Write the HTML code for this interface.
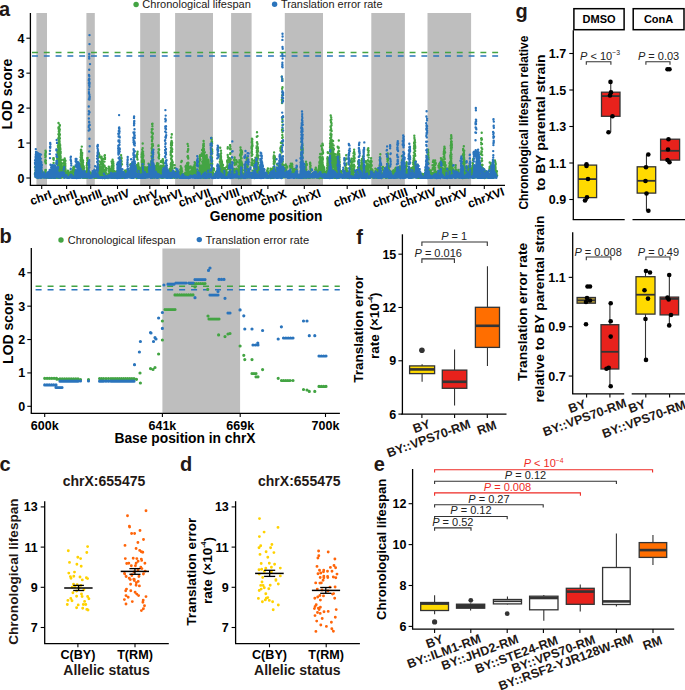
<!DOCTYPE html>
<html><head><meta charset="utf-8"><style>
html,body{margin:0;padding:0;background:#fff;}
svg{display:block;font-family:"Liberation Sans", sans-serif;}
</style></head><body>
<svg width="685" height="690" viewBox="0 0 685 690">
<rect width="685" height="690" fill="#fff"/>
<text x="4.5" y="16" font-size="20" font-weight="bold" text-anchor="middle" fill="#231815">a</text>
<rect x="36.4" y="13" width="10.600000000000001" height="172.2" fill="#bebebe" stroke="none" stroke-width="0"/>
<rect x="86.4" y="13" width="8.399999999999991" height="172.2" fill="#bebebe" stroke="none" stroke-width="0"/>
<rect x="140.2" y="13" width="19.700000000000017" height="172.2" fill="#bebebe" stroke="none" stroke-width="0"/>
<rect x="175.1" y="13" width="37.900000000000006" height="172.2" fill="#bebebe" stroke="none" stroke-width="0"/>
<rect x="231.1" y="13" width="20.5" height="172.2" fill="#bebebe" stroke="none" stroke-width="0"/>
<rect x="284.8" y="13" width="38.19999999999999" height="172.2" fill="#bebebe" stroke="none" stroke-width="0"/>
<rect x="371.3" y="13" width="33.599999999999966" height="172.2" fill="#bebebe" stroke="none" stroke-width="0"/>
<rect x="427.5" y="13" width="43.60000000000002" height="172.2" fill="#bebebe" stroke="none" stroke-width="0"/>
<path d="M34.9 173.9h0m.1-6.6h0m.2 5.6h0m.3-2.5h0m.2 2.4h0m0 4.1h0m.2-6.7h0m0 4.3h0m.1-7.2h0m0 .2h0m.1 .7h0m.2 6.9h0m.3 .4h0m.1-6.1h0m.1-.7h0m0 4.1h0m.1-5.3h0m.1-.8h0m.2 9.1h0m.1-1.8h0m0-5.4h0m0 5h0m.1 2.1h0m.1-5h0m.1 5.2h0m0-4.1h0m.3 2.7h0m0-5.9h0m0 9.4h0m0-8h0m.1 3.1h0m.1-2.8h0m.1-1.3h0m.2 1.5h0m0-1.9h0m0-.3h0m.4 4.4h0m.1-3.7h0m.1 1.3h0m.1 3.7h0m.1 .8h0m.2-7h0m0 4.5h0m.2-.3h0m.1 3.1h0m.1 1.4h0m.2-.1h0m.1 0h0m.1 .4h0m.1 .1h0m.1-.3h0m.1 .8h0m.1 .2h0m.2-1.2h0m0 .6h0m.2-1h0m.1 1.1h0m.1-4.3h0m0 3.4h0m.1 1.2h0m0-6.1h0m0 1.9h0m.2-2.7h0m0 2.2h0m.2 1.2h0m0-.8h0m.1 3.9h0m.2-5.7h0m0 3.7h0m.1 2h0m0-1.6h0m.1-1h0m0 0h0m.1 .2h0m.1-1.6h0m.1 .5h0m0 .1h0m.5 0h0m.1 4h0m0-2.9h0m.2 2.3h0m0-2.3h0m.2 2.1h0m.1-2.5h0m.1 .8h0m.1 .3h0m.1-1.1h0m.2 .8h0m0-.8h0m.1 2.2h0m.1-1h0m0-.8h0m.2 .7h0m.2 1.5h0m.3-3.4h0m0 .2h0m.1 1.6h0m0-2.7h0m.1-17.5h0m0 6.1h0m.1 15.4h0m0-19.3h0m0 14.5h0m0-1.7h0m0 6.7h0m0-5h0m.1 4.1h0m0-14.3h0m0-1.3h0m0 2.2h0m0-8.8h0m0-.2h0m.1-.2h0m0 3.4h0m0-5.9h0m.1 25.2h0m0-4.1h0m0-18.1h0m0 21.2h0m.1-19.1h0m.1 18.3h0m0-4.3h0m.1-6.6h0m0-2.7h0m0-8.6h0m.1 23.8h0m0-1.8h0m.3 3.3h0m0-2.3h0m.1 1.5h0m0 .6h0m.2 .6h0m.1-.2h0m0-.8h0m.1 .8h0m.1-.4h0m.1-.1h0m.3-.4h0m0 .3h0m.3-.2h0m.1 .1h0m.2-.6h0m0 .3h0m.1-.3h0m.2 .4h0m.1-.4h0m.2-.1h0m0 .5h0m0 1.1h0m.3-1.6h0m.1 .1h0m0 .1h0m.2-.8h0m0 1.6h0m.2 .5h0m.1-3.6h0m.3 2.2h0m0-1.6h0m.1 2h0m.1 .3h0m0-1.2h0m.1-.2h0m.2-1.2h0m.1 .1h0m.1 3.2h0m.1-2h0m.1 .7h0m.1 0h0m0 1h0m.1-1.5h0m.1-.6h0m.1-2.4h0m.1 4.3h0m0 .6h0m.1-.6h0m0-7.2h0m0 6.2h0m.1 1.8h0m0-.8h0m.2-.4h0m.2-.2h0m.1 .8h0m.2-.1h0m0 .3h0m.1-.5h0m0-.1h0m.4-1.5h0m0 1.9h0m.1 0h0m0-2.5h0m.2 .4h0m.1-1h0m.2 1h0m0-.2h0m0 .6h0m.1 2.2h0m.1-18.7h0m0-.8h0m.2 16.6h0m.1-12h0m.1 10h0m0 2.2h0m0-15.4h0m0 14.8h0m0-16.2h0m0 .1h0m.1 10.1h0m0 6.1h0m.1-.3h0m.2 3h0m.1-1.4h0m0 .9h0m.1-.1h0m.1 .5h0m.4 .1h0m0-.2h0m0 .3h0m.1 .3h0m.1-.7h0m.1 .1h0m0-.3h0m.3 .9h0m0-.1h0m0-.5h0m.1-1.4h0m.1-3.3h0m0 5.2h0m0-6.9h0m.1-.2h0m.1 0h0m0 4.6h0m0-7h0m0 2.1h0m0 2.2h0m.1 2h0m0-6.6h0m.1 8.7h0m0 1.3h0m.1-.4h0m0-7.4h0m0 6.4h0m0-.2h0m.1 1.5h0m.1-.3h0m0-2.1h0m0 .1h0m.1-.2h0m0 2h0m.1-8.7h0m0 5.6h0m.1 1.5h0m0 .9h0m.1-.1h0m0 .2h0m.1 .9h0m.1-.9h0m.2-.5h0m0-18.9h0m0 19.8h0m0-16.8h0m0-2.2h0m.1 19.4h0m0-15.4h0m.1 12.6h0m0-19h0m.1-3.7h0m0 20.7h0m.1-9h0m0-3h0m0 10.4h0m0-.8h0m0-6.1h0m0-1.3h0m.1 9.4h0m0-4h0m0 6.4h0m0 .5h0m0-11.2h0m0 9.4h0m.1-.5h0m0 1.2h0m.1 2.3h0m0-5.2h0m0 4.2h0m0-4.4h0m.1-16.4h0m0 .7h0m0-9.5h0m0 18.3h0m0-6.1h0m0 16h0m0 3.5h0m0-4h0m.1-1.6h0m0-20.8h0m0 15.6h0m0-14.2h0m0 3.6h0m0 20.4h0m0-13.9h0m0 11.8h0m0-6.4h0m0 2.6h0m.1-27.1h0m0 19.6h0m0-16.2h0m0 .7h0m0 15.8h0m0 1h0m0-1h0m0 2.1h0m0-2.9h0m0-7.2h0m0 19.7h0m.1-11.3h0m0 14.2h0m0-13.8h0m0 10.3h0m0-9h0m0 5.7h0m0-18h0m0 8.2h0m0-.8h0m0 10.6h0m0 3h0m0-24.6h0m0 10.4h0m.1-21.7h0m0 33.9h0m0 1.9h0m0-5h0m0-10.4h0m0 15.5h0m0-22.8h0m0 2.7h0m0 4.8h0m0-4h0m0 4.1h0m0 6.1h0m0 3h0m0 1.4h0m0-31.2h0m.1 11.5h0m0 5.8h0m0 19.4h0m0-2.5h0m0-9.7h0m0 10.6h0m0-4.8h0m0-34.3h0m0 24.9h0m0 13.7h0m0-.8h0m0-10.3h0m0 11h0m0-6.7h0m.1-3.2h0m0 1.1h0m0-1.2h0m0 4.7h0m0-10h0m0 18h0m0-23.8h0m0-24.1h0m0 28.3h0m0-27.8h0m0-5h0m.1 25.6h0m0 10.7h0m0 10h0m0-5.4h0m0 1.6h0m0 1.8h0m0 4.5h0m0-4.4h0m0-20.5h0m0 7.8h0m0 6.6h0m0-1.6h0m0-21h0m0 32.1h0m0 5.5h0m0-21.5h0m0 16.2h0m0-4.8h0m0-7.9h0m0-29.6h0m0 29.9h0m0 1.7h0m.1 3.5h0m0 4.8h0m0 .6h0m0-18.2h0m0 10.3h0m0-14.8h0m0 19.8h0m0 6.2h0m0-1.1h0m0-29.9h0m0 26h0m0-17.2h0m0 18.4h0m0-8.1h0m0-2h0m0-5.2h0m0-14.9h0m.1 29.1h0m0-5h0m0 9.2h0m0-40.2h0m0 18.7h0m0 12h0m0 8.2h0m0 4.3h0m0-18.3h0m0-14.9h0m0 34.1h0m0 2.1h0m0-8.6h0m0-24.8h0m0 33.1h0m0-29.8h0m0 4.4h0m0 12.6h0m0 9.7h0m0-18h0m0 2.4h0m.1 16.3h0m0-30.5h0m0 32.1h0m0-13.6h0m0-16.9h0m0 13.9h0m.1-23.7h0m0 30.3h0m0-35h0m0-1.8h0m0 22.9h0m0 21.6h0m0-2.3h0m0-2.7h0m0-14.7h0m0 18.5h0m0-1.2h0m.1-12.8h0m0 15.8h0m0-3.8h0m0-.2h0m0 2.9h0m0-43.5h0m0 24.2h0m0-14.9h0m0 37.7h0m0-9.9h0m0-.1h0m0-1.2h0m0-6.1h0m0-4.3h0m0 7.7h0m0-31.3h0m0 31.5h0m.1 7.9h0m0-17.1h0m0 3.2h0m0-26.6h0m0 37.2h0m0-5h0m0-17.4h0m0-18.9h0m0 39.2h0m0 9.7h0m0-24.2h0m0 13.6h0m.1 2.4h0m0-15.4h0m0-3.5h0m0-5.7h0m0 29.4h0m0-18.2h0m0-11.6h0m0 13.5h0m0-12.5h0m0 14.2h0m0-6.9h0m0 1.3h0m0 23h0m0-23h0m0 21.8h0m0-33h0m0 33.8h0m.1-28.7h0m0-15.2h0m0 3.5h0m0 4h0m0 22h0m0 7.1h0m0 5.1h0m0 2.1h0m0-1.9h0m0-32.1h0m0 23.5h0m0 2.3h0m0 8.3h0m0-43.5h0m0 3h0m.1 36h0m0-34.6h0m0 28.5h0m0 9.1h0m0-2.4h0m0-35.4h0m0 25.2h0m0-19.7h0m0 7h0m0-19.2h0m0 13.7h0m0 32.8h0m0-39.6h0m0 16.8h0m0-7.1h0m0 2.3h0m.1-2.6h0m0 9.1h0m0-13h0m0 17.2h0m0 14.4h0m0-15h0m0 .2h0m0 1.9h0m0 3h0m0 12.2h0m0-7h0m.1-13.6h0m0-2.5h0m0 13.5h0m0 1.9h0m0-18.5h0m0 8.9h0m0-32.9h0m0 31.8h0m0 13.3h0m0-32.2h0m0 5.8h0m0 33.5h0m0-42.1h0m0 20.6h0m0 5.1h0m0-2.7h0m0 18.9h0m0 .8h0m0-3h0m.1 1.5h0m0-46.5h0m0 20.5h0m0-1.7h0m0 10.8h0m0 3.4h0m0 13.3h0m0-17.3h0m0 2.6h0m0 11h0m0-33.6h0m0 15.7h0m.1 .4h0m0 10.4h0m0-12.3h0m0 15.9h0m0-43.4h0m0 37.2h0m0 8h0m0-32.1h0m0-4.3h0m0 14.1h0m0 10.5h0m0-12.4h0m0 21.9h0m.1-.9h0m0 9.3h0m0-13.8h0m0-15h0m0 12.6h0m0-2.6h0m.1-11.1h0m0 25.9h0m0-3.9h0m0 7.4h0m0-22.6h0m.1 12.3h0m0 9.3h0m0-3.1h0m0-7.4h0m0-19.7h0m0 29.5h0m0-8.4h0m0-5.7h0m0-11.1h0m.1 18.2h0m0 5h0m0-11.4h0m0 14.1h0m0 .4h0m0-27.3h0m0 11h0m0-.6h0m0-7.9h0m.1 24.1h0m0-13.4h0m0-12.4h0m.1 26.1h0m0-19.3h0m0 9.1h0m0 11.3h0m.1-1.2h0m0-.3h0m0-21.4h0m.1 22.9h0m0-24.5h0m0 21.5h0m0-13.7h0m0-2.6h0m0 17.7h0m.1 1.9h0m0-9.4h0m0 2.3h0m0 .4h0m.1 6.3h0m.1-5.9h0m0 1.9h0m0 2.2h0m0 3.2h0m0-4.4h0m0 4.1h0m.1-14.9h0m0 12.7h0m0 2.4h0m0-2.9h0m0-2.2h0m.1 1.7h0m0-3.8h0m.1 3.6h0m.1-5.5h0m0 5.7h0m.1-5.7h0m.1 7.9h0m0-13.5h0m0 6.7h0m0-4.7h0m0 7.6h0m0 2.3h0m0-5.6h0m.1 .3h0m0-5.2h0m0 1.2h0m0 10.2h0m0 1.8h0m.1-17.8h0m0 16.4h0m.2-8.4h0m0 4.9h0m0-1.6h0m.2 .2h0m0 2.7h0m0-6.6h0m0 7.2h0m.1-1.6h0m0-1.3h0m0 .2h0m0-2.1h0m.2 2.1h0m0 1.6h0m0 1.4h0m.2-3.3h0m0 2.4h0m.4-2.2h0m.3 4.6h0m0-.2h0m0-5.8h0m0 7.1h0m.1-5.8h0m.2-5.1h0m.1 4h0m0-3.9h0m0 8.9h0m0-12.1h0m.1-2.9h0m0 16.1h0m.1-3.5h0m0-5h0m0-5.1h0m0 14.1h0m0-.9h0m.1-5.9h0m0-10.5h0m0 13.2h0m0-12.4h0m0 9.3h0m.1-4.7h0m0 11.5h0m0-5.9h0m.1-4.7h0m0-3h0m0 12h0m0-1.5h0m0-11.4h0m.1 14.1h0m0-1.5h0m0-2.9h0m0 5.1h0m.1-1.5h0m0-5.5h0m0 2.7h0m0-7.6h0m.1 7h0m0 3.2h0m.1-9.3h0m0 6.2h0m0-13.7h0m.1 4.6h0m0-.4h0m0 6.3h0m0-4.5h0m0 10.9h0m0-7.6h0m0-3.9h0m0 13.2h0m.1-11.9h0m.1 10.9h0m0 .9h0m0-16.8h0m0 15.5h0m0-1.4h0m0-3h0m0 1.9h0m.1 2h0m0-10.8h0m0 11h0m0-.3h0m.1-8.4h0m0 9h0m0-7.1h0m.1-.3h0m0-2.5h0m0 9.4h0m0-11.2h0m0-.3h0m0 2.2h0m0 10.3h0m0-12.8h0m.1 13h0m0-5.4h0m0 3.4h0m0 1.9h0m0-5h0m0 0h0m.1-10.5h0m0 8.6h0m0 1.3h0m0 3.7h0m.1 2.1h0m0 .6h0m0 .3h0m.2-2.2h0m0 2.2h0m0-.5h0m.1-1.3h0m.1 1.1h0m0-2.4h0m0-1.2h0m0 3.5h0m.1 .2h0m0-4.5h0m0 2.9h0m0 2h0m0 0h0m.1-1.2h0m.1-3.9h0m0 5h0m0-4.2h0m.1-.7h0m0 4.5h0m.1-3.4h0m.1 4.2h0m.1-1.8h0m0 .3h0m.3-1.1h0m0-2.5h0m0 .1h0m.1 .3h0m.1 1.8h0m0-1.7h0m.2 3.7h0m.2-3.3h0m0 1.5h0m.2-2h0m.1-2h0m.1 3.4h0m.2 3.2h0m.2-6.3h0m.1 1.8h0m.2 1.5h0m.1-.9h0m.2 2.4h0m.2-2.2h0m0 1.1h0m.1-.4h0m0 2.4h0m0-3.9h0m.1 .2h0m.1 2.1h0m.2 2.3h0m.1-2.8h0m.1 2.4h0m.2-3.2h0m.1 .7h0m.1 .7h0m.3-2.1h0m.1 2h0m.1-3.5h0m0 1.7h0m.2 1.6h0m0 2h0m.4-5.5h0m.2 3.1h0m.1 .1h0m0 2.3h0m.1-2.1h0m0 1.2h0m0-1.3h0m.1-2.4h0m0 1.7h0m.1 .3h0m.1 .4h0m0 2h0m.1 .3h0m0-4.3h0m0 .6h0m.1 3.3h0m.3-2.2h0m.1 .4h0m.1-.6h0m0 .1h0m0-1.1h0m.1 4.1h0m0-7.4h0m.2 1.3h0m.1-3.3h0m.3 2.6h0m0-3.5h0m.1 3.1h0m.4-3.4h0m.2 .3h0m0 4.4h0m.1-1h0m.1 5.2h0m.1-3.5h0m0-.8h0m.1-2h0m.2 5.2h0m.3 1.1h0m0-1.4h0m0 1.3h0m.4 0h0m0 .9h0m.1-.6h0m.1-.5h0m.1 1.4h0m.4-.4h0m0-.6h0m0-.8h0m.1-.9h0m.1 1.5h0m.1-4.6h0m.1 5h0m.1-3h0m.1 3.8h0m.2-3.8h0m0-1.5h0m.2 3.1h0m0-2.1h0m.2-1.9h0m.1 3.2h0m0-2.9h0m.5 6.3h0m0-5.3h0m0-.3h0m.3 5.8h0m0-1.4h0m.1-.6h0m.1-.7h0m.2 .9h0m0 .1h0m.1-.8h0m.1 1.3h0m.1 .2h0m0-.9h0m.2-11.3h0m.2 2.3h0m0 7.9h0m.1-.5h0m0-5.9h0m.1 6.1h0m0 2.5h0m0-5.7h0m0-.8h0m0-1.5h0m.1 8.1h0m.1-9.4h0m0 7.8h0m0-1.7h0m0 .8h0m0 1.6h0m0-3.4h0m0 1.5h0m.1-2.2h0m0 3.5h0m0-9.2h0m0 8.1h0m.1-3.7h0m.1 3.8h0m0 2.5h0m0-1h0m.1-9.9h0m0 4h0m0-1.7h0m0 6.8h0m.1-5.9h0m0-2.2h0m0 .4h0m0 8.6h0m.1 1.9h0m0-7.2h0m.1 3.1h0m0 2.2h0m0-5h0m0 6h0m0-16.7h0m0 5.1h0m.1-8h0m0 11h0m0 7.6h0m0-14.6h0m0 13.5h0m.1-.9h0m0-5.9h0m0 2h0m0-9.4h0m0 6.8h0m.1 6.6h0m0-6.5h0m0 8.7h0m0-1.9h0m0-12.6h0m.1 9.3h0m0-15.8h0m0 16.5h0m0-3.2h0m0-15.2h0m0-3.2h0m.1 26.3h0m0-.1h0m0-25.8h0m0 13.9h0m.1 6.3h0m0-18.1h0m0 6h0m0 9.6h0m0 5.3h0m0-22.1h0m0 8.1h0m0-9.6h0m.1 22.9h0m0-22.8h0m.1 25.9h0m0-14h0m0-10.6h0m0 24.4h0m0-2.4h0m0-2.8h0m0 5.9h0m.1-2.1h0m0-5.1h0m0-13.9h0m0 16.9h0m0 3.9h0m0-13.1h0m0 3.1h0m0-.1h0m0-.2h0m0-6h0m.1 13.1h0m0 1.5h0m0-2.7h0m0 2.2h0m0-5h0m0 6.2h0m0-3.4h0m.1-8.7h0m0 1h0m0 3.7h0m0 8h0m0-16.6h0m0 7.5h0m0-8.3h0m.1 2.9h0m0 9.5h0m0-11.3h0m0 11.6h0m0-2.1h0m0-2h0m0 2.2h0m0-6.5h0m0 8.9h0m0-15.1h0m.1 9.9h0m0-19.6h0m0 7.3h0m0 22.8h0m0-4.1h0m0-7.1h0m0-1.5h0m.1-.9h0m0 11.2h0m0 0h0m.1-2.5h0m0-6.8h0m0 4h0m0 3.3h0m0-10.3h0m0-4.9h0m0 11.2h0m0 5.4h0m0-15.3h0m0 16.3h0m0-9h0m.1-1.6h0m0-9.2h0m0 7.2h0m0-7.3h0m0 17h0m0-.3h0m0-6.6h0m0 4.2h0m.1 3.2h0m0-11.9h0m0 14.8h0m0-22.2h0m0 19.4h0m0-1.6h0m0 5.9h0m0-6.9h0m0 4.2h0m.1 1h0m0-14h0m.1 12.2h0m0 3.2h0m0-4.8h0m0-1.2h0m0 4.9h0m0-7.6h0m0 6.5h0m.1-.3h0m0-8h0m0 2.7h0m0 2.7h0m0-4.1h0m0 .2h0m0 9.6h0m0-7h0m0 2.8h0m.1-6.5h0m0 7.5h0m0-8.4h0m0-4.9h0m0 9h0m0 5.3h0m0-9h0m0 7.7h0m0-6.1h0m0 5.9h0m0-11.9h0m0 13h0m.1-1.1h0m0 1.8h0m0-10.2h0m0 9.1h0m0 .1h0m0-2.4h0m0 5.7h0m0-7.4h0m.1-4.9h0m0 3.4h0m0 7.2h0m0-10.6h0m0 12.7h0m.1-2.5h0m0 1.8h0m0-13.2h0m.1 13.6h0m0-6.1h0m0 4.6h0m0 1.4h0m0-.4h0m.1-5.9h0m0-10.7h0m0 2.2h0m0 7.2h0m0 7.2h0m0-1.1h0m.1-8.8h0m0 9.4h0m.1 .7h0m0-8.3h0m0 6.6h0m0-5.2h0m0-.8h0m.1 .7h0m0 6.6h0m.1 0h0m0-.6h0m0-6.9h0m0 3h0m0-6.1h0m0 5.4h0m.1 4.9h0m0-4.8h0m0 .3h0m0-3.9h0m0 4.1h0m0 .9h0m0-5.2h0m0-1.8h0m0 5.8h0m.1 .2h0m0 1.4h0m0-3.5h0m0 1.9h0m0 .1h0m0 3.7h0m0-1.3h0m.1-.3h0m0 0h0m0-1.9h0m.1 5h0m0-3.4h0m0-5.4h0m0-1.3h0m0 6.4h0m.1 3.9h0m0-1.9h0m.1 .5h0m.1 0h0m0-1.8h0m.2 2.3h0m0-3.6h0m.1 4.9h0m0-.4h0m.1-.6h0m.1-.4h0m.2-3.5h0m0-.9h0m.3 4.6h0m.1 .5h0m.1 .3h0m.1-.9h0m.1 .3h0m0 1h0m.1-1.3h0m.2-.3h0m.1-.2h0m.3-1.1h0m0 2.7h0m.1-3.4h0m.1 1h0m.1 0h0m.1 .6h0m0-8.1h0m0 2.6h0m.1 3.8h0m0-8.6h0m.1 9.6h0m0-.2h0m.1-2.1h0m0-1.2h0m.1 5.6h0m0-6.3h0m0-6.4h0m0-1.3h0m0-.6h0m.1-4.5h0m0 19.8h0m.1-3.6h0m0-.7h0m0 3.1h0m.1-2.4h0m0-5.4h0m0-9h0m.1 3.8h0m0 9.1h0m0 2.7h0m.1-2.7h0m.1 2.8h0m0-1h0m0-10.1h0m0-6.6h0m0 12.9h0m.1-7.1h0m0 11.5h0m.2-1.8h0m0 3.3h0m0 .7h0m.1-6.2h0m.1 3.5h0m.1-1.4h0m0-4.7h0m0-7.3h0m.1 11.5h0m.1-2.2h0m.1 5.8h0m.1-4.9h0m.2-.1h0m.2 3.5h0m0-1.2h0m.1 .3h0m.1-.1h0m.1-.2h0m0 .4h0m.3 .1h0m.1 3h0m.2-2.3h0m.2-.2h0m.1-1h0m.1 0h0m0 .6h0m0-1.8h0m.3 2.1h0m0 1.2h0m.2-2.1h0m.1 3.1h0m.1-.4h0m.1-2h0m.2 2.3h0m.1-2h0m.2 .5h0m.2-.5h0m0 2.6h0m.1-2.9h0m.1 0h0m.2 1h0m0 1.1h0m.4-1.8h0m0-1h0m.2 .5h0m.1-.4h0m0-1.2h0m.1 .8h0m.2 .7h0m.1-1.3h0m0 1.7h0m.1 .3h0m0-1.1h0m.1 3h0m.3 .1h0m.1-2.5h0m.3 1.4h0m0 1.9h0m.1-1.6h0m0 1.9h0m.2-1.9h0m0 0h0m0-4.6h0m.3 6h0m0-1.4h0m0 .4h0m.1-5.2h0m0 5.2h0m0-.2h0m0 .8h0m.5-.2h0m.1-.7h0m.1 0h0m0 .5h0m0 .2h0m.2 .1h0m.2 .9h0m.1-.2h0m0 0h0m.4-.9h0m0-.5h0m.1-.2h0m.1 .6h0m.3-.6h0m0 1.8h0m.1-2.4h0m.1 .9h0m.1-.3h0m0-7.8h0m.1 4.8h0m0-1.2h0m.1-1.2h0m.1 6.3h0m.1-1.4h0m.1-.4h0m0 2.7h0m0-1.3h0m0 0h0m0-6.8h0m.1 2.7h0m.1 1.1h0m0-1.6h0m.1-7.9h0m.1 11.1h0m0 0h0m.1-5.5h0m.1 5.6h0m.1 .5h0m.1 .2h0m0-7.2h0m0 6.3h0m0-3.9h0m.1 4.8h0m.1-22.6h0m0 16.1h0m.1-12.2h0m.1 12.3h0m.1 1.8h0m0 6.6h0m0-10.5h0m0 6.1h0m0-2.9h0m.1 .2h0m0-9.3h0m0 11.4h0m.1 .2h0m0 1.8h0m0-19.9h0m0 19.3h0m.1-17.8h0m0 .4h0m0 8.4h0m.1 1.2h0m.1 2.9h0m.2-.3h0m0 2.2h0m.1 1.6h0m.1 .3h0m.2 0h0m0 2.6h0m0-.9h0m.1 2h0m0-4.6h0m.1 3.9h0m.1-.3h0m.2-6.4h0m0 8.3h0m0-14.8h0m0 13.7h0m0-12.2h0m0 3.3h0m0-5.1h0m.1 9.2h0m0 .4h0m0-.8h0m0-1.5h0m0 6.6h0m0 .9h0m.1-.3h0m0-3.5h0m.1 2.7h0m0 1.2h0m.1-10.4h0m0 9.6h0m.1-18.3h0m0 14.6h0m0 2.9h0m.1 .5h0m0-1.4h0m.1-18.4h0m0 13.9h0m.1 6h0m0-15.3h0m0-4.3h0m0 19.2h0m.1-2.1h0m0 3.5h0m.1-9.7h0m0-3.9h0m.1 12.9h0m.1-16.9h0m0 2.4h0m.1-3.8h0m0 11.2h0m.1 6.4h0m0-2h0m0 .6h0m.1-2.2h0m0 4.9h0m0-15.3h0m0-3.2h0m.1 8.4h0m0 3.7h0m0-3.7h0m0 9.9h0m0 .3h0m.1-4.9h0m0-6.1h0m0 7.5h0m0-7.2h0m0 3.6h0m0-10h0m.1 13.3h0m0 4.2h0m0-13.6h0m0 5.2h0m0-3.9h0m0 5.7h0m.1-11.8h0m0 16.7h0m0 .2h0m.1 .6h0m0-1.5h0m.1 2.2h0m0-14.2h0m0 8.1h0m0 4.7h0m0-2.1h0m0-3.4h0m.1-3.2h0m0-5.9h0m0 15.8h0m0-.4h0m.1-.3h0m0-11.3h0m0 6.5h0m.1-5.9h0m0 .4h0m0 9.8h0m0-9.1h0m0 6.6h0m0-9.8h0m0 8.1h0m0 1.4h0m.1 2.8h0m0-9.3h0m0 10.5h0m0-2.9h0m0 1.9h0m.1-10.5h0m0 11.3h0m0-8.7h0m.1 3.4h0m.1 2.2h0m0-3h0m0-.2h0m0 1.6h0m0 5.1h0m0-6.9h0m0 5.5h0m0-6.1h0m0-.4h0m.1 2.9h0m0 2.1h0m0 0h0m0 1.3h0m0 .4h0m.1-.6h0m.1 1.9h0m0-1.4h0m0-1.8h0m.1 2.4h0m0-.6h0m.1-.6h0m0-5h0m0 6h0m0-.1h0m.1-1.9h0m.1-3h0m.1 1.5h0m0-14.9h0m0 18.7h0m.1-11.6h0m0-4h0m0-5.8h0m0 14.4h0m0 6.9h0m0-5.3h0m0 5h0m.1-4.7h0m0 1.9h0m0-3.9h0m.1 1.5h0m0-5.1h0m.1 9.9h0m0-.9h0m0 .9h0m0 1.2h0m.1-.5h0m0 .3h0m0-6.9h0m0-15.3h0m.1 22.4h0m0 .4h0m0-1.2h0m0-19.1h0m0 1.2h0m.1 17.7h0m0-3.6h0m0 4.6h0m.1-3.5h0m0 3.1h0m.1-4.9h0m0 4.8h0m0 .5h0m.1-.5h0m.1-5.6h0m0-.7h0m0 6.2h0m.1-.1h0m0-5.4h0m.1 5.6h0m0 .6h0m.3-.2h0m0-.3h0m0 .7h0m0-1.4h0m0-8.3h0m0 9.2h0m.2-.3h0m0-7.9h0m.1-1h0m0 5.1h0m.1-3.3h0m.1 6.4h0m.1 1.4h0m.1-1.2h0m0 .6h0m.1-.9h0m.1 1.4h0m.1 0h0m0-1.2h0m0-.9h0m.3 .5h0m0 .3h0m.1-.2h0m0-.1h0m.1-.2h0m.4 .7h0m.1 1.4h0m.1-1.7h0m.1-1.7h0m.1 1.4h0m.1 1.8h0m.1-1.2h0m.1-2.7h0m0-5.3h0m0 7.9h0m.1-5h0m0 2.6h0m.1 1.5h0m0-9h0m.1 4.3h0m.1 3.3h0m.1-4.6h0m0 4.4h0m.1 2.4h0m0-8.7h0m.1 7.3h0m0-1.2h0m.3 3.5h0m0-1.8h0m0-1.3h0m.1-4h0m0 5.7h0m.2-1.9h0m.1-4.7h0m.1 2.5h0m.2 .6h0m0 2.6h0m.1 2.3h0m.1-5.2h0m0 5.2h0m0-.5h0m0-6.9h0m.1 4.3h0m0-1.7h0m.2-3.5h0m.1 6.3h0m0-3.8h0m0 2.6h0m.2 1.5h0m.1-5.9h0m.3 2.9h0m0 3h0m0-4.3h0m.1-4.9h0m0 6.6h0m0 4.2h0m0-15.7h0m.1 8.3h0m.1 8.1h0m0-6h0m0 4.5h0m0-2.8h0m.1 2.3h0m0-13.3h0m.1 .6h0m0 2.6h0m0 2.7h0m.1-5.5h0m0 6h0m0-2.7h0m0 8.8h0m.1-6.4h0m0 7.4h0m0-13.4h0m.1 10.3h0m0-8.8h0m0-2.6h0m0 14h0m0-13.9h0m.1 6.6h0m0-2.1h0m0 10.5h0m0-4.3h0m.1 .2h0m0-11.4h0m0 2.6h0m0 13.9h0m0-1h0m.1-10.4h0m0 9.7h0m0-16.3h0m0 7.6h0m0 9.7h0m.1-13.3h0m0 13.8h0m0-11.9h0m0 8.9h0m0 1.3h0m0-.6h0m.1-9.2h0m0-4.5h0m0 12.6h0m0-.1h0m.1-9.6h0m0 10.8h0m.1 2.3h0m0-15.1h0m0 9.9h0m.1 4h0m0-9h0m0 10.3h0m.1-14.6h0m0 9h0m0-2.2h0m0 7.6h0m0-2h0m0 .9h0m0-14.6h0m.1 11.1h0m0 1.8h0m0 1.9h0m0-11.8h0m0 10.2h0m.1-6.9h0m0 6.9h0m0-8.5h0m0-2.8h0m0 5.2h0m0 7.3h0m.1-10.3h0m.1 9.9h0m0 .5h0m0-1.6h0m.1 .2h0m0 .3h0m.2 .8h0m0 .6h0m.2 .4h0m0-2.1h0m.1-1.2h0m0-.4h0m.1 4.7h0m.1-2.6h0m0-3.5h0m.1 4.6h0m.1-5.2h0m0 2.5h0m.1 3.5h0m.1 .6h0m0-2.1h0m.1-3.8h0m0 4.2h0m0-2.6h0m.1 .1h0m.1 1.8h0m0 .5h0m0 .1h0m0-2.8h0m.1 1h0m0 1.1h0m0 .3h0m.1 .2h0m0-4h0m.1 4.1h0m.3 .7h0m0-1h0m.2 1.3h0m0-1.6h0m0 2.1h0m.1-1.8h0m.3-.3h0m.1 .7h0m0 1.5h0m.1-2.1h0m.2 .4h0m.3 .5h0m0-.4h0m0-.7h0m.1 1.5h0m.2-4.5h0m0 3.1h0m.1 .3h0m0-4.8h0m0 2.1h0m.1 3.1h0m0-4.5h0m0 4.3h0m.2 .6h0m.4-3.8h0m0 4.1h0m.1-1.3h0m.1-.8h0m.1-.2h0m.2-3h0m.1-.7h0m.2 4.2h0m.1-2h0m0-1h0m.1 6h0m.1-4.8h0m.1 1.6h0m0 .8h0m.2-1.6h0m0-1.6h0m.1 .2h0m0 0h0m0-2h0m.1 6h0m0-3.4h0m0-1.1h0m.1 2.1h0m.1-.3h0m0 1h0m.2-.6h0m.1-7.7h0m0 10.5h0m0-6.5h0m0 0h0m.1 3.1h0m0-1.5h0m0 .8h0m.1-13.9h0m.1 13.6h0m0-9.7h0m0 5.7h0m0 1.9h0m0 4.5h0m.1-.9h0m.2-11.9h0m0 13.5h0m0-13h0m.1 10.7h0m0-11.8h0m0 15.7h0m0-3.8h0m0 .3h0m0-13.4h0m.1 14.1h0m0-11.5h0m0 12.4h0m0-15.1h0m.1-2.1h0m0 7.3h0m0-5.4h0m0-5h0m0 16h0m.1 4.5h0m0-3h0m0 2.6h0m.1 .3h0m.1-18.1h0m0 .8h0m.1 18.1h0m0-2.4h0m.1-12.7h0m0 .2h0m0 16.3h0m0-19.4h0m0 6.3h0m.1 9.4h0m0-2.3h0m0 4.9h0m.1-.5h0m0-3.5h0m.1 .9h0m0 2.8h0m0-.2h0m.1-11.9h0m.3 11.7h0m.1 .1h0m.1-.2h0m.1 .4h0m.1 .8h0m.2-.4h0m0 .5h0m.1-.4h0m.1 1h0m.3-.7h0m.1 .4h0m.1-.2h0m0-.2h0m.1-.4h0m.2 .2h0m.1 0h0m.2-1.7h0m.1 2.3h0m.2-1.7h0m.1-1.5h0m.1-3.5h0m0 2.6h0m.2-1.4h0m0 1.9h0m0-1h0m.4-2.4h0m.1 .7h0m.1-.3h0m0 3.4h0m.4-1.4h0m0-1.4h0m0 .7h0m.1 3.6h0m.2-3.5h0m0 .9h0m.2 .1h0m.1 1.7h0m0 1.4h0m.3-4h0m.1-.3h0m0 1.7h0m0 3.2h0m.5-1.4h0m.2-1.2h0m.1-2.8h0m0-1.8h0m.1 1h0m0 .1h0m.1-.8h0m0 .9h0m.4-1.8h0m.1 3.2h0m0-3.2h0m.1 3.6h0m.1-3h0m.2 4.6h0m.1-3.7h0m.1 4.5h0m.1-1h0m.1 2h0m.1-1.3h0m.1 .9h0m.1 .7h0m.4 .4h0m.2-1h0m0-5.1h0m.1 5.7h0m0-.6h0m0-2.4h0m0 4h0m.1-12.7h0m0 11.4h0m0-.8h0m.1-1.9h0m.2 2.2h0m0 .8h0m.1 .8h0m0-12.9h0m.1 10.1h0m.1-6.7h0m0-2.8h0m.2 9.9h0m0-1.6h0m.1 1.8h0m.1 0h0m.3 .1h0m0-1.1h0m.1 .9h0m0-1.7h0m.2 1.7h0m.1 1.7h0m.3-6.3h0m0 5.6h0m0-.7h0m.2-1.3h0m.3-.1h0m.1-3.6h0m.1 6.1h0m.1-2h0m0-4.3h0m.1-2.2h0m.2 4h0m.2-2.6h0m.1 1h0m0-.2h0m.2 5h0m.2 1.3h0m.1-.4h0m.1-1.3h0m.1 .5h0m.1-1.5h0m0-.6h0m0 2h0m.2 1.6h0m0-2.9h0m0-2.1h0m.1 .8h0m.1 3.6h0m0-2.4h0m.3-.8h0m.1 .6h0m0 3.9h0m0-.6h0m.1-1.8h0m.1-5h0m0 7.4h0m.1-6.2h0m0 3.8h0m.1 .3h0m0-1.1h0m.2 2.8h0m0-5.6h0m.1-2.9h0m.1 1.6h0m.1-2.1h0m.1 6.5h0m0-8.5h0m0 6.4h0m.1 1.4h0m.1-5h0m0-11.7h0m.1 18.6h0m0 1.8h0m0-2.7h0m0-6.8h0m.1 8.2h0m0-.5h0m0 1.1h0m.1 1.3h0m0-7.2h0m0-3.3h0m0 5h0m0-16.6h0m0 20.9h0m0-6.1h0m.1-1.1h0m0-14.7h0m0 20.8h0m0 .6h0m0-11.4h0m0-9h0m.1 13h0m.1 1.1h0m0 5.4h0m0-4.4h0m0-.2h0m0-4.2h0m0 8h0m0-6.5h0m0-10.9h0m.1-3.3h0m0 22.8h0m0-7.1h0m.1-2.3h0m0 5.4h0m.1 4h0m0-5.2h0m0 3.3h0m0 .9h0m0-16.4h0m0 7.6h0m0 3.3h0m0-4.4h0m0 11.7h0m.1-23.3h0m0 13.5h0m0-8.2h0m0 13.4h0m0 4.5h0m0-3.3h0m0-2.7h0m0-19.4h0m.1 24.4h0m0-4h0m0-20.7h0m0 26h0m0-6.7h0m0 5.3h0m0-11.6h0m0 6.5h0m.1-4.8h0m0-1.1h0m0 5.3h0m0-4.7h0m0 9.7h0m.1 1.4h0m0-1.6h0m.1 2.1h0m0-3.7h0m.2 2.8h0m0-.4h0m.1 .1h0m0 .3h0m.1 .6h0m0-5.7h0m0-8.3h0m0 9.8h0m0 2.6h0m.1-11.2h0m0 11.4h0m.1-.7h0m0 1.2h0m0-9.4h0m0-1.3h0m.1 5.6h0m.1-3.9h0m0 3.4h0m.1 6.3h0m0-7h0m.2 4.8h0m.1-6.2h0m0 7.9h0m.1-7.3h0m0 4.5h0m.1 4.1h0m0-4.2h0m.1 1.1h0m.1-5.5h0m.2-1.4h0m.1 2.1h0m0 3.8h0m.1 2.7h0m0-1.7h0m.1-2.1h0m0-1.5h0m.1 0h0m0-1.5h0m.1 4.4h0m0 1.8h0m0-4.2h0m.1-1.2h0m0 5.6h0m.1 1h0m.1-.6h0m0 1.5h0m0-4.6h0m.2 .9h0m.2-.4h0m.1 2.7h0m0 .2h0m0 1.2h0m0-6h0m.2 5.5h0m.1 .4h0m0-9.6h0m0 8.4h0m0-.2h0m.2-6.4h0m0 6.1h0m.1-6.4h0m0 5.9h0m0-6.3h0m0-12.4h0m0 19.3h0m.1-21.4h0m0 19.9h0m.1 2h0m0-19.9h0m0 20h0m0-2.5h0m0-3.9h0m.1-9.5h0m0 11.4h0m0-19.2h0m0 8.8h0m0 15.7h0m.1-20.6h0m0 14.9h0m0 4.4h0m0 1.1h0m0-11.2h0m0-3.5h0m0 11.9h0m.1 2h0m0-.1h0m0-11.9h0m0 12.2h0m0-19.4h0m0 11.8h0m.1-.7h0m0-8.9h0m0 2.1h0m0-12.1h0m0 26.5h0m0 .5h0m0 .5h0m0 .6h0m0-13.4h0m0 3.4h0m0-1.5h0m.1-5.6h0m0 5.8h0m0 8.1h0m0 .4h0m0-16.1h0m0-5h0m0 21.2h0m0 2.2h0m.1-21.3h0m0 19.2h0m0-23.4h0m0 17.6h0m0-2.6h0m0-1.6h0m0 9.2h0m0 0h0m.1-6.7h0m0-8h0m0 4.3h0m0-8.6h0m0 18h0m0-5.3h0m0-14.5h0m0 16.4h0m0 4.8h0m0-8.7h0m0 2.4h0m0-5.6h0m.1 4.6h0m0-.6h0m0-14h0m0 19.7h0m0-9.5h0m0-10.2h0m0 6.2h0m0 16.7h0m0-4.4h0m0-2.3h0m0 1.8h0m.1 6h0m0-11.3h0m0-22h0m0 18.3h0m0 8.8h0m0-9.7h0m0-12.8h0m0 27.8h0m0 1.6h0m0-16.7h0m0 8.9h0m.1-4.3h0m0 12h0m0-9.5h0m0-8.3h0m0 14.7h0m0-4.6h0m0-15.9h0m0 2.4h0m0 14.2h0m0-15.2h0m0-3.4h0m0 11.1h0m0-1.9h0m0 5.1h0m0 6.7h0m0 3.9h0m0-14.3h0m.1-5.5h0m0 20.2h0m0-17.8h0m0 4.4h0m0-4.1h0m0 6.3h0m.1 .7h0m0-9.4h0m0 17.5h0m0 .6h0m0 2.2h0m0-16.9h0m0 16.7h0m0-4.6h0m0 4.3h0m.1-11.7h0m0 .3h0m0-11.7h0m0-2.2h0m0 19.4h0m.1-3.6h0m0 9.9h0m0-10.3h0m0 10.4h0m.1-.1h0m0-2.1h0m0 .2h0m.1 1.4h0m0-4.8h0m0 2.8h0m0-5.5h0m0-13.7h0m0 9.7h0m.1 8.1h0m0-3.1h0m.1-6.2h0m0 13.1h0m0-15h0m.1-2h0m0 4h0m0 11.6h0m0-7.9h0m.1-.4h0m0-.3h0m0 7.7h0m0-12.2h0m0 7.6h0m0-3.6h0m0 10.2h0m0-1.2h0m0-2.8h0m0 3.8h0m.1-8.4h0m0-7.2h0m.1 15.8h0m0-7.2h0m0-1.9h0m0 9.6h0m0-1.3h0m0-4h0m.1 0h0m0 2.4h0m0 3.1h0m0-7.9h0m.1 1.5h0m0-1.1h0m0 .8h0m0 5.7h0m0-1.2h0m.1-5h0m0 1.5h0m0 3.3h0m0-4.8h0m.1 1.6h0m0 .7h0m0 3.7h0m0-5.8h0m0-2.3h0m0 8.3h0m.1-7.5h0m0 5.8h0m0 .7h0m0-8.2h0m.1 8.4h0m0-8.6h0m.1 10.4h0m0-5.4h0m.1 5.2h0m.1-1.8h0m0-3.8h0m0 5.8h0m0-.3h0m.1-2.7h0m0 2.9h0m0-8.6h0m0 3.8h0m0 1h0m.1 2.8h0m0-2.6h0m0-2.1h0m0 2.7h0m0-7h0m.1 6.5h0m0 .8h0m0-2.7h0m0-.5h0m0-2.8h0m0 4.8h0m.1-3.2h0m0 .7h0m.1 4.9h0m0-2.3h0m.1-5.5h0m.1 6.1h0m0 1.8h0m0-3.4h0m0 1h0m0 1h0m0-1.3h0m0-.5h0m.1-2.9h0m.1 6.9h0m0-.8h0m.1-3.9h0m0 1.3h0m0 .3h0m.1-6.5h0m0 1.8h0m0 1.9h0m.2 3.4h0m0-2.2h0m.1-1.4h0m0 .8h0m.1 1.5h0m0-3.8h0m.1-.3h0m0 1.9h0m0 .3h0m.1 5.3h0m0-1.6h0m0-6.7h0m.1 4.4h0m0 .3h0m0-2.2h0m.3 5.6h0m0-4.3h0m.1 2.8h0m0-.3h0m.3-1.9h0m0-2.3h0m0 6.2h0m.1-9.2h0m0 9.4h0m0 .4h0m.1-2.8h0m0 1.7h0m0-3.9h0m0 3.9h0m0 .2h0m.1 .3h0m0-3.5h0m.1 1.5h0m0 .3h0m.1 .1h0m0-4.6h0m.2 2.6h0m0-1.1h0m0 4.3h0m.1-2.2h0m0-3.5h0m.1 2.8h0m.2-9.6h0m0 5h0m.1 2.2h0m0 4.1h0m.1-4.9h0m0-3.5h0m0 1.2h0m.1 5.1h0m0-.7h0m.1-4.2h0m.1 8.3h0m0 .5h0m.1-10.6h0m.1 3.4h0m.1-.5h0m.1-2.5h0m0 8.1h0m.2-3.4h0m.2-2.2h0m.1 .8h0m.1 5.6h0m0-4.9h0m.1-.6h0m0 1.1h0m0 .6h0m.1-.5h0m.1 2.3h0m0 1.7h0m0 1.9h0m0-4h0m0-4.3h0m.2 3.3h0m0-6.1h0m0 1.8h0m.2 9.1h0m0-3.3h0m0-3.6h0m0 4.4h0m0 2.5h0m.2-6.2h0m0-1h0m0 2.1h0m0 .1h0m.1-.5h0m0 4.2h0m0-.7h0m.1 1.8h0m0-1.5h0m0-10.5h0m0 6.5h0m0-6.3h0m.1 11h0m0-4h0m0-2.5h0m0 4.8h0m0-6.6h0m0-.2h0m0 4h0m0-4.4h0m0-.5h0m0 5.4h0m.1-8.9h0m0 8.8h0m0-2h0m0 .3h0m0-1.8h0m0 5.5h0m0-9.9h0m0-2.7h0m0 11.4h0m0-6.4h0m0 10.2h0m.1-3.3h0m0 4.6h0m0-3.6h0m0-4.1h0m.1-7.8h0m0 8.8h0m0-2.2h0m0-3.7h0m0 8h0m0 .6h0m0 .4h0m0-3.8h0m.1 1.1h0m0 3.3h0m0 .9h0m0-43.4h0m0 38.7h0m0 .4h0m0-15.5h0m0 10.6h0m0-1.5h0m.1 1.6h0m0-29.5h0m0 11.2h0m0 4.7h0m0 23.5h0m0-11.9h0m0 6.1h0m.1-3h0m0 4.6h0m0-6.9h0m0 7.9h0m0-.7h0m0-43.4h0m0 43.7h0m0-20.2h0m0 14.7h0m0-14.4h0m.1 18.2h0m0-.3h0m0-41.1h0m0 36.1h0m0-21.6h0m0-14.4h0m0 28.7h0m.1-7.3h0m0-9.9h0m0-1h0m0 23.2h0m0-13.9h0m0 27.1h0m.1-52.8h0m0 26.5h0m0 27.2h0m0-6.3h0m0-38.6h0m0 36.6h0m0 4.4h0m.1-27.1h0m0 27.6h0m0-1.5h0m0-36.5h0m.1-2.8h0m0 37.2h0m0-37.9h0m0 36.6h0m0 5.7h0m0-29.1h0m.1-8.8h0m0 22.6h0m0-33.4h0m0 11.5h0m0 32.6h0m0 4h0m0-7.4h0m0-.4h0m0-33.5h0m.1-.2h0m0 44.9h0m0-39.1h0m0 28.7h0m0-5.3h0m0-38.4h0m0 47.1h0m0-.9h0m0-9.1h0m0-2h0m0 17.5h0m.1-8.4h0m0-.4h0m0-5.8h0m0 11.9h0m0-6.7h0m0-4.1h0m0-33.7h0m0 36.1h0m.1-21.2h0m0 19.5h0m0 .4h0m0 6.3h0m0-16.2h0m0 22.2h0m.1-4.4h0m0 4.9h0m0-6.8h0m0-11.4h0m0 8.3h0m0 9h0m0-26.2h0m0 5h0m0 20.4h0m0-23.4h0m.1-6.2h0m0 26.4h0m0-5.7h0m0 10.6h0m0-42.9h0m.1 38.2h0m0-22h0m0-4.2h0m0 11.2h0m0 16.5h0m.1-2.1h0m0-1.2h0m.3 7.3h0m0-5.5h0m0 1.2h0m.1 3.7h0m0-5h0m.2 5.2h0m.1-6.6h0m0 7h0m.2-3.7h0m0 2.3h0m0-1.4h0m.1-.8h0m0 1.6h0m.4-.3h0m0-2h0m0 4.4h0m.1-5.9h0m0 2.8h0m0 2.8h0m0 .2h0m.1-5.1h0m0 3.3h0m0-.9h0m0-1.8h0m.1-6.3h0m.1 8.9h0m0 .8h0m0-5.2h0m.1-.8h0m0 .5h0m0-2.8h0m.1 3.2h0m0-2h0m.1 5.3h0m0-.9h0m.1-4.6h0m0 1.6h0m0 6.4h0m.3-4.1h0m.1 4.2h0m0-4.5h0m.1 3.9h0m0 .3h0m0-10.9h0m.1 6.1h0m.2-4.4h0m0 2.7h0m0 3h0m.1-3.2h0m.1 7.2h0m.2-7.6h0m.3 2.8h0m0-7.4h0m.1 6.9h0m0-.1h0m.1 5.6h0m0-7.1h0m0-6.1h0m0 9.2h0m0 .3h0m0-7.4h0m.1-3.2h0m0 5.7h0m.1 3.6h0m0 1.2h0m.1 3.7h0m.1-3.5h0m0 1.5h0m0-2.8h0m0 .1h0m0-.8h0m.1 .1h0m.1 3.7h0m0-3.4h0m0 1.3h0m.2 1.9h0m0-4.1h0m0 1.8h0m0 2.9h0m0 0h0m.1-2.5h0m0-8.6h0m.3 11.9h0m0-5.9h0m0 2.1h0m0 2.3h0m0-3.3h0m.2-5.1h0m0-14.9h0m0 20.3h0m0 4.4h0m0-13.1h0m0-17.9h0m0 31.2h0m.1-24.2h0m0-7.5h0m0 23.6h0m.1 6.3h0m0-25.9h0m0 26.1h0m0-9.2h0m0-8.9h0m0 20.1h0m0-5.2h0m.1 1.4h0m0-1h0m.1 4h0m0-27.5h0m.1 27.1h0m0-7.7h0m0 4.1h0m.1-16.6h0m0 2.3h0m.1-8.6h0m0 4.6h0m0 19.2h0m0 2.5h0m.1 .4h0m0-6.4h0m0 5.3h0m0 .2h0m.2 1h0m.1-4.5h0m.4 0h0m0-1.1h0m.1-2.7h0m0-1h0m.1-.9h0m.1 7.1h0m0-6.3h0m.1-.5h0m0 3.9h0m.1 6.3h0m.1 .7h0m0-9.5h0m.2 8.2h0m0-8.9h0m0 8.4h0m.1-10.1h0m.1-3.6h0m0 10.2h0m0-2.8h0m.1 4.1h0m0-7.5h0m.1 10.4h0m0-1.6h0m0-5.9h0m0-3.3h0m.1-4.7h0m.2 10.8h0m.2 2.5h0m0 1.2h0m.1 1.5h0m0-1.2h0m.1 1.9h0m0-1.9h0m.1-.1h0m.2-1.6h0m.1 1.1h0m0-2.3h0m0-3h0m0 .9h0m0 5.9h0m.2 .5h0m0-3.5h0m0 2.5h0m0 .9h0m.1-7.9h0m0 8.2h0m0-3.2h0m0 3h0m0-1.6h0m0-.7h0m.1-4.4h0m0 5h0m.1-13h0m0-2.7h0m0 7.1h0m0 6.1h0m0-.4h0m.1 5.3h0m0-16.6h0m0 12.8h0m0 2.3h0m.1 .2h0m0-4.2h0m0-13.3h0m.1 6.3h0m.1 11.7h0m0-16.2h0m.1 16.7h0m.1-.8h0m0-9.8h0m.1 9h0m0-4.6h0m0-2.2h0m.1 8.1h0m0-1.8h0m0-12.5h0m0 8.9h0m0 3.8h0m0-2.9h0m0 3.2h0m.1 1h0m0-11.7h0m0 1.7h0m0 3.1h0m.1 6.1h0m0 .2h0m.1-5.2h0m.1 4.8h0m0-6.8h0m.1 2.5h0m0 4.6h0m0-.2h0m0-3.7h0m.2-1.8h0m0 2.9h0m.1 3.7h0m.1-.6h0m0 .4h0m.1-10.6h0m0 10.7h0m.1-2.9h0m.1 2.2h0m0-5.3h0m0 5.4h0m.2-7.6h0m.1 7.7h0m.1 .1h0m.1-.3h0m0 .7h0m0-.4h0m.1 .3h0m.3 .3h0m0-.7h0m.2-.3h0m.1 .1h0m.2-1.9h0m.1 2.7h0m0-1.4h0m0-.9h0m.3 1.1h0m.1-2.2h0m0 .6h0m.1 .8h0m.4-.1h0m0 1.5h0m0-2.7h0m.2 .8h0m.2 1.2h0m0 .2h0m.1 .8h0m.2-.2h0m.1-.1h0m.2-.3h0m.2 .9h0m.1-.8h0m0 1.1h0m.1-1h0m.3 .3h0m0-1.6h0m.1 2h0m0-.5h0m.1-.3h0m.1 .9h0m0-6.1h0m0 2.9h0m0 3.2h0m.1-1.4h0m.2-4h0m.1-2.8h0m.1 4.1h0m.1-1.9h0m.2 2.3h0m0-3h0m.1 4h0m0-5.9h0m.1 6.3h0m.1 .5h0m0-4.3h0m.1 .1h0m0 6.3h0m.3-2.3h0m0-6.6h0m0 4h0m0-2.4h0m.1-3.3h0m0 1.3h0m0-4.1h0m0 11.6h0m0-23.9h0m0 2.4h0m.1 19.4h0m0-2.5h0m0-1.5h0m0 5.7h0m0-20.2h0m.1-7.4h0m0 27.6h0m0 0h0m.1 1h0m0-31.5h0m0 25.9h0m0-23.2h0m0 29.2h0m0-18h0m0 6.4h0m.1 5.7h0m0-1.6h0m0-16.7h0m0-9.5h0m0 .1h0m0 1h0m0 6.3h0m0 .6h0m.1 16.9h0m0-20.4h0m0 19.3h0m0-19h0m0 25.2h0m0-10.3h0m0 10.4h0m0-22.6h0m0 4.8h0m.1-17.9h0m0 4.8h0m0 26.9h0m0-13.8h0m.1 11.6h0m0 7.4h0m0 .5h0m0-2h0m0-3.9h0m0 1h0m0 5.1h0m0-9h0m0 3h0m0-21h0m0 21.9h0m.1-6.2h0m0-14.3h0m0 16.5h0m0 5.8h0m0-12.1h0m0-2.3h0m0 10h0m.1-4.5h0m0-15h0m0 18.7h0m0 7.6h0m0 3.4h0m0-5.2h0m0 .9h0m0-32.4h0m0 33.6h0m0-8.1h0m.1 5.9h0m0-3.9h0m0 3.6h0m0-1.9h0m0 1.3h0m0 4h0m0-9.7h0m0 .4h0m0 9.7h0m0-26h0m.1 26.2h0m0-41.9h0m0 7.6h0m0 2.7h0m0 28.7h0m0-38.6h0m0 32.5h0m.1-16.6h0m0 10.5h0m0 4.5h0m0 5.8h0m0-5.4h0m0-13.9h0m0 23.9h0m.1-10h0m0 3.1h0m0-3.1h0m0-22.2h0m0 16.7h0m0-15.1h0m0 29.9h0m.1-32.5h0m0 9.1h0m0 22.4h0m0-17.8h0m0 4.8h0m0 10.2h0m0-3.7h0m.1 8.7h0m0-5.9h0m0 4h0m0-25.1h0m0 28h0m.1-5.7h0m0 3.6h0m0 1.4h0m.1 .2h0m0-3.4h0m0-4.7h0m0 4.2h0m.1 3.9h0m0-1.6h0m0-8.7h0m0 9.3h0m0 .5h0m0-10.9h0m.1 7.6h0m0 .6h0m0-9.2h0m.1-1.9h0m0-.2h0m0 9.6h0m0 5.4h0m0-1.5h0m0 1.9h0m.1-.8h0m0-1.5h0m.1-3.4h0m0 4.5h0m.2 1h0m.1-1.6h0m.2 1.2h0m.1-.3h0m0 .4h0m.3 .3h0m.1-1.3h0m.1 .6h0m.1-4.1h0m0 4h0m.1-.2h0m0 0h0m0-.6h0m0-2h0m0 2.6h0m0 .5h0m.1 .4h0m.2-1.5h0m0-.2h0m0 1.1h0m0-1.5h0m.1-1.8h0m0 4.2h0m0-3.9h0m.1-8.7h0m0 11.2h0m0 .4h0m.1-.4h0m0 0h0m0-4.4h0m0-3.9h0m.1 6.7h0m0 1.8h0m.1-8.4h0m.1 6.5h0m0 2.1h0m.1-5h0m0 2.9h0m.1 .9h0m0-1.3h0m.2 2.3h0m.1 .5h0m0-.6h0m.3-1.6h0m0-.4h0m.1-.8h0m0 1.9h0m.2 .5h0m.2-1.9h0m.1 0h0m.1 0h0m.2 .6h0m0 1.2h0m.1-2.1h0m0-2.2h0m0 4.6h0m.2 .3h0m0-5.6h0m.2 3.7h0m0-2.9h0m.1-.5h0m0 5.3h0m.2-.3h0m.1-4.8h0m0-.1h0m0 6.5h0m.2-.9h0m0 .7h0m0-1.4h0m.1 .5h0m0-.5h0m0 .4h0m.3-.3h0m0 0h0m.4 .6h0m0-.4h0m.1-2.6h0m.1 .5h0m.1-.7h0m.1-.5h0m0-.6h0m.3 2.7h0m0-1.3h0m.4 2h0m.1-3.6h0m0 3h0m0-2.9h0m.2 2.4h0m0 1.8h0m.2-4.8h0m0-2.4h0m.1 2.2h0m0 6.1h0m.2-4.5h0m.1-7.1h0m0 4.2h0m.1 .1h0m0 .1h0m0 1.3h0m.1-1.4h0m.1-1.1h0m.1-1.4h0m0 3.7h0m0 1.4h0m0-4.7h0m0 1.3h0m.1-.6h0m.1-7h0m.1 5.5h0m.1 5h0m0-2.6h0m0 1.4h0m.1 .3h0m.1-2.7h0m0-8h0m0 10.9h0m.1-10.8h0m0 15.1h0m.1-4.9h0m0 5.3h0m.2-5.3h0m0 2.5h0m.1 2h0m.3-.6h0m.1 1.8h0m0 0h0m.1-.3h0m.2 .2h0m0-1h0m.1-.6h0m.1 1.9h0m.1 .3h0m.3-.5h0m.3-1.9h0m0-1.1h0m0 2.7h0m.2-2.7h0m.1 .5h0m.2-.3h0m0 1h0m0-1.5h0m.2 1.2h0m.2-.5h0m0 0h0m.1 1h0m.2-1.2h0m.1-.1h0m.3 .2h0m.1-7.6h0m.1 5.9h0m0-.1h0m.1-5.9h0m.1 3.2h0m.1-4h0m.1 10.5h0m0-8.3h0m.3-1.8h0m.1 2h0m.1 5.4h0m.2 3.8h0m0-7.5h0m.1 2.9h0m.1-3.4h0m0 3.5h0m0 3.7h0m.1-9.3h0m.1 7h0m0-10.8h0m.1 12.2h0m0-5.5h0m0-1.4h0m0 2.9h0m.1-6.7h0m0 3.2h0m0-2.8h0m0 11.8h0m.1-12.2h0m0 10.6h0m0 1.1h0m.1-13.6h0m0-.2h0m0-6.2h0m0 20.8h0m.1-4.5h0m0-21.3h0m0-7.8h0m.1 31.5h0m0-6.1h0m0-.9h0m.1 3.7h0m0-.4h0m0-3.9h0m.1-11.9h0m0 18h0m0 1.6h0m0-1.9h0m.1 .5h0m0-.2h0m0-23.3h0m0 24.3h0m0-11.6h0m.1-13.4h0m0 24.9h0m0-4.3h0m0-24.4h0m0 30.5h0m0-14h0m0 9.3h0m.1-13.3h0m0 13.2h0m0-22.9h0m0 8.8h0m0 7.6h0m.2 11h0m0-13.4h0m0 14.2h0m0-3.9h0m0 1.8h0m0-7.4h0m.1 7.3h0m0-8.2h0m0 4.3h0m0 3.9h0m.2 2.2h0m.1-8.4h0m0 7.7h0m0-.1h0m.2-.1h0m0-.3h0m.2 .7h0m.1-1.9h0m.1 2.1h0m0-.2h0m.4-4.3h0m.1 3.2h0m.1-7.9h0m0 7.2h0m.2-1.4h0m0 3.6h0m.1-9.4h0m.4 3.9h0m0-5h0m0 7.8h0m.1-.2h0m.1-1.1h0m.2-1.7h0m.3-2.8h0m0 2.6h0m.1 2.2h0m0-1.3h0m.2-2.1h0m.1-2.4h0m.1 6.3h0m.1 2.8h0m0-6.5h0m.4-.2h0m.2 6.5h0m.1-3.8h0m.2-4.7h0m0 .8h0m.1 6.8h0m.1-5.7h0m.2-1.8h0m.1 3.6h0m0 5.1h0m.1-9.8h0m0 6.3h0m.2-6.7h0m0 1.2h0m.2 .6h0m.2 1.8h0m0 3.6h0m0-.1h0m.1 1h0m0-5h0m0-1.3h0m.1-2.1h0m0 3h0m.1 6h0m0-2.1h0m0-1h0m0-4.2h0m.1 1.6h0m.1-1.2h0m0 2.8h0m0-6.5h0m0 5.6h0m0-2h0m.1 6.5h0m0-2.6h0m0-9.8h0m.1 8.5h0m0 6.1h0m0-9.4h0m.1 4.5h0m0 4.6h0m0-11.4h0m0 4.8h0m0-1.8h0m.1-5.3h0m0 7.4h0m0 6h0m0-2.7h0m.1-2.7h0m0 1.6h0m0-2.2h0m.1 .9h0m0 .3h0m.1 .3h0m.1-6.5h0m0 3.1h0m0 2.8h0m0-.7h0m.2 6.8h0m.4-7h0m0 .8h0m0 1.8h0m.1-.9h0m.3 4.2h0m.2-.4h0m.1-1.4h0m0 .2h0m0-.4h0m.2 .6h0m0 1.6h0m.1-1.9h0m.1 1.7h0m.2-.4h0m.1 1.9h0m.1-1.8h0m.1-.9h0m.2 1.8h0m.2-2.1h0m.1-.9h0m.1 3.5h0m.1-2.3h0m.1-2.7h0m.1 2.4h0m.1-4.1h0m.3 5.7h0m.1-4.4h0m0-1.3h0m.2 3.9h0m0-7.8h0m0 10.8h0m.1-1.9h0m0-5.2h0m0 5.4h0m0-14h0m.1-.1h0m0 2h0m.1 1.4h0m.1 10.7h0m0 .2h0m0-19.3h0m.1 9.5h0m0 1.8h0m.1 8.5h0m0-18.1h0m.1 19.3h0m0-12h0m0 9.4h0m.1-18.7h0m0 3.8h0m0 11.2h0m0-4.8h0m0 1.4h0m0 1.9h0m0-.6h0m.1-3.5h0m0 2.1h0m0 2.9h0m0-11.2h0m0-4.4h0m.1 17h0m0-6.8h0m.1 4.9h0m.1-2.2h0m.1 3.5h0m0-12.1h0m0 18.4h0m.1-.9h0m.1-4.3h0m0 .8h0m0 1.6h0m0-3.3h0m.1-.3h0m0 2h0m.1-.4h0m.3-3.9h0m.1 7h0m0-4.6h0m.1 1.8h0m0 3.8h0m.1-5.9h0m0-.3h0m.1-3.6h0m0 10h0m0-6.6h0m0 3.6h0m0-.5h0m.1 3h0m0-2.8h0m0 2.6h0m0-2.6h0m.1-.1h0m0-20.6h0m0 23.2h0m0 .6h0m0-4.6h0m0 3.4h0m.1-9h0m0 6.5h0m0-3.4h0m0 5.1h0m.1-8.9h0m0-1.1h0m0-9.4h0m.1-.8h0m0 19.2h0m0-2.9h0m0-21.3h0m.1 11.7h0m0 6.8h0m0 2.8h0m0 .9h0m0 2.9h0m.1-5.9h0m0-14.3h0m0 17.6h0m.1 1.7h0m0-2.9h0m0 2.1h0m0 3.2h0m0-5.8h0m.1 3.7h0m0-4.3h0m0-4.6h0m.1 3.6h0m0-1.2h0m0 7.4h0m0-5.5h0m0-6.8h0m0 7.3h0m0 4.5h0m0-9.3h0m0 5h0m0 6.6h0m0-2.4h0m.1-8.4h0m0 8.8h0m0 1.2h0m.1 .9h0m0-4.2h0m0 3h0m.1-5.5h0m0-9.2h0m0 13.1h0m0-1.7h0m.1 1.7h0m0-23.3h0m0 26.1h0m0-29h0m0 29.5h0m0-2.1h0m.1-20.8h0m0 17.5h0m.1-14.3h0m0-.7h0m0-7h0m0 25.8h0m0-30.6h0m0 27.8h0m.1-13.2h0m0 14.4h0m0-15.9h0m0-14.6h0m.1 30h0m0-.5h0m0-1.4h0m0-6.7h0m0-18.9h0m0 14.9h0m0-17.1h0m0 23.1h0m0 3.5h0m0-22.2h0m0 8.9h0m0 4h0m0 11.8h0m0 2.4h0m.1-6.5h0m0 6.9h0m0-13.4h0m0 13h0m0-22.4h0m0 3.5h0m0 15.9h0m0-11.9h0m.1-20.1h0m0 14.7h0m0-1.9h0m0 18.8h0m0 2.5h0m0-10.8h0m0-17.6h0m0 14.3h0m0 13.5h0m.1-3.3h0m0-20.8h0m0 7.9h0m0 18.5h0m0-13.4h0m0 10.4h0m0-15.6h0m0-13.7h0m0 28.4h0m0-10.6h0m0 15.6h0m0-18.4h0m.1 .8h0m0-1.2h0m0 4.7h0m0-7.2h0m0 18.8h0m0-4.2h0m0-16.1h0m0-2.4h0m0-9.1h0m0 30.6h0m0-25.3h0m0 10.9h0m.1 .5h0m0 5.9h0m0-.7h0m0 2.2h0m0 9.5h0m0-31h0m0 13.5h0m0-2.6h0m0 14.9h0m0-16.9h0m.1 8.2h0m0 13.5h0m0-15.4h0m0 11h0m0-2.4h0m0 7.9h0m0-9.8h0m0-5.1h0m0 15h0m0-27.9h0m0 25.9h0m0-15.8h0m0-.7h0m0 8.9h0m0 3.9h0m0 5.3h0m0-7.2h0m0 2.4h0m.1-19.5h0m0 2.1h0m0 .2h0m0-3.3h0m0 24.4h0m.1-7.9h0m0-8h0m0-3.5h0m0 6h0m0 8.2h0m0 4.3h0m0-4.9h0m.1-2.7h0m0 3.5h0m0-16h0m0 18.7h0m0 1.4h0m0 1.9h0m0-8.4h0m0 6.9h0m0-3.3h0m.1-9.5h0m0 1h0m0 8.5h0m0-6.3h0m0 9.6h0m0-13.9h0m0 15.7h0m0-8.4h0m.1-5.4h0m0 13.7h0m0-12.1h0m0-6.2h0m0 11.7h0m0-7.5h0m0-.1h0m0 8.2h0m0 1.3h0m0 2.4h0m.1-6.4h0m0-13.2h0m0 20.6h0m0-7.7h0m0-5h0m0-3.9h0m.1-4.3h0m0 6.6h0m0 13.8h0m0-.5h0m0-15.2h0m0 16.7h0m0-18.2h0m0 15.1h0m0-14.8h0m0-2.2h0m0 13.8h0m0 .8h0m.1 5.5h0m0 .6h0m0-16.7h0m0 14.6h0m0-15.5h0m0 6.4h0m0-10.4h0m0-3.7h0m0 15.4h0m.1 7.1h0m0-13.7h0m0 13.9h0m0-17.1h0m0 6h0m0 1.5h0m.1-2.2h0m0 1.1h0m0 11.4h0m0-19h0m0 5.1h0m0-1.5h0m.1 7.2h0m0-4.1h0m0-2.3h0m0 7.1h0m0-6.2h0m0 10.3h0m0 3h0m.1 2.4h0m0-4.2h0m0-9.4h0m0 11h0m0-8.2h0m0 9.9h0m0-.7h0m.1-14.4h0m0 4.8h0m0 8.1h0m0-4.1h0m0-3.1h0m0 7.2h0m.1 1.2h0m0-.4h0m0-14.5h0m0 15.2h0m0-1.1h0m0-12.8h0m0 12.5h0m0-14.8h0m.1 6.7h0m0 10.1h0m0-16h0m0 14.7h0m0-14.9h0m.1 9.8h0m0-8.5h0m0 1.5h0m0 14.5h0m.1-11h0m0 8.4h0m0-.3h0m0-16.7h0m.1 16.4h0m0-16.2h0m0 4.9h0m0-4.9h0m0 19.2h0m.1 .2h0m0-11.7h0m0-5.4h0m0 14.4h0m0-18.7h0m0 21.2h0m.1-17.4h0m0 5h0m0 10.5h0m.1-10.4h0m0 11.5h0m0-5.2h0m0-3.7h0m0 1.5h0m0-11.7h0m0 5.5h0m.1 .3h0m0-7.8h0m0-.2h0m0 10.7h0m0-1.5h0m.1 5h0m0 3.7h0m0-7.4h0m.1 9.8h0m.1-1.1h0m0-2.8h0m.1 3.5h0m0-12.5h0m0-4.9h0m0 10.8h0m0 7.7h0m0-18h0m.1 12.7h0m0-16.1h0m0 21.6h0m0-20.1h0m0 18h0m0-5.2h0m.1-11.9h0m0 16h0m0-1.5h0m.1-10.7h0m0 13.5h0m0-11.9h0m0 11.7h0m0-11.1h0m0 3.9h0m.1 4.2h0m0 3.1h0m0-.8h0m.1 1.8h0m0-5.3h0m0 5.1h0m0 .1h0m0-1.4h0m.1 2.3h0m0-2.3h0m0-12.5h0m0 11.9h0m0-4.5h0m.1-2.2h0m0-1.5h0m0 7.2h0m.1-6h0m0 5.5h0m0-4.9h0m.1 4.3h0m0 1.7h0m0 1.3h0m0 3.1h0m.1-8h0m0 6h0m.1-9.1h0m.1 5.6h0m0 5.3h0m0-6.6h0m.1 5.8h0m0-.1h0m0-5.7h0m0 4.6h0m0-3.2h0m0-2.9h0m.1-1.5h0m0 4.7h0m0 4.1h0m.1-.4h0m0-2.1h0m0-3.4h0m0-10.6h0m0 6.6h0m.1 6.3h0m0-2.9h0m0-1.4h0m0-6.9h0m.1-2h0m0 12.9h0m0 .7h0m.1 2.5h0m0-.6h0m0-13h0m.1 12.6h0m0 0h0m0 .7h0m0-14.7h0m0 12.1h0m0-8.6h0m.1 4.7h0m0 5.4h0m0-6.2h0m.1-6.4h0m0 10.3h0m0-1.2h0m0 1.1h0m0 3.9h0m0-4.1h0m0-1.8h0m.1-2h0m0 4.2h0m0 4.4h0m.1-11h0m0 12h0m0-13.5h0m0 2.4h0m.1 10.7h0m0-8.1h0m0 8.7h0m0-1.8h0m0-5.1h0m0-3.8h0m0 10.5h0m.1-6h0m0-2.3h0m0 7h0m.2 .7h0m0-5.3h0m.1-2.3h0m0 4.7h0m.1 1.5h0m0-7.5h0m0 5.4h0m.1-.5h0m.1 1.1h0m.2-.7h0m.1-1.2h0m0 .9h0m0-1.5h0m.1 3.4h0m.1 1.1h0m.1-3.7h0m.1 .1h0m.2 3.8h0m.1-.8h0m0-1.7h0m.1 1.5h0m0-.6h0m.1-21.8h0m0 20.7h0m0 .4h0m0-21.3h0m0 19h0m0-11.8h0m.1 5.3h0m0-5.4h0m0 3.5h0m.1 12.3h0m0-19.5h0m0-4.9h0m0 25h0m.1 .3h0m0-31.7h0m0 31.1h0m0-2.3h0m0-15.6h0m.1 17.3h0m0-17.3h0m0 12.5h0m0-20.2h0m0 3.3h0m.1-3.1h0m.1-12.7h0m0 33.2h0m0 5.2h0m0-37.1h0m0 35.8h0m.1-.5h0m0 1h0m0-6h0m0-27.6h0m.1 30.8h0m0-11.2h0m0-21.9h0m0 19.3h0m0-13.1h0m0 3.3h0m0 24h0m0 1.2h0m.1 2.3h0m0-18.1h0m0 13.9h0m0-10.8h0m0 2.4h0m.1 10.8h0m0-10h0m0 8.2h0m0-10.5h0m.1-5h0m0 17.1h0m0-33h0m.1 11.9h0m0-4h0m0 19.2h0m0-7.7h0m0 8.6h0m0-26.4h0m0 28.5h0m0-3.1h0m.1-17.4h0m0 9.7h0m0 3h0m0 9.2h0m0-19.8h0m.2 19.7h0m0-.3h0m0-.2h0m.2 0h0m.1 2.2h0m.3-6.4h0m0 2.4h0m.1 3.7h0m.1-1.5h0m.1-4.4h0m0 7h0m.4-7.1h0m.1 2.2h0m0-1.8h0m.1 6.1h0m0 .8h0m.1-6.8h0m.1 7.5h0m.1 .4h0m.2-.1h0m.1-.2h0m.1 1.1h0m.2-.5h0m.2 0h0m.1-1h0m.1 .6h0m.2-2.5h0m0 1.3h0m.1 .9h0m.1-2h0m.2 1.1h0m.3-2.7h0m.1-.5h0m0 1.5h0m0-2.1h0m.4 3.2h0m.1-2.3h0m0-.9h0m.1 .3h0m.1 1.2h0m0 3.1h0m.3-.7h0m.1 1.2h0m.1 .2h0m0-2.2h0m.2 2.8h0m.2-2.5h0m.1-.2h0m.2 .1h0m.1 .4h0m0 .2h0m.1 0h0m.1 .3h0m.1 1.3h0m.1-1.4h0m.1-1.7h0m.2 .3h0m.1-.1h0m.1-.9h0m.1 1.8h0m.1-2h0m.2 .1h0m.2 3.6h0m.1-15.2h0m0 12h0m0 3.4h0m0-3.6h0m0-7h0m.1 8.6h0m.1-2h0m.1 1.9h0m0-12.4h0m0 13.3h0m0-14.3h0m0 8.1h0m.1-13.5h0m0 13.9h0m0-22.3h0m0 11.3h0m0 13.2h0m0-1.1h0m0 3.3h0m.1-18.7h0m0 13.6h0m0-6.2h0m0 2.5h0m0 5.9h0m0-4.5h0m0-7.3h0m.1 7.4h0m0 .9h0m0 5.5h0m0-8.8h0m0 5.6h0m0-16.4h0m0 11h0m.1 .9h0m0 2.9h0m.1 1.8h0m0 5.1h0m0-10.9h0m0-3.6h0m0 8.1h0m0-12.9h0m0 15.8h0m0-6.9h0m0 1.7h0m0 2.6h0m.1-14.9h0m0 1.7h0m0 1.6h0m0 2.2h0m0 10.1h0m0 4.8h0m0-5.2h0m0 1h0m.1-1.7h0m.1-.1h0m0 .2h0m0-8.1h0m0-1.2h0m0 16.5h0m.1-3h0m0-1.8h0m0-15.4h0m0-5.5h0m0 8.1h0m0 12.8h0m0-1.4h0m0-13.1h0m0 6.8h0m0 5.2h0m.1-.4h0m0 5.5h0m0-3.6h0m0 .2h0m0-17.6h0m0 21.3h0m0-8.5h0m0-5.3h0m0 5.8h0m0-3.6h0m0 9.4h0m.1-5.1h0m0-2.3h0m0 7.3h0m0 4.2h0m0-7.3h0m0-2.1h0m0 7.1h0m0 2.5h0m0-3h0m.1-4.3h0m0-4.3h0m0 6.2h0m0 .1h0m0-6.9h0m.1 5h0m0-.1h0m0 2.4h0m0-3.2h0m0 8.2h0m0-.7h0m0-2.3h0m0-1.8h0m0 3.8h0m.1 2h0m0-13.8h0m0 6.1h0m0-5.1h0m0 10.5h0m0-5.6h0m.1-.2h0m0-9.3h0m0 9.7h0m0-7.8h0m0 5.2h0m0 4.3h0m0-2.1h0m.1 1.1h0m0-1.6h0m0-1.5h0m0 6.2h0m0-8.5h0m.1 7.5h0m0 .6h0m0-4.7h0m0 0h0m0 5.8h0m.1-.4h0m0-1.7h0m0-6.4h0m0 .5h0m0 0h0m0 1.8h0m.1-6.5h0m0 9.3h0m0 0h0m0-2.1h0m0 7.4h0m0-13.3h0m.1 4.2h0m0 2.9h0m0 .7h0m0 6.1h0m0-7.3h0m0-1h0m0 8.7h0m0-3.4h0m0-1.2h0m.1 .6h0m0-.5h0m0 .4h0m0-2.7h0m0 0h0m0 5.5h0m0-3.2h0m.1 .4h0m0-4.7h0m.1-4.3h0m0 7.3h0m.1 3.8h0m0-1.1h0m0-.7h0m.1 3.3h0m0-10h0m0 7.6h0m0 1.8h0m0-4h0m0 3.8h0m0-4.7h0m.2 2h0m0 3.7h0m0-3.3h0m0-5.2h0m0 7.9h0m0-4.3h0m0 3.9h0m0-1.6h0m.1-1.5h0m0 1h0m0 3.3h0m.1-1.5h0m0-11h0m0 4.3h0m.1 4.3h0m.1 2.6h0m0-2.4h0m0 .6h0m0 3.2h0m.1-2.3h0m0-6h0m.1 7.3h0m0-.8h0m0-1.5h0m0-3.9h0m0 .8h0m.2 1.2h0m.1 .7h0m0 1.8h0m.1-.1h0m0-4.1h0m.1 .1h0m.1 2.4h0m.1 2.6h0m0-5.7h0m0 4.8h0m.1-4.5h0m.1-2.2h0m0 9.4h0m0-7.3h0m.1 5.7h0m.1-1.9h0m.1 3.5h0m0-6.8h0m.1 5.4h0m0-4.3h0m.1-1.8h0m.1-1.7h0m.1 7h0m.1 1.2h0m.2-.9h0m0-1.1h0m.1-3.3h0m0 5.7h0m0-5.5h0m.1 5.8h0m0-1h0m0-6.6h0m0 7.3h0m.1-2.2h0m0-1.4h0m.1 2.2h0m.1 .8h0m0 .8h0m.1-6.7h0m.1 6.4h0m0 .6h0m0-.7h0m.2 1h0m.1-.2h0m0-10.4h0m.1 6.1h0m.2-3.1h0m0 6.3h0m.1-3.4h0m0 4h0m.1-.7h0m.1-3.9h0m0 3.4h0m0-1.6h0m0 .3h0m.3 1.2h0m0-14.6h0m0 .4h0m0-1h0m0 17h0m.2-12.2h0m0-2.5h0m0 3.3h0m.1 10.4h0m0-2.6h0m.1-.6h0m.1-11.7h0m0 5.2h0m0-11.8h0m0 17.6h0m0-24.1h0m0 24h0m0 .6h0m.1-25.9h0m.1 9.8h0m0 3.8h0m0 13.7h0m.2-11.9h0m0 6.1h0m0 6.4h0m0-1.6h0m0-16.4h0m.1 17.7h0m0 1.8h0m0-3.7h0m0-6.1h0m.1-7.6h0m.1 6.9h0m0 9.9h0m.3-.1h0m0-1.8h0m.2 1.2h0m.1 .8h0m0-3h0m.1 .7h0m0 1.1h0m.1-1.8h0m.3 2.7h0m0-2.7h0m.1 1.9h0m0 1.9h0m0-8.3h0m.1 5h0m0 .8h0m0-9.8h0m.1 10h0m0-3.2h0m0-13.2h0m.1 17.6h0m0-9.8h0m0 10.7h0m.1-.1h0m0-31.5h0m0 29.1h0m0-15.8h0m.1 14h0m0-10.7h0m0-13.2h0m0 22h0m0-25.4h0m.1 25.4h0m0-21.3h0m0 19.7h0m0 4.4h0m0-12.5h0m0-6.8h0m.1-.7h0m0 17.7h0m0-24.5h0m.1 25.2h0m0 5.7h0m0-3.2h0m.1 1.7h0m0-23h0m0 6.7h0m.1-10.6h0m0 26.9h0m0-7.2h0m.1 8.8h0m0-13.8h0m0 5.2h0m0-9.6h0m0 6.7h0m.1 10.2h0m0 .1h0m.2-.4h0m.1 .2h0m.2 .6h0m.1 .1h0m0 .4h0m.2-.1h0m.1-3.8h0m.2-.1h0m0 2.9h0m.2-.5h0m.2 1.9h0m.1-1.1h0m.1-3.5h0m.1 1.4h0m.1 .1h0m.1 1.6h0m.2 .2h0m.1-2h0m0-1.6h0m.1-2.4h0m0 1.1h0m.1-2.6h0m.1 6.6h0m0-.7h0m0 .9h0m0 1.5h0m.3-5.4h0m0 2.3h0m.2 1.8h0m0-2.1h0m.2-13.6h0m.1 15.4h0m0-.8h0m0-2.8h0m0 2.8h0m.1 2h0m.1 0h0m0-14.5h0m.1 7.4h0m.1-4.8h0m0-5.4h0m0-1.9h0m.1 11.7h0m0 6.3h0m.1-11.4h0m.1 11.1h0m.2 1.1h0m0-.8h0m.1 1h0m.2-.1h0m0-1.7h0m.2 1.3h0m.1-1.7h0m0-.2h0m.2 0h0m0 1h0m.1-.8h0m0-.1h0m0 1h0m0-12.1h0m0 14.6h0m0-.5h0m.1-1.5h0m0-5.1h0m.1 3h0m0-9.2h0m.1-4.1h0m0 14.9h0m.1-4.3h0m0-6.9h0m0 7.9h0m.2 1.9h0m0-11.4h0m0 10.5h0m0-2.1h0m.1-2h0m0 3.9h0m0-3h0m0 1.6h0m.1-9.8h0m0 11.2h0m0 3.3h0m.1-.3h0m.1-1.1h0m.1-.8h0m.1-.8h0m0 .7h0m0-1.6h0m.1 .1h0m.1 1.9h0m.1 .5h0m0-3.3h0m.2 .4h0m.1 4.6h0m.2 .4h0m0-4.9h0m0 .4h0m.1-1.7h0m.1 1.5h0m0 4.5h0m.1-3.2h0m0-6.9h0m0 3.2h0m0 8.2h0m.1-11.4h0m0 9.4h0m0-2h0m.1 3.6h0m0-1.6h0m.1-4h0m0 5.8h0m0-5.6h0m.1 6.1h0m0-3.6h0m.1 2.7h0m0-2.6h0m0-12.2h0m0 15.4h0m.1-1h0m0-5.2h0m0-8.9h0m0 10.4h0m.1-.2h0m0 4.7h0m0-.1h0m0-7h0m.1 5.6h0m0-2.9h0m0 4h0m0 .5h0m0-.9h0m0-14h0m0 8.1h0m0 7h0m.1-4.4h0m0 2.9h0m0-8.5h0m.1 9h0m0-9.3h0m0-1.4h0m0 11.1h0m.1-17.1h0m0 11.9h0m0 5.8h0m0-12.6h0m0 .8h0m0 7.9h0m.1-1.9h0m0 2.1h0m0-4.4h0m0 6.9h0m.1-2h0m0-8.7h0m0 9.5h0m0 1.1h0m0-5h0m0-3.5h0m.1 6.7h0m0-8.2h0m0 6.9h0m0-1.7h0m0-3.8h0m0 9h0m0-14.4h0m0 12.7h0m0-13.9h0m0 12.6h0m0 2.4h0m.1-1.2h0m0-.4h0m0-.5h0m0 .4h0m0-7h0m.1 4.4h0m0-2.4h0m0 4.8h0m0-10.2h0m0 8.3h0m0-3.1h0m.1 6.7h0m0-.7h0m0-4.9h0m0 6h0m0 .2h0m0-21.4h0m.1 6.4h0m0 10.4h0m0 5.4h0m0-3.5h0m.1-7.4h0m0 10.3h0m0-12.7h0m0 6h0m0 3.7h0m0-6h0m0 1.8h0m0 6.4h0m0-16.1h0m0 4.3h0m0 3.6h0m.1 1h0m0 1.9h0m0-9.2h0m0 .3h0m.1 15.5h0m0-11.6h0m0 8.4h0m0-10.2h0m0-9.9h0m.1 15.3h0m0 6.1h0m0-10.5h0m0 9.6h0m0-1.2h0m0-6.9h0m0 10.3h0m0-9.3h0m0-17.1h0m0 12.4h0m0 8.8h0m0 1.4h0m0-9.2h0m0-16.3h0m.1 13.4h0m0-10.7h0m0 25.8h0m0-4.2h0m0-5h0m0 10.3h0m0-5.1h0m0 4.3h0m0 1.3h0m0-21.6h0m0 15.4h0m0-17.3h0m0 11.9h0m.1 9.5h0m0-.7h0m0 .1h0m0-1.6h0m0-3.5h0m0 4.9h0m0 2.6h0m0-1.4h0m0-9.6h0m0-16.3h0m0 24.5h0m0-5.8h0m0 5.4h0m.1-9h0m0 5.8h0m0-8.2h0m0 3.6h0m0-3.4h0m.1 11.6h0m0-12.1h0m0 15.6h0m0-6.2h0m0-7.5h0m0 12.3h0m0-19.4h0m0-4.2h0m.1 22h0m0-12.8h0m0 10.3h0m0-4.4h0m0 6.6h0m0-22.1h0m.1 5.9h0m0 13.7h0m0-10.8h0m0 13.6h0m.1-13.8h0m0 15.6h0m0-26.7h0m0 24.2h0m0-1.7h0m.1-8.3h0m0-6h0m0-7.2h0m0 21.5h0m0-3.1h0m.1 3.5h0m0-4.5h0m0-.9h0m0 10.1h0m0-10.8h0m0 8.6h0m0-3.5h0m0-17.7h0m.1 14.4h0m0 3.1h0m0 2.4h0m0-12.6h0m0 14.9h0m0-5.8h0m0-1.4h0m.1-6.3h0m0 1.7h0m0 4.6h0m0-11.1h0m.1 14.9h0m0 1.5h0m0-20.1h0m0 14.5h0m0-6.1h0m.1 10.6h0m0-2.3h0m0-1.6h0m0 7.2h0m.1-7.6h0m0 1.7h0m0 .1h0m0-19.7h0m0 16.2h0m0-1.2h0m0-3h0m.1 8.7h0m0 .3h0m0-19.6h0m0 18.1h0m.1 5.1h0m0-.9h0m.1 1.5h0m.1-6h0m0-5.6h0m0 5.1h0m.1 6.1h0m0-6.3h0m.3 4.2h0m0-.7h0m.1 1.6h0m.1 1.6h0m.4 .7h0m0 .5h0m.1-1.1h0m.1 .3h0m0-.1h0m.1-.6h0m.2 1.1h0m0-.5h0m.1 .9h0m.1-.8h0m.3-3.1h0m.1 2.4h0m.2-5.6h0m.2-.3h0m.2-.3h0m0-1.6h0m.1 6.5h0m0-4.5h0m.3-2.2h0m0 2h0m.1 1.9h0m.1-2.1h0m.1 4h0m.1-5.8h0m.1 3h0m.2 5.7h0m.1 .1h0m0-4.4h0m.1 3.5h0m0-9.3h0m0 3.2h0m.1 2.9h0m0 3h0m0 0h0m.1 1.4h0m.1-18.2h0m0 18.4h0m0-5.2h0m.1-13h0m0-1.8h0m.1 7h0m0-3h0m0 15.4h0m0-16.4h0m.1 .5h0m0 .7h0m.1-3.4h0m.1 17.8h0m0-9.5h0m0-5.4h0m0 14.7h0m0-17.7h0m0 11.2h0m.2 5.1h0m0-9.3h0m0 .6h0m0 10.2h0m.1-18.7h0m0 19h0m0-.1h0m0-17h0m.2 9.9h0m0-1.4h0m0 9.8h0m0-6.4h0m.1-5.1h0m0 6.1h0m.1 1.6h0m.1 2.1h0m.1-4h0m.1 2.7h0m.1 0h0m0-.5h0m0-.3h0m.4-1.2h0m.1-.4h0m0 2.9h0m.2-2.3h0m0-.7h0m.3 1.4h0m.1 2.5h0m0 1.5h0m0-.2h0m.1-1.2h0m.2 .4h0m.3 1.2h0m.1-1.4h0m0 .6h0m.1-.5h0m0 .5h0m.4-.6h0m.1-.2h0m.1 .7h0m.1 .3h0m.2-2h0m0 .2h0m.2 0h0m0-.8h0m.2 1h0m.1-10.5h0m0 12.2h0m0-14.5h0m0 13.5h0m0-28.1h0m0 4.7h0m.1 20.1h0m0-20.1h0m0-6h0m.1 .5h0m0 28.4h0m0-11.4h0m0-21.9h0m.1 13.5h0m0-.2h0m0-2.3h0m.1-2.1h0m0 22.6h0m0-35.1h0m0 13h0m0 22.7h0m.1 1.9h0m0-12.6h0m0-23.7h0m0 9.6h0m0-3.9h0m0 2.1h0m0 26.4h0m0-26.1h0m.1-1.1h0m0 12.2h0m.1-16.3h0m0 19.6h0m0-18.5h0m0-.4h0m0-2.4h0m.1 35.3h0m0-11.3h0m0 11.5h0m0-37.5h0m0 35.7h0m0 0h0m0-14.3h0m.1-6h0m0-8.3h0m0 30.9h0m.1-6.6h0m0-25.2h0m.1 19.8h0m.1 11.3h0m0 1.1h0m.1 0h0m.1-3.4h0m.1 1.9h0m0 .6h0m.1-1.6h0m0-.7h0m.2 .2h0m0 1.4h0m0-.1h0m.1 1.1h0m.1-3.4h0m0 3.5h0m0 .2h0m.2-1.2h0m.1-1h0m.3-11.7h0m0 13.1h0m0-10.1h0m.1 1.9h0m.1 7.7h0m0-5.4h0m0-2h0m.1-7.6h0m0 15.9h0m0 1.1h0m.1-.8h0m0-6.6h0m0-9.5h0m0 6.1h0m0 8h0m.1 1.4h0m0-16.4h0m0 7.1h0m0 10.2h0m.1-3h0m.1-3.7h0m0 3.1h0m.1 3.4h0m0-10.5h0m.1 10.2h0m0-7.1h0m0 1.5h0m0 5.1h0m0-2.4h0m.1-4.8h0m0 3.2h0m0 4.7h0m0-4h0m0 4.4h0m.1-.9h0m0 .2h0m0-.9h0m.1-6.9h0m0 2.7h0m0-10.3h0m.1-3.7h0m.1 7h0m0 8.3h0m0 4.3h0m0-4.1h0m0 3.5h0m.1-3.2h0m0 3h0m0-10.7h0m.1 2.3h0m0 3.8h0m0-4.8h0m.1 8.6h0m0-1h0m0-11.3h0m0 9.4h0m0-6.7h0m0 10.6h0m.1-9.5h0m0-1.5h0m0 8.4h0m0-7.5h0m0 6.2h0m.1-9.4h0m0 11.3h0m0-.7h0m.2-1.2h0m0-5.6h0m0 3.5h0m0-4.1h0m0 9.4h0m.1-5.3h0m0-6.3h0m.1 .6h0m0 5.8h0m.1-.6h0m0 3.8h0m0-26.1h0m0 27.4h0m.1-.3h0m0-6.6h0m0 6.9h0m0-3.1h0m0 2.3h0m0 .8h0m0-2.3h0m0-3.1h0m.1 .8h0m0 6h0m0-5.7h0m0-13.4h0m0 17.2h0m0-28.8h0m.1 15h0m0-6h0m0 22.8h0m0-4.4h0m0-36.8h0m0 10.7h0m0 22h0m0 1.2h0m0-18.4h0m0 20.3h0m.1 5.1h0m0-15.7h0m0-11.4h0m0 6.5h0m0-14.6h0m0 34.8h0m0-24.9h0m.1 4.3h0m0 5.8h0m0 11.1h0m0-41.3h0m.1 15.3h0m0 20h0m0-25.3h0m0 15.1h0m0-1.5h0m0 15.6h0m0-.1h0m0-13.6h0m0 15.3h0m.1 2.4h0m0-18.3h0m0 9.5h0m0 1.8h0m0-22.1h0m0 28.5h0m0 2.5h0m0-29.9h0m.1 21h0m0-7h0m0-8.2h0m.1 2.1h0m0 19.7h0m0-20.9h0m0 3.7h0m0 11.6h0m0-3.1h0m0-16.3h0m0 26.5h0m0-.4h0m0-15.2h0m0-13h0m0 25.4h0m0-18.2h0m.1 16.8h0m0 .7h0m0-36.5h0m0 18.1h0m0 21.6h0m0-31.8h0m.1 27.7h0m0-19.2h0m0 21.7h0m0-2.9h0m0-12.5h0m0 12.1h0m0-20.8h0m.1-.9h0m0 9.1h0m0 1.2h0m0-12.3h0m0 23h0m0 7.6h0m0-19.4h0m0 5.2h0m0-6.7h0m.1 12.5h0m0-4.7h0m0 12.3h0m0-1.4h0m0 .1h0m.1-24.8h0m0 22.7h0m0-15.6h0m0-9.8h0m.1 27.8h0m.1 .5h0m0-25.4h0m0 19.9h0m0 5.4h0m.1-8.5h0m0 8.9h0m0-13.8h0m.1-7.3h0m0 21.6h0m0-2.9h0m0-.3h0m.1-.4h0m.1 1.1h0m.1-1h0m0 .3h0m.2-1.8h0m.1 2.5h0m0-2.1h0m.2 1.8h0m.1 1.8h0m.1-3.1h0m0 2.6h0m.1-8.2h0m.1 3.9h0m.1-2.2h0m0 2.1h0m0-4.5h0m.2 1h0m0 7.1h0m0-2.8h0m.1 4.3h0m.1-5.3h0m.1 3.8h0m.3-2.1h0m0 2.7h0m0-2.8h0m.2 2.6h0m.2-.5h0m.1-1.7h0m0-.1h0m.3 3.4h0m.2-.3h0m0-2.2h0m.1-.5h0m0-.2h0m.1 .1h0m.2 1.6h0m.1 1.6h0m0-2.5h0m.3-1.2h0m.2 2.4h0m0 .3h0m.1-1.7h0m.3 .5h0m.1-1.5h0m.1 .4h0m.2 1.3h0m0 .2h0m.1-.4h0m0-1.5h0m.3 3.2h0m0-1.3h0m.1-.3h0m0 0h0m.2 1.8h0m.1-.7h0m.2 .5h0m0 1.1h0m.3-3h0m.2 1.6h0m0 .2h0m0-.3h0m.2 .8h0m.1-2.4h0m.2 3.2h0m.1-.9h0m.1 .4h0m.1-1.5h0m.1 2.2h0m.1-2h0m0 .4h0m.3-.2h0m.1 .1h0m.1 .2h0m0-.1h0m.2-.6h0m.2 1.3h0m.1-1.1h0m.2 2.1h0m.2-1.7h0m0-5h0m.1 2.6h0m.1 .8h0m.2-4.5h0m.2 1.6h0m.1 .5h0m0 1h0m.1-4.5h0m.1 3.8h0m0-.8h0m.3 1.2h0m.1 5h0m.1 .1h0m0-.6h0m.2-.4h0m.1 0h0m.1 .7h0m.2-.5h0m.1 .2h0m.1-.8h0m.2 .5h0m.1-.4h0m0 .1h0m.2-.3h0m.2-2.2h0m.2 .9h0m0-.5h0m.1 .6h0m0-4.3h0m.1 3.7h0m.1-1.6h0m0-4h0m0 4.8h0m.2-3.6h0m.1 8h0m.1-6.6h0m.1-.2h0m0 .1h0m0 2.6h0m.2 1.2h0m.1-2.9h0m.1 4.3h0m0-3.7h0m.1-3.7h0m.3 2.4h0m0 .1h0m.2 1h0m.1 5.3h0m0-6.5h0m.2 3.1h0m0-.1h0m.2-2.7h0m.1-2.3h0m0-.8h0m.3-.2h0m.1 .5h0m0 5.5h0m.2 .8h0m.1-2.4h0m.1-5.7h0m.1 6.7h0m0-3.4h0m0 1.2h0m.1-3.1h0m0-.1h0m0-10h0m0-1.5h0m0 15.5h0m0-2.4h0m.1 4.2h0m0-.5h0m0-.6h0m0-9.3h0m.1 13.1h0m0-20.4h0m0 5.2h0m.1-6.2h0m0 22h0m0-13.6h0m0-2.7h0m.1 12.4h0m0 1.8h0m.1-15.6h0m0-7.4h0m0 17.8h0m0 5.4h0m.1-12.4h0m0 10.6h0m0-4.1h0m0-2.4h0m0 1.6h0m0 5.1h0m.1 .1h0m0-5h0m.1 2.6h0m0 3.9h0m0-12.2h0m0-4.5h0m0 15.8h0m.1-3.2h0m0 6h0m0-3.8h0m0-3.3h0m0 6.4h0m0-.3h0m0-3.5h0m.1-1.6h0m0-3.3h0m0-5.5h0m0 12.7h0m0-14.8h0m0-3.6h0m0-.6h0m0 11.4h0m0 3.1h0m.1-14.6h0m0 15.3h0m.1-10h0m0 .3h0m.1-2.2h0m0-1.8h0m0 1.8h0m.1 16.4h0m.1-5.9h0m0 1.8h0m0 4.8h0m.1-6.6h0m.1 3.4h0m.1-3.1h0m.1 2.1h0m.2 .4h0m0-.2h0m.3-3h0m.2 1.4h0m0 .9h0m0 4h0m.1-4.5h0m.3-1.5h0m0 .7h0m0 3.4h0m.1-2.4h0m.1 1.9h0m.1-1.9h0m.1-1.3h0m0 4.3h0m0-5.4h0m0-4.8h0m.1 12.9h0m0-1.2h0m0-3.2h0m.1 4.2h0m0-5h0m0 .7h0m.1 3h0m.1-2h0m.1-1h0m.2-3h0m0 2.3h0m0 .8h0m.4 3.7h0m0 .2h0m.1-.5h0m0-3.1h0m0 .1h0m0 .5h0m.1-.7h0m.1-1.8h0m0-.5h0m.1 6.2h0m0-5.4h0m0 2.1h0m.1 2.6h0m0-10.2h0m.1 8.4h0m0-3.8h0m.1 2.1h0m.3-.1h0m.1 .9h0m0-.3h0m.1 3.1h0m0 .4h0m0-5.2h0m0 .7h0m.1 1.7h0m0-8.7h0m.1 9.3h0m.1 1.4h0m0-6.5h0m0 7.1h0m.1-8.7h0m0 8.8h0m.1-10.8h0m.2 11.2h0m0-1.6h0m0 .7h0m.1-2.6h0m0 2.2h0m0-9.8h0m0 6.2h0m0 3.3h0m0 .3h0m0-9.8h0m.1 10.7h0m.1-8.4h0m0 7.5h0m0-20.9h0m0 5.4h0m.1 14h0m0 2.9h0m0-8.8h0m0-20.1h0m0 28.2h0m.1-20.9h0m0-4.9h0m0 14.5h0m0 10.8h0m0-.3h0m.1-17.8h0m0 8.7h0m0-19.3h0m.1 18.3h0m0-8h0m.1 3.2h0m0 16.7h0m0-12h0m0-17.8h0m0 9.3h0m0 19.4h0m0-.5h0m.1-33.3h0m0 29.8h0m.1 3.4h0m0-10.7h0m0-15.5h0m0 19.7h0m0 8.2h0m.1-.5h0m0-5h0m0 1.3h0m.1-6.1h0m0 9.3h0m.1 .7h0m0-31.2h0m0 20h0m0 10.3h0m.1-11.9h0m0 1.4h0m0 9.6h0m0 .6h0m0 .5h0m.1 .3h0m0-24.3h0m0 14.9h0m0-2.8h0m.1 1.8h0m.1-2.3h0m0-4.4h0m.1-60h0m0 75.8h0m0 2h0m0-100.8h0m.1 91.2h0m0 3.9h0m0 4.8h0m0-.8h0m0-2.5h0m0-4.9h0m0-7.5h0m.1 7.9h0m0-3.3h0m0-62.5h0m0 71.1h0m0-3.4h0m0-40.8h0m0 45.8h0m.1-74.2h0m0 62.5h0m0-75.3h0m0 83.4h0m0-12.9h0m0 15.1h0m.1-57.3h0m0 20.8h0m0 37.4h0m0-76h0m0-3.7h0m0 68.6h0m0 12.1h0m.1-8.7h0m0-66.1h0m0 20.6h0m0 53.4h0m0-40.6h0m0-55.9h0m.1 64.1h0m0-62.3h0m0 51.2h0m0-6.9h0m0-24h0m0 62.9h0m0 12h0m0-56.7h0m.1-32.1h0m0 89.2h0m0-3.4h0m0 4.5h0m.1-13.3h0m0-46.9h0m0 11.4h0m0 46.7h0m0-82.8h0m0 73.5h0m0-65.3h0m0 76.3h0m.1-39.9h0m0 39.9h0m0-6.8h0m0-4.5h0m.1-4h0m.1 8.8h0m0-4.6h0m0 10.2h0m0-5.5h0m0 4.3h0m0 .6h0m.1 .6h0m0-.1h0m.1-.5h0m.2-.4h0m.2 .6h0m.1 1.1h0m0 .3h0m0-1.2h0m.4-.8h0m.1 1.7h0m0-.8h0m.2 .2h0m.1-1.3h0m.2 1h0m.1-5.1h0m0 5.1h0m0-.3h0m0-10.4h0m0 11.9h0m.1-1.9h0m.1 1.1h0m0-1.2h0m.1-7.3h0m0 4.9h0m0 2.5h0m.1 .1h0m0-4.5h0m0 5.7h0m.2-1h0m.1-10.5h0m0 11.4h0m.2-8h0m0-.1h0m0 8.3h0m.1-.7h0m0-3.6h0m0-7.9h0m0 10.9h0m0 .4h0m.2-5.7h0m.2 4.3h0m0-1.3h0m.1-3.2h0m0 3.4h0m.1-.6h0m.2 1.8h0m.2-7.5h0m.1 4.6h0m.1-5.1h0m.2 .5h0m0 6.6h0m0-6.8h0m.1 .7h0m.2 5.1h0m.4 3h0m0-.1h0m0-3.2h0m.1 2.7h0m.2 2.5h0m.2-1.2h0m0 .2h0m.1-.2h0m.1-.4h0m.2-.4h0m0-.4h0m.1 1.6h0m.2-.8h0m.2-1.3h0m0 2.5h0m.1-.8h0m0 1.1h0m.2-4.8h0m.1-.7h0m.1 2.7h0m0 1.2h0m0 1h0m.2-11.1h0m0 8.9h0m.1-8.1h0m.1 8.6h0m0 1.2h0m0-.9h0m0-.7h0m.2 2h0m.1-10.9h0m0 10.1h0m0-1h0m.1 .1h0m.1 1.4h0m0-5.1h0m0 3.3h0m0-6.6h0m.1-.3h0m0-1.6h0m.1-2.5h0m0 11.8h0m.1-7h0m.1 6.7h0m0-.3h0m.1-.2h0m.2 .8h0m.1 .8h0m0-1.8h0m.1 .5h0m0 .2h0m.1-.4h0m.2-.7h0m0 2.1h0m0-3h0m.1 2h0m.1 1.4h0m0-1.3h0m0-11.6h0m.1 .3h0m0 2.7h0m.1 1.4h0m0 8.2h0m.1-9.5h0m0 5.1h0m0 1.5h0m0 1.8h0m0-1.8h0m0 .4h0m0-.1h0m0-9h0m.1 11.8h0m.1-.5h0m0-7.4h0m0 4.6h0m.2 .2h0m0 2.7h0m.2-3.5h0m0-1.7h0m.1-1.4h0m.1 3h0m.3-1h0m.1-1.7h0m.1 .1h0m.1 .3h0m.1 4.5h0m.2 1.4h0m0-.8h0m.1 1.3h0m0-.1h0m0 1.5h0m.1-6.5h0m0 5.4h0m.1 .3h0m0-7.3h0m0 5.2h0m.1 .8h0m.1-.4h0m.1-1.4h0m0-5.1h0m.1 6.7h0m0-1.7h0m.1-.2h0m0-1.3h0m.1 1.5h0m.1 1.2h0m.1-3.6h0m0 1h0m.1 1.6h0m.1 1h0m.1-1.6h0m0 2.2h0m.1-.4h0m.3 1.9h0m.3-4.1h0m0 1h0m0-1.1h0m.2 2.6h0m.1 .8h0m.1 1.4h0m0-5h0m0 .3h0m.1 2.6h0m.1-6.2h0m.1 6.1h0m0-5.5h0m0 4.8h0m.2 .9h0m.1-1h0m.1 2.3h0m0 .2h0m.1-2.3h0m.2 .8h0m.1 .3h0m0 1.3h0m.2-1.7h0m.2 .2h0m0-.1h0m0 .6h0m.2 .7h0m.2-1.2h0m0 1.3h0m.3 .1h0m.1-1.8h0m0 .5h0m.2 0h0m.1 .8h0m.1-1.3h0m0 .1h0m.3 .5h0m.1-.4h0m.1 2.2h0m.1-1h0m.3-.5h0m.1 .3h0m0-.7h0m.2-.6h0m0 1.8h0m.1 .1h0m.2-.3h0m.1-.1h0m.1-.4h0m0 .3h0m.1 .3h0m.1-18.5h0m0 5.4h0m.1-8.5h0m0 7.5h0m0 14.1h0m.1-7.1h0m0-20.5h0m0 26.9h0m0-22.9h0m0 11h0m.1 12.5h0m.1 .3h0m0-23.7h0m0 19.9h0m0-15h0m0-10.8h0m0 8h0m.1 12.8h0m0-8.9h0m0 1.8h0m.1 15.9h0m0 .1h0m0-35.5h0m0 .4h0m.1 33.6h0m0-21.9h0m0 5.8h0m0 1.6h0m.1-8.9h0m0-4.3h0m0-7.7h0m0 29.7h0m.1 6.7h0m0-26.1h0m.1 13h0m0 2h0m0 5.3h0m0 6h0m0-31.9h0m.1 32.2h0m0-.2h0m.1-10.9h0m0-4.9h0m0 15.1h0m.1-.4h0m0-25.5h0m0 21.1h0m0-21.6h0m0-2.3h0m.1 .1h0m0 2.4h0m0-5.1h0m0 31h0m0-14.3h0m0 2h0m.1 12.5h0m0 .7h0m0-24.2h0m0 10.4h0m0-5.9h0m.1 5.7h0m0 1.8h0m0 .5h0m0-16h0m.1 19.9h0m0 8.3h0m0-1.4h0m0-5.2h0m.1 4.9h0m0 1.6h0m0 .2h0m.1-1.8h0m0 .2h0m.3 .3h0m.3-.6h0m.1 1.3h0m0-1.2h0m0 2h0m.1-2.2h0m.1 .7h0m.3 .5h0m0-.6h0m.2 1.3h0m.1-1.7h0m.2-.1h0m0 .4h0m.2-.1h0m0-.6h0m.3 .4h0m0-5h0m.1 .9h0m.1 1.3h0m0-4.4h0m.3 5.2h0m.1-9.5h0m0 4.6h0m0-1.8h0m0 6.9h0m.1 3.2h0m0-11.5h0m0-1.4h0m0 11h0m.1-13.7h0m.1 13.1h0m0 1.3h0m.1-5.9h0m.1 1.9h0m0-.3h0m0 6h0m0-8.4h0m.1 6.7h0m.3-3.3h0m0-7.7h0m.1-1h0m.1 13.6h0m0-4.9h0m0 3.1h0m.1 1.1h0m0-4.4h0m.2 1.4h0m.1 2.2h0m.1-.6h0m.2 .8h0m0-2.6h0m.1 .8h0m.3-1.2h0m0 1.6h0m.2 1.1h0m0 .6h0m.2-.2h0m.1-2.6h0m.1 1.5h0m0 1.6h0m.1 0h0m.2 .9h0m.2-2.4h0m.2 .8h0m0-.6h0m0 .6h0m0 1.3h0m.2-.8h0m0-3.1h0m.1 1.9h0m.1-2.2h0m0 3.1h0m.1-2h0m0 2.3h0m0 .1h0m0 .8h0m0-2.1h0m.1-3.4h0m0 4h0m.1-3.3h0m0 2.1h0m0-11.9h0m.1 1.5h0m0-1.8h0m.1 3.6h0m0 8.2h0m0-.5h0m.1-.1h0m0-10.7h0m0 11.1h0m0-7h0m.1 8h0m0-6.1h0m0-1h0m0 5.6h0m0 1.2h0m.1-6.9h0m.1-2.5h0m.2 8.7h0m0 1.9h0m.1-5.5h0m.1 3.1h0m0 1.2h0m.1-.8h0m.3 2.8h0m.1-.6h0m.2-.5h0m0 1.3h0m.1 .1h0m.1-.2h0m0-.7h0m.1 0h0m.1 .7h0m.4 .3h0m.1-.9h0m.1 0h0m.1 .6h0m.1-.9h0m0 0h0m.2 .8h0m.1-4.2h0m.1 3.5h0m.2-2.8h0m.3 .7h0m.1 1h0m0-.6h0m.1 .2h0m0-1.9h0m.1 1h0m.3-.8h0m.2 1.9h0m0 2.3h0m0-4h0m.3 .9h0m0 .1h0m.1 1.9h0m.2-.8h0m0-5.9h0m.1 6.2h0m0-1.7h0m0-4.7h0m.2 7.4h0m0-2.3h0m.1 1.9h0m.2-8.8h0m.1 8.4h0m0-1.5h0m.1 .6h0m0-5.8h0m.1 5.3h0m0 2.5h0m.1-5.6h0m0 2.7h0m0-1.4h0m.1 3.2h0m.2 .5h0m0-4h0m.1 5h0m.1-2h0m0-4.7h0m0 1.2h0m.1 2h0m.2 1.7h0m.1-4h0m.1 1h0m.2 2.1h0m.2-3.8h0m0 3.7h0m.1 2.8h0m0-1.7h0m0-1.6h0m0-.2h0m.1-1.3h0m.1 4.6h0m0-6.2h0m.3 4.8h0m0 1.3h0m.3-.6h0m.1-5.2h0m0 6.5h0m0-4.8h0m0 3h0m0-6.5h0m0 6.3h0m.1-.4h0m0-2.2h0m0-4.3h0m0 7.7h0m0 .2h0m.1 .3h0m0-5.1h0m.1 4.6h0m0-7h0m0 2.4h0m0 5.6h0m0-6.7h0m0 1.6h0m.1-2.3h0m0-4.2h0m0 1.1h0m0 .1h0m0 .9h0m0 8.6h0m0 .4h0m0-2.9h0m.1-5.1h0m0 2.4h0m0 3.4h0m0 2.5h0m.1-5h0m0-7.1h0m0 3.4h0m0 6.4h0m.1 .5h0m0 2.3h0m0-1.2h0m0-1.2h0m0-6.1h0m0 6.1h0m0 .9h0m0-6.4h0m.1 3.3h0m0-11.3h0m0 8.3h0m0 3h0m0-10.8h0m0 10.3h0m0-1.3h0m0-2.7h0m.1 3.7h0m0-5.5h0m0-4.2h0m0 12.3h0m.1-17.8h0m0 12.7h0m0 3h0m0 1.5h0m.1-6.8h0m0 .7h0m0 2h0m0 1.1h0m0-5.9h0m.1 11.2h0m0 .2h0m0-8.6h0m0-1.4h0m0-3.9h0m0-1.6h0m0 13h0m0 .8h0m.1-18.4h0m0 8.8h0m0 11.2h0m0-2.8h0m0-16.5h0m0 15.6h0m0 3.7h0m.1-13.7h0m0-2h0m0 13.3h0m0-5.9h0m.1 2.2h0m0-.5h0m0-8.4h0m0 10.4h0m0-1h0m0-3.8h0m.1 3.1h0m0 6h0m0-1.8h0m0-7.4h0m0-3.5h0m0-10h0m.1 13.8h0m0 1.6h0m0-10.1h0m0-2.3h0m0 20.7h0m0-10.5h0m.1 1.9h0m0-.6h0m0 1.8h0m0-2.8h0m0-9.7h0m0 19.3h0m0-7.9h0m.1 5.8h0m0-1.1h0m0-.5h0m0-1.2h0m0-1.3h0m0 .7h0m0-3.1h0m.1 6.2h0m0-5.4h0m0-8.4h0m0 11.9h0m.1-5.3h0m0 4.3h0m.1-2.8h0m0 .1h0m0 5.7h0m.1-9h0m0 .3h0m0 11.1h0m0-4.5h0m.1-10.9h0m0 .1h0m0 11h0m0-5.5h0m.1 10.4h0m0-1.9h0m0-14.6h0m0 10.1h0m0-2.5h0m0-.6h0m.1 7.8h0m0-.2h0m0-4.1h0m0-3.4h0m.1-3.5h0m0 6.4h0m0-5.9h0m0-19.8h0m0 29.2h0m0-28.7h0m.1 25h0m0 2.6h0m0 .1h0m0-19.4h0m.1 15.3h0m0 6.5h0m0-1.9h0m0 .9h0m0-2h0m0 4.3h0m.1-4.5h0m0-19.1h0m0 19.5h0m0-4.4h0m0 .9h0m0-.4h0m0 1.2h0m0 7.2h0m0-11.2h0m.1 4.7h0m0 .4h0m0 4.2h0m0-.3h0m.1 2.1h0m0-.4h0m0-1.2h0m0 1.1h0m0-1.5h0m0-2h0m.1-13.1h0m0 8.1h0m0-4.9h0m.1 1h0m0 10.6h0m0 1.5h0m0-1.4h0m0-25.9h0m0 20h0m0 3.3h0m0-5.1h0m0 3.9h0m0-7.3h0m.1 4.9h0m0-21.2h0m0 26.2h0m0-16.2h0m.1 3.4h0m0 3.5h0m0 8.6h0m0 1.7h0m0 .4h0m0-6.3h0m.1-4.4h0m0 1.5h0m0 1h0m.1 7.8h0m0-8h0m0-13.4h0m0 23.9h0m0-5.3h0m.1 1.9h0m0 1.4h0m0-.2h0m0-32.1h0m.1 6.8h0m0 11.9h0m0 15h0m0-5.4h0m0-19.3h0m0 4.6h0m0 17.7h0m.1-21.9h0m0 20.5h0m0-8.8h0m0-11.9h0m0 11.4h0m0-14.1h0m.1 25.9h0m0-1.3h0m0-15.9h0m0 1h0m0 15.7h0m0-7.5h0m0-15h0m.1 18.6h0m0 6h0m0-4.4h0m0-28h0m.1 7.9h0m0 22.1h0m0-23h0m0 18.3h0m.1 5.1h0m0-9.9h0m0 5.2h0m.2 4.2h0m0 1h0m.1-.7h0m0-5.8h0m0 8h0m0-3.2h0m.1 .9h0m.1-6.7h0m.2 4.4h0m.3 2.9h0m0-8.8h0m.1 1.1h0m.1 2.6h0m.1-1.2h0m.1 2.2h0m0 1.7h0m.1-1.7h0m.1 .6h0m.1 .5h0m.1 1.1h0m.2-.6h0m.1-1h0m.2 4.5h0m.1-4.1h0m.3-.9h0m.1 .7h0m.2 1.9h0m0 3h0m.1-3.3h0m0 1.7h0m.1 .8h0m.3-.2h0m0 .4h0m.2-.1h0m0 .1h0m.1-6.3h0m0 6.6h0m0-4.1h0m.1 4.2h0m0 .1h0m.1-3.7h0m0-5.8h0m.1 9.1h0m.1 .5h0m0-5h0m0-14.1h0m0 18.6h0m0-1.5h0m0-9.9h0m0 11.8h0m.1-9.1h0m0-4.2h0m0 3.6h0m0-4.3h0m0 5.6h0m.1 1h0m0-4.6h0m0 8.1h0m0-11.5h0m0-2h0m.1 .3h0m0 14.1h0m0-6.9h0m0 6.2h0m0 .1h0m0 3h0m0-19.6h0m.1 20.2h0m0-14.7h0m0 6.3h0m0 7h0m0-11.2h0m0-2.9h0m0-9.4h0m.1-.2h0m0 16.6h0m0-.9h0m0 2.6h0m0-3.5h0m0 6.4h0m0-.8h0m0 2.4h0m.1-4.8h0m0-5.2h0m0 .6h0m0 2.6h0m0-2.1h0m.1 9.8h0m0-23h0m0 12.4h0m.1 5.6h0m0 6.4h0m0-7.3h0m.1 .4h0m0 1.7h0m0 5.6h0m0-19.6h0m0 2.9h0m0 7h0m0-5.4h0m.1 6h0m0 3.1h0m0-4.2h0m0-2.5h0m0 11.8h0m.1-6.4h0m.1-10.8h0m0 10.6h0m0 2.9h0m.1 1.6h0m0-2.5h0m0-7.6h0m0 5.7h0m0 3.1h0m0-13.2h0m0 3.4h0m0 3.8h0m.1-.9h0m0 .4h0m.1 4.6h0m0 .1h0m.2 .3h0m0 3.8h0m.1 .6h0m.1 1.4h0m0-10.3h0m0 .9h0m0 3.5h0m.1 3.6h0m.1-11.4h0m0 2.2h0m0-3.6h0m0 14h0m.1-.2h0m.1-6.2h0m.1 3.4h0m.1 1.7h0m0 .9h0m0 .3h0m0 1.2h0m0-14.4h0m.1 12.3h0m0-2.5h0m0-11.9h0m.1 .1h0m0-17.9h0m0 22.1h0m0 9.5h0m0-2.8h0m0 0h0m0-24.8h0m0 13.6h0m.1-2.6h0m0 13h0m0 5.5h0m0-9.2h0m0 9.8h0m0-14.3h0m0 6.8h0m.1-32.1h0m0 15.9h0m0-7.8h0m0 4.7h0m0 26.4h0m.1-1.2h0m0-12.3h0m0-14.1h0m0-4.9h0m0 19.9h0m0-18h0m.1-5h0m0 20.3h0m0-23.8h0m0 7.4h0m0-1.9h0m0-3h0m0 35.7h0m0-19.4h0m0-22.1h0m0 19.6h0m0 4.7h0m0-28.8h0m.1 40.5h0m0-15.4h0m0 20.1h0m0-.1h0m0-9.2h0m0-14.9h0m0 5.2h0m0 12h0m0-3.9h0m0 9.7h0m0-25h0m0-1.5h0m0 .9h0m.1 21.9h0m0-17.6h0m0 22.6h0m0-24.2h0m0-6.9h0m0 5.2h0m0 16h0m0-3h0m0-21.6h0m0-11h0m0 39.4h0m0-25.5h0m0 16.2h0m0-33.8h0m.1-11h0m0 25.7h0m0 35.9h0m0-43.6h0m0-18h0m0 11.5h0m0 23.4h0m0-9.6h0m0-20.4h0m0 34.1h0m0 2.2h0m.1 19.7h0m0 1.6h0m0-23.8h0m0 21.3h0m0-27h0m0-21.5h0m0 50.1h0m0-29.6h0m0 4.7h0m0 22.9h0m0-4.8h0m.1-23.5h0m0 9.3h0m0-10.5h0m0 29.6h0m0-33.1h0m0-3h0m0 23.3h0m0-16h0m0-11.4h0m0 17.8h0m.1 .9h0m0 21.1h0m0-17h0m0-35.8h0m0 20.2h0m0 5.6h0m0 12.6h0m0 .5h0m0-41h0m0 39.6h0m0 15.7h0m.1-23.2h0m0 9.1h0m0 3.2h0m0-18.5h0m0 31.7h0m0-19.2h0m0 7.9h0m0 8.1h0m0-36.9h0m0 7.9h0m0 2.8h0m0 13.9h0m0 2.7h0m0-20.2h0m0-15.5h0m0 17h0m.1 10.4h0m0 11.3h0m0-24.4h0m0 21.6h0m0-24.3h0m0 15.9h0m0 8.2h0m0 .6h0m0-9h0m0-10.6h0m0 20.2h0m0-48.3h0m.1 23.2h0m0 35.8h0m0-24h0m0 7.4h0m0-14.6h0m0 20h0m0-1.4h0m0 11.1h0m0 .8h0m0-39.7h0m0 16.2h0m.1-32.7h0m0 39.2h0m0-.8h0m0-3.6h0m0-3.5h0m0-7.5h0m0-1.3h0m0 32.7h0m0-5.7h0m0-4.1h0m0 8.6h0m0-13h0m.1-19.7h0m0 2.7h0m0 20.3h0m0-3.3h0m0 14.4h0m0-1.3h0m0-27.3h0m0-23.1h0m0 52.8h0m0-12.9h0m0-28.8h0m0 30.7h0m0 4.6h0m0 7.9h0m0-52.3h0m0 5.4h0m0 34.4h0m.1-5.8h0m0-19.7h0m0-8.6h0m0 15.3h0m0 4.8h0m0 14.9h0m0-19.6h0m0 16.6h0m.1 12h0m.1-7.3h0m0 7.4h0m0-.7h0m0 .5h0m.1-12.6h0m0 3.9h0m0-1.8h0m0 6.2h0m.1-16.7h0m0 22.8h0m.1-17.7h0m0 17.5h0m0-22.7h0m0-.4h0m0 2.5h0m0 17.1h0m0-22.4h0m.1 17.2h0m0-4h0m0 11.7h0m0-25.4h0m0 26h0m0-25.4h0m0 5.4h0m.1 15.1h0m0-7.9h0m0 7.9h0m0-1.7h0m0-1.9h0m0 8.8h0m0-20h0m0-1h0m.1 12.2h0m0 6.8h0m0-17.2h0m0 1.9h0m0 .2h0m0 17.5h0m0-32.5h0m0 15.2h0m.1 11h0m0-6.1h0m0-9.4h0m.1-6.3h0m0 24.2h0m0-16.9h0m0 20.5h0m0-32.5h0m0 27.7h0m0-9.1h0m.1-1.7h0m0 6.3h0m0-11.9h0m0 22h0m0-1.2h0m0-18.6h0m0 .5h0m0 5.2h0m0 2.7h0m.1 6.2h0m0-21h0m0 25.8h0m0-11.9h0m0-12.9h0m0 4h0m0 7.3h0m.1 12.5h0m0 .6h0m0-19.7h0m0 19.6h0m0-2.5h0m0-1.4h0m0 5.1h0m0-12.3h0m0 7.5h0m.1-19.7h0m0 2h0m0 19.7h0m0-22.2h0m0 4h0m0 9.2h0m0-5.9h0m.1-8.1h0m0-10.8h0m0 35.5h0m.1-3.6h0m0 3.4h0m0 1.3h0m0-5.2h0m0-24.5h0m0 11h0m0 7.7h0m0 10.1h0m0-25.3h0m.1 9.1h0m0 9.7h0m0-15.7h0m0 6.6h0m0 15.8h0m0-28.7h0m0 28.3h0m0-23.9h0m.1 8.8h0m0 8.8h0m0-20h0m0 11.2h0m0 15.6h0m0-12.5h0m0 2.6h0m0-10.3h0m.1 .8h0m0 1.8h0m0 3.5h0m.1-9.4h0m0 22.8h0m0-30.9h0m0 19.2h0m0-15.9h0m0 22.1h0m0 6.1h0m.1-5.1h0m.1 2.8h0m0-14.4h0m0 7.2h0m0 9.1h0m.1-17.9h0m0-2.3h0m0 7.7h0m0 13.4h0m0-28.1h0m0 8h0m.1-2.4h0m0 20.8h0m.1-1.2h0m0-4.4h0m.1 5.8h0m0 .3h0m.2-12h0m0 6.6h0m.1 7h0m0-8.6h0m0 2.3h0m.1-1.8h0m0 2.9h0m0-5.6h0m0 8.5h0m.1-7.2h0m.1-.1h0m0 2.4h0m0-.8h0m0-8.3h0m0 9.6h0m.1 1.1h0m0-10.1h0m.1 6.5h0m0 8.9h0m0-12.4h0m0-4.3h0m0 8.1h0m0 5.6h0m0-8.8h0m.1 4h0m0-5.8h0m0 10.9h0m0-20.5h0m0 17.8h0m.1-6.5h0m0 9.3h0m0-4.8h0m0-.8h0m0 6.4h0m0-9.5h0m.1 8.7h0m0 1.8h0m0-10.5h0m0 9.2h0m0-5.1h0m0-.3h0m0 2h0m0 3.1h0m.1-8.6h0m0 5.3h0m0-10.2h0m0-1.9h0m0 14.3h0m0 1h0m.1-7.1h0m0-5.8h0m0 15.6h0m0-15.1h0m0-5.9h0m0 13.7h0m0-8h0m0-2.9h0m.1 17h0m0-3.6h0m0 3.1h0m.1-4.2h0m0-8.4h0m0 2.1h0m0-1.6h0m0 .2h0m0 2.8h0m0 .5h0m0 6.5h0m0 1.1h0m0-5.2h0m.1 6.6h0m0 1.1h0m0-15h0m0 15h0m0-4.4h0m0-15.1h0m0 18.6h0m.1 .5h0m0-7.8h0m0-8.5h0m0 16.2h0m.1-8.5h0m0-8.3h0m0 12.4h0m0-4.7h0m0 4.9h0m.1-11.4h0m0 12.8h0m.1 3h0m0-8h0m0-3.2h0m0 11.1h0m.1-13.9h0m0 14.3h0m0-1h0m.1-11.8h0m0 12.1h0m0-4.6h0m0 4.3h0m.1-7.3h0m0 5.8h0m0-5.2h0m0 7.4h0m0-9.1h0m0 1.1h0m.2-4.4h0m0 13.2h0m0-7.7h0m0 6.4h0m.1-8.1h0m0 9.2h0m0-10.1h0m0 9.2h0m.1-3.4h0m.1-6.9h0m0 0h0m0 10h0m0-.8h0m.1-8h0m0 8.4h0m0-2.4h0m0-1.7h0m.1-3.5h0m0-12.4h0m0 12.1h0m0 3.4h0m0-.7h0m0 .8h0m.1 5.8h0m0-9h0m0 7.5h0m0-2.9h0m0-1.3h0m.1-3h0m0 6.6h0m0-10.6h0m0-10.7h0m0 21h0m.1-16.7h0m.1 15h0m0 1.4h0m0-10h0m0-2.8h0m.1 13.9h0m0-29.2h0m0 9.7h0m0 16.3h0m0-8.3h0m0 6.2h0m0 5.8h0m.1-7.5h0m0-6.6h0m0-.3h0m0 15.1h0m0-23.7h0m.1-6.1h0m0 10.7h0m0 10.6h0m0 3.1h0m0-5.3h0m0-2.5h0m.1 8.8h0m0 3.9h0m0-17.8h0m0 3.9h0m0 10.1h0m0-14.3h0m0 12.7h0m0 2.8h0m0 .6h0m0-7.6h0m.1-8.9h0m0 17.3h0m0-17.8h0m0 17.9h0m0-8.3h0m0-2.3h0m0 4.9h0m.1 6h0m0-8.9h0m0 6.8h0m0-5.9h0m0 .2h0m0-16h0m0 3.2h0m0 10h0m0-7.9h0m0 14.3h0m.1-11.3h0m0-3.6h0m0 8.9h0m0-14h0m0 13.5h0m0-4.6h0m0 14.5h0m0-6h0m0-17.5h0m0 20.6h0m0-10.7h0m.1 16.2h0m0-19.6h0m0 6.5h0m0 .4h0m0 4.2h0m0-4.2h0m0 9.5h0m.1-11.7h0m0 10.1h0m0 3.4h0m0-10.4h0m0 9.2h0m0 2.3h0m0-3.6h0m0-16.4h0m0 8.9h0m0-2h0m.1 3.5h0m0 3h0m0 1.6h0m0 2h0m0-4.7h0m0-14.5h0m0-6.9h0m.1 16.9h0m0-.9h0m0-6.1h0m0 15.5h0m0-10.5h0m0-9.2h0m0 .9h0m0 6.7h0m0 12.7h0m0-26.8h0m0 3.5h0m0 6.6h0m.1 12.8h0m0-29.9h0m0 34.8h0m0-18h0m0 20.3h0m0-19.8h0m0 10.9h0m0 5h0m0 3.9h0m.1-21h0m0 4.3h0m0-1.6h0m0-8.1h0m0 10.7h0m0 11.5h0m0 2.8h0m.1-2.1h0m0-17.3h0m0 16h0m0-9.5h0m0 11.8h0m0-6.2h0m0-12h0m0 5.9h0m0 8.5h0m0 2h0m0-13.5h0m0 11.3h0m0 4.7h0m.1-16.4h0m0-2h0m0-1.8h0m0 9.6h0m0 11.6h0m0-25.7h0m.1 9.8h0m0 13.6h0m0-20.5h0m0 23.7h0m0-7.9h0m.1-14.7h0m0 16.3h0m0-.4h0m0 3.5h0m0 .9h0m0-7.7h0m0-6.6h0m0 13.7h0m0 2h0m0-20.7h0m.1 6.3h0m0 12.1h0m0-6.4h0m0-7.1h0m0 16.4h0m0-18h0m0 6.7h0m0-3.6h0m0 13.3h0m0-10.2h0m0-8.3h0m0 8.9h0m0 2.2h0m.1 .9h0m0-2h0m0-1h0m0 5.1h0m0-13.8h0m0 10.8h0m0 4.9h0m0 2.6h0m.1-11.4h0m0 12.9h0m0-3.9h0m0 3.9h0m0-5h0m0 4.2h0m.1-3.1h0m0-11.6h0m0 4.8h0m.1 3.2h0m0-3.4h0m0 8.3h0m0-1.7h0m.1-2.3h0m0 2.2h0m0 2.6h0m.1 .5h0m0-1.7h0m.3 1.3h0m0-3.7h0m.2 4h0m.1-1.4h0m.1-1h0m0 2.1h0m.2-4.4h0m.1 1.8h0m.1 4h0m.1-5.8h0m.2 .8h0m0 .2h0m.2 2.3h0m.1-1.6h0m.1 1.1h0m.2 3.2h0m.1-1.1h0m0 1.4h0m.3-.3h0m.1-1.2h0m.1 .5h0m.1 .4h0m.1-1.4h0m.1 1.3h0m.2-1.6h0m.2 .3h0m.1 1.3h0m.1-.2h0m.1-1.2h0m.1 .9h0m0 1h0m.3-.2h0m0-.6h0m.1-.1h0m.2 .2h0m0 1.1h0m.2-1.3h0m.1 .8h0m.1-.7h0m.3 .5h0m0-1.5h0m.1 1h0m0-12h0m0 6.5h0m0-10.7h0m.1 15.9h0m0-10.6h0m0-7.1h0m.1 13.5h0m0 2.9h0m.1-6.2h0m0 5.2h0m.1 2.9h0m0-7.6h0m.1 1.7h0m.2-.6h0m.1-.8h0m0 1h0m0-3.1h0m0-2.5h0m.2 8.1h0m.1 .7h0m0-9.6h0m0 4.1h0m0-13h0m.1 8.2h0m0 6.4h0m0-11.3h0m.1 5.8h0m0 4.1h0m0-9.7h0m.1 11.9h0m0-2h0m.1 4.3h0m.2-4.8h0m0 6.5h0m0-4.7h0m.2 2h0m.1 5.8h0m.4-5.1h0m.2-.6h0m0 .5h0m0 .1h0m.2-.9h0m.1 2.3h0m.1-2.3h0m.2 2.9h0m0-1.6h0m.2 3.5h0m.1 1.3h0m.1-3.6h0m.2 2.5h0m.2-.5h0m0 1.4h0m.1-1.6h0m.1 1.9h0m.2-1.3h0m0-.6h0m.1 .9h0m.2-5.3h0m.1 5.4h0m.2-2.7h0m0-.7h0m.1-7.7h0m0 .5h0m.1 7.6h0m.1-6.8h0m0 6.4h0m.1-6h0m0-7.3h0m0 9h0m.1-7.2h0m.1 5.8h0m.1-1.4h0m0 8.7h0m0-7.7h0m.1 4.3h0m0-6.4h0m.1 .3h0m.2 1.4h0m.1 2h0m0-2h0m.1-6.1h0m0 14.6h0m.1 .7h0m0-4.2h0m0 3.6h0m0-17.1h0m.1 5.5h0m.1 11.5h0m0-4.4h0m0 6.4h0m.1-15.8h0m0 12.9h0m.1-3.1h0m.2-3.2h0m0 8h0m.1-5.6h0m.1 .2h0m0-12.5h0m.1 3.6h0m0 6.2h0m0-7.1h0m0 7.5h0m0-2.9h0m.1 10.2h0m0-14.5h0m0 8.1h0m.1 3.4h0m0 1.5h0m.2-5.5h0m.3 .2h0m0 3.6h0m.1 2.4h0m.1 1.2h0m.2-23.3h0m.1 2.8h0m.1 20.4h0m0 0h0m0-10.2h0m0-7.1h0m.1 5.9h0m0 2h0m0 4.4h0m0 6.3h0m.1-2.4h0m0-10.5h0m0 12.3h0m0-4.5h0m.1 3.5h0m0-17.8h0m0 18.3h0m0-6.4h0m0-11.3h0m0 11.1h0m.1-20.4h0m0 27.3h0m0-25.1h0m0 25.8h0m.1-5.7h0m0-4.2h0m0-6.9h0m0 15.2h0m.1-10.1h0m0-8.6h0m0 19.6h0m.1-24h0m0 7.9h0m0 .4h0m0-3.7h0m0 19.5h0m.1-10.7h0m.1-8.1h0m0 19.6h0m0-23.3h0m.1 22.8h0m0-2h0m.1 1.7h0m0 .1h0m0-.7h0m.2-.1h0m0 1.1h0m.3-.7h0m0 .9h0m.2-.6h0m.1 .7h0m0 0h0m.1 0h0m.2-.8h0m.3-.2h0m.2 .5h0m.2-1.5h0m0-1.4h0m0 2.7h0m.2-.3h0m0 .8h0m0-4.2h0m.2 .4h0m.1 1.1h0m0-1.1h0m0 1h0m.3-1.2h0m.1 0h0m0 1.7h0m0-4.3h0m0-1.1h0m.1 7.2h0m0-1.5h0m0-2.9h0m.1-.1h0m.2 5.3h0m0-3.5h0m0-3.3h0m.1 6.1h0m0-2.3h0m0-7.3h0m.1 6.6h0m0-2.4h0m.1-1.1h0m0-3.4h0m0 .7h0m0 7.9h0m0-14.4h0m.1 15.3h0m0-13.2h0m0 .6h0m0 12.2h0m.1-7.7h0m.1 7.9h0m0-.4h0m0 1h0m.1-8.1h0m0 7.2h0m.1-5.9h0m0 1.2h0m.1 1h0m0 2.5h0m0-2.2h0m0-2h0m.1-4.2h0m0 1.3h0m0 8.2h0m0 1.4h0m0-.4h0m0-9.1h0m0 10h0m0-1.8h0m.1-5.7h0m0 6h0m.2-6.4h0m0 .7h0m.1 4.3h0m0 1.4h0m.1-4.4h0m0 2.1h0m.1-1.2h0m0 4.8h0m0-1.8h0m0 0h0m.1-2.9h0m.1 2.3h0m0-2.8h0m.1-.1h0m.1-6.4h0m.2 8.5h0m0-1.9h0m0-1.1h0m.1 2.6h0m0-.5h0m0 2.5h0m.2-3.7h0m0 1.4h0m0 3.1h0m.1-8.8h0m.1 6.9h0m0 .4h0m.1-5.1h0m.2 1.7h0m0 2.1h0m.1 3h0m.1-2.7h0m.1-1.5h0m.1-4.1h0m.1-8.2h0m0 2.1h0m0 1.6h0m0 10.8h0m0-5.8h0m.1 7.2h0m0-3h0m.1 2.7h0m.1-15.9h0m0 5.6h0m0 1h0m0 9.9h0m0-2.9h0m.1 2.9h0m.1-10.7h0m.1 8.5h0m0-15.7h0m.1 17.1h0m0-4.4h0m0-3.1h0m.1 7.4h0m0-8.2h0m.1-.3h0m0 7.1h0m0-9.8h0m.2 9.1h0m0-11.2h0m0 13.5h0m0-2.1h0m0 1h0m0 .1h0m.1-1h0m0 3.7h0m.1-2.8h0m.2-4.2h0m0-14.4h0m0 11.3h0m0-1.7h0m0 8.6h0m0-14.8h0m.1 14.5h0m.1-.3h0m.2 .8h0m0-16.3h0m0 9.4h0m.1 4.5h0m0 4.6h0m0-6.1h0m0 0h0m.1 1.1h0m.1 3.6h0m.1-.5h0m.1 1.1h0m0-2.8h0m.1 1.7h0m.3-.7h0m0-.8h0m.1-.3h0m.3-.5h0m0 .8h0m.4-.1h0m.1-.8h0m0 2.6h0m0 .9h0m0-2.5h0m.1 1.1h0m0 2.9h0m0-1h0m0-4.1h0m.1-2.1h0m0-1.2h0m.1-1.9h0m0 9.8h0m0-15.1h0m.1-.1h0m0 .2h0m0 7.2h0m0 8.2h0m0-15.4h0m.1 11.3h0m.1 3.2h0m0 1h0m0-11.1h0m0 7.3h0m0 3.2h0m0-8.2h0m0 3.2h0m.1-5.2h0m0 9.3h0m0-6.5h0m0 3.7h0m0-7.1h0m0 11.1h0m0-5.4h0m.1 5.8h0m0-2.2h0m0-14.4h0m.1 6.5h0m0 2.7h0m0-4.4h0m0 10.7h0m0-1.1h0m.1-2.6h0m0 1.9h0m0-5.3h0m0 8.3h0m.1-2.3h0m0-3.5h0m0-4.4h0m0 .9h0m0 4.4h0m.2 2.1h0m0-1.5h0m0-6h0m0 9.4h0m.1-6.4h0m0-.9h0m0 7.8h0m0-9.4h0m.1 6h0m0-4.5h0m0 6.1h0m0-6.3h0m0 7.9h0m0-5.8h0m0-8.5h0m.1 2.4h0m0 9.5h0m.1-3.3h0m0 1.7h0m0-4.5h0m0 5.2h0m.1 .8h0m0 .5h0m.1-3h0m0-1.9h0m.1 2.1h0m0 1.9h0m.2 .2h0m0-2h0m.1-1.2h0m0 5.8h0m0-3.4h0m0 3.6h0m.1-2.7h0m0 1.8h0m.1-21.3h0m.1 19.4h0m0-1.4h0m.1 2.5h0m0-26.3h0m0 23.7h0m0-6.9h0m0 7.6h0m.1-9.4h0m0 13h0m0-27.2h0m0 9.9h0m.1 13.8h0m.1-9.8h0m0 9.1h0m0-3.6h0m0 5.6h0m.1-9.7h0m0 .8h0m0 11.3h0m0-.6h0m0-4.4h0m.1-24.4h0m.1 16.9h0m0-12.5h0m.1 7.8h0m0 13.2h0m0-12.2h0m0 6.4h0m.1 4.5h0m0 .1h0m.1-17.6h0m0 17.6h0m0-2.4h0m0-12.5h0m0-6.8h0m.1 19.3h0m.2 3.2h0m0-1.1h0m.1 3.4h0m0 1.1h0m.1-.1h0m.3 .2h0m0-2h0m.1 1.2h0m.1-4.4h0m0 2.9h0m0 1.1h0m0-2.9h0m0 1.6h0m.1-1.7h0m0 1.4h0m.1 1.1h0m.1-2.5h0m0 .9h0m.1 .2h0m0 1.1h0m0-.5h0m0-8.5h0m0 1.2h0m.1 5.6h0m0-5.6h0m.1-4.3h0m.1 13.2h0m0-8.2h0m0 6.8h0m0-10.3h0m.1 9.4h0m0-11.7h0m0 3.8h0m0 8.7h0m.2-2.1h0m0-5.3h0m0 4.1h0m0 1.9h0m0 1.1h0m0 2.3h0m.1-15.2h0m0 13h0m0-12.6h0m0 .8h0m0-.1h0m0 9.6h0m0-3.6h0m0 4.1h0m0 3.6h0m0-10.6h0m.1 10h0m0-11.2h0m0-1.5h0m0 12.5h0m0-5.9h0m0-5.8h0m.1-3.1h0m.1 12.4h0m0-14.7h0m0 18h0m0-6.1h0m0 2.6h0m0 2.4h0m.1-1.5h0m0 .5h0m0-12h0m0 9.6h0m.1 3.6h0m0-13.6h0m0 9.8h0m.1 3.6h0m0 .2h0m.1-1.2h0m0 .9h0m0-1.8h0m0 3.7h0m0-4.6h0m.1 1h0m0-.5h0m0-6.9h0m0 3.1h0m0-7.5h0m0 13.3h0m0-9.3h0m.1-.1h0m0 5.1h0m.1 4.3h0m.1 1.1h0m.1-1.4h0m.1-3.3h0m0 3.1h0m0-.6h0m0-.2h0m.1 1.6h0m.1-.4h0m0-5h0m0 6.1h0m.1-.6h0m0 1.3h0m0-.6h0m0-3.7h0m0 1h0m.1-.9h0m0 5.3h0m0-2.7h0m0 2.6h0m.1-6.6h0m0 4.6h0m.1 .7h0m0-2.7h0m0-1h0m0 3.6h0m0-.6h0m.1-2.9h0m.1 2h0m0 1.9h0m.1-2.7h0m.1 1.7h0m.1 .9h0m0-.6h0m.1-.1h0m0 .8h0m.1-2.7h0m.1 2.7h0m0-3.7h0m.3 3.4h0m0 .3h0m0-.2h0m.2 1.5h0m0-.9h0m.2-.1h0m.1-.5h0m.4 .3h0m0 .3h0m.2 0h0m0 .8h0m.1 0h0m0-1.4h0m.2-2.7h0m0 4h0m.1-6.4h0m0 5.3h0m.1-7.8h0m.1 7.8h0m.1-1.5h0m.1 1.6h0m0-4h0m.2 5h0m0-1h0m0-.6h0m0 1.4h0m.2-.9h0m.1 .7h0m.1-.6h0m.2 1.4h0m.1-1h0m.2 .5h0m.1-.6h0m.1-.3h0m0-3.2h0m0 3.6h0m.1-7.5h0m.1 6h0m.1-1.7h0m.3-1.9h0m.2-1h0m0 1.1h0m0 2.4h0m.1-2h0m.2-.4h0m.2 3.4h0m.2-5.7h0m.1 .9h0m.2 3.7h0m0-2.1h0m0 3.8h0m.1 .3h0m.3 .1h0m0-.1h0m.2 .1h0m.1 0h0m.1-7h0m0 6.9h0m0-10.5h0m.1 10.8h0m.1-.3h0m0-15.6h0m.1 16.6h0m0-17.8h0m0-2.3h0m0 10.4h0m0 5.9h0m0-13.1h0m.1 8.4h0m0 9h0m.1-6.2h0m.1 4.9h0m0-.5h0m.1-21.7h0m0 10.3h0m.1 2.7h0m0-8.7h0m0 18.8h0m0-1.6h0m0-7.6h0m.3 7.7h0m.2 1.6h0m.1-4.3h0m0 1.6h0m.2 .5h0m.1 .4h0m0-.8h0m0 1.3h0m0-1.1h0m.1 2.7h0m0-5.6h0m.1 4.2h0m.2-2.4h0m0 2.5h0m.1 1.2h0m.2-2.3h0m0 .2h0m.1-.7h0m.1 1.9h0m.2-1.2h0m.1-6.5h0m0 6.6h0m.1 .3h0m0 1.1h0m.1 .6h0m0-2.1h0m0-1.5h0m.1 3.6h0m0-1.4h0m.1-1.1h0m0-8.1h0m.1 8.6h0m0-.4h0m.1-5.1h0m.1 7.2h0m0-1.8h0m.3-.7h0m.1 2.1h0m.1-3h0m.2-.1h0m0-.9h0m.4-.9h0m0 1.8h0m0-.9h0m.2 .1h0m.1 4h0m0-2.8h0m.3-1.5h0m0 1.9h0m.1-2.6h0m.1 4.4h0m0-1.8h0m.1 .6h0m.2 1h0m0-3.7h0m0 .8h0m.1 1.6h0m0 .5h0m0-2h0m.1 1.7h0m.1-3.3h0m.1 4.5h0m0-4.9h0m.1 6.4h0m0-.7h0m0-3.8h0m0 4.3h0m.1-1.8h0m0-.1h0m.2-2.7h0m0 3.2h0m.1-8.9h0m0 9.9h0m.1-4.1h0m0 .2h0m0 1h0m.1-1.6h0m0 5.2h0m.1-2.5h0m.1 .1h0m0-1h0m0 2.9h0m.1-4.9h0m.1-2.7h0m.1 2.3h0m0-2.5h0m0-.1h0m.3-10.4h0m0 11.9h0m.1 0h0m0-2.5h0m.1-3.8h0m0 4.5h0m0 3.9h0m0 3.4h0m0-15.2h0m.1-1.9h0m0 10.6h0m.1-15h0m0 18.3h0m0-12.9h0m0 15.7h0m0-17.1h0m0 9.7h0m0-2.2h0m0 6.9h0m0-20h0m0 4.8h0m.1 17.1h0m0-5.1h0m0-6.2h0m.1 8.1h0m0-11.8h0m0 3.9h0m0 8.5h0m0 4.5h0m0-10.3h0m0-.1h0m0-.7h0m.1-5.8h0m0-2.1h0m0 7h0m0 6.1h0m0-14.2h0m0 16.1h0m0-.8h0m0-15.3h0m0 8.5h0m.1 4.5h0m0-1.5h0m0-2.8h0m0-2.4h0m0 4.9h0m.1 5.8h0m0-1.1h0m0-9.1h0m0 4.5h0m0 3.4h0m0 1.2h0m.1 2.5h0m0 1.3h0m.1-2.6h0m0-1.5h0m0-4.6h0m0-2.4h0m0-1.9h0m0 7.5h0m.1-2.9h0m0 7.5h0m0-7.1h0m.1-1.8h0m0 6.6h0m.1-4.7h0m0 7h0m0-1.6h0m0-.5h0m0 2.4h0m.1-1.9h0m0-8.4h0m0 10h0m0-.3h0m.1 .8h0m0-.4h0m0 .6h0m.1-4.3h0m0 2.6h0m0 .8h0m0-6.1h0m.2 4.7h0m0-7h0m.1 8.1h0m0 .2h0m.1 1.3h0m0-1.5h0m0-1.6h0m.1 3.4h0m0-1.3h0m0-1.4h0m.2 1.1h0m0-4.9h0m0 7.2h0m.1-3.1h0m.1 2.4h0m.1-.4h0m0-1.3h0m0 .5h0m.2 1.9h0m0-2.9h0m0 1.6h0m0-1.3h0m.1-.3h0m0 1.3h0m.1 .9h0m.2-.5h0m.3-1.4h0m0 1.7h0m.2-1.3h0m.1-.3h0m.3 1.9h0m0-1.5h0m.2 0h0m0-1.4h0m0 1.4h0m.2-1h0m.1 .9h0m0-4.1h0m.2 5.8h0m.1-3.1h0m.1-.7h0m.1-1.3h0m.1 .1h0m.3 1.5h0m.1-2.1h0m.1 4.6h0m.1 .3h0m.1-.7h0m0-5.3h0m.1-.3h0m.1 5.8h0m.2-5.7h0m0 1h0m.1 .5h0m0 5.5h0m.1-5.4h0m0 0h0m0 2.6h0m.2 .1h0m0-1.4h0m0 3.2h0m0-5.5h0m.1 6.3h0m0-6.7h0m.2-.2h0m0 1.8h0m.3-.3h0m0 3.5h0m.4-4.7h0m.1 3.6h0m0-4.3h0m0 1.7h0m.1-3.3h0m.3 .1h0m.2 1.9h0m.2 4.6h0m0-7.4h0m.1 3.7h0m.2 2h0m0-3.8h0m.1-1.3h0m.1 9.2h0m.1-.4h0m0-.6h0m.1 0h0m.2 0h0m0 0h0m.3 .6h0m.2-1.6h0m0 .5h0m.1 1.5h0m0-.7h0m.1-.1h0m.1-2.3h0m.5-2.2h0m0-1.1h0m.1 .4h0m.1-3.1h0m.1 2.6h0m.3 .4h0m.1-1.4h0m.1-1.7h0m.1 3.5h0m0-2.6h0m.3 3.2h0m0-2h0m0-1.1h0m.3 3.4h0m0 4.4h0m.2-8.4h0m0-2.2h0m0 1.8h0m.2 4.9h0m.1 2.3h0m.3-4.7h0m.2 1h0m.1-3.8h0m0 5h0m.1 .4h0m.1-2.5h0m.2 .4h0m.2 2.5h0m.1-2.2h0m0-3.8h0m.1 1.3h0m.1 1.9h0m0-3.4h0m.1 2.9h0m0-1.3h0m.1-6.2h0m0 5.1h0m0-11.8h0m.1 5.6h0m0 5.1h0m0-6.2h0m.1 4.9h0m0 5.7h0m.1 2.3h0m0-5.8h0m0-7.9h0m0 14h0m.2-3.3h0m.1-1.8h0m0-2.6h0m.1-2.7h0m0-2.5h0m.1 4.7h0m0 3h0m0 6.6h0m.1-16.1h0m0 15h0m0-2.4h0m.1 5.7h0m.1-.9h0m.2-.1h0m.3 .7h0m0 .6h0m.1-.6h0m.2 .1h0m.2-1.1h0m.1 .5h0m.1-.4h0m.1 .1h0m.1-5.2h0m0-1.1h0m0-4.5h0m.1 11.5h0m0-1.5h0m.1-2.7h0m0 2.4h0m0-.4h0m.1-1.1h0m0 .3h0m.1 .7h0m.1 .8h0m0-.3h0m0-5.2h0m.1 6h0m0-3.4h0m0 0h0m.1 3.5h0m0-9.4h0m0 2.9h0m.1-1.5h0m0 7.4h0m0 1.7h0m.1-1.1h0m.1 .6h0m0-1.9h0m0-2.5h0m.1 1.2h0m0-5.9h0m.1 8.9h0m.1-2.6h0m.1 1.1h0m0-.7h0m.1 .8h0m0 .4h0m.1-3.1h0m.1-6.4h0m0 2.1h0m.1 .1h0m0 5h0m0-1.7h0m0 3.5h0m.1 1.1h0m.1-4.4h0m0 2.5h0m0-10h0m.1 10.4h0m0-12.6h0m.1 1.8h0m.1 7.5h0m0-8.7h0m0 10.3h0m.1 .7h0m0-.8h0m.1-6.7h0m0 3.8h0m.1 .1h0m.3 4.2h0m.2-2.9h0m0 4h0m.3-5.5h0m.1 .1h0m.1 2.5h0m0-2.2h0m0 5.7h0m.1-1.8h0m.3-3.8h0m.2 4.6h0m0-3.7h0m.2-1.8h0m0-.1h0m.3 1.8h0m0 2.1h0m.1-2.4h0m.1 4.1h0m.1 1.5h0m0 1.1h0m.2-1.2h0m.2 .1h0m0 .6h0m.3-.6h0m.1 .8h0m0-.5h0m.1-5.2h0m.1 5.3h0m0-.2h0m.1-.3h0m0-1.5h0m0 1h0m.2-4h0m0 5.2h0m.1-4.5h0m0 .2h0m.1 1.5h0m0 3.5h0m0-2.6h0m0 .3h0m0 1.2h0m0-7.1h0m0 2.5h0m.1 3.7h0m0 0h0m0-6.4h0m.1 6.7h0m0-3.3h0m0 1.8h0m.1 .4h0m0-1.5h0m0 .5h0m.1-6.1h0m0 8.5h0m0-4.3h0m0-.5h0m0 1.6h0m0 2.3h0m0 2.1h0m.1-.8h0m0-5h0m.1 4.3h0m0-2.3h0m0-4.2h0m.1 4.2h0m0 1.3h0m0 .4h0m0-.2h0m.1 .3h0m0-5.2h0m0 .3h0m.2 4h0m0-3.1h0m0 5.2h0m0 .3h0m.1-3.5h0m0 2.3h0m.1 1.2h0m.1-2.2h0m0 1.6h0m.1-3.5h0m0 .8h0m.1-3.8h0m.1 6.2h0m0-5.2h0m0 1.6h0m.1 3.8h0m0-2.4h0m0-1.6h0m.1 .7h0m0-.2h0m.1 .2h0m0-.1h0m.1 2h0m0-5.9h0m.1 6.7h0m.1-5h0m.1-6.7h0m0-1.7h0m0 9.2h0m0-3h0m0 7.3h0m0-9h0m.1 8h0m0-2.8h0m0 1.2h0m0-1.1h0m.1 5.1h0m0-3.5h0m.1 2.3h0m0-15.6h0m.1 12.8h0m0 4h0m0-3.4h0m.1-13.8h0m0-1.8h0m0 13.1h0m0-15.8h0m0 16.4h0m0-5.4h0m0 8.3h0m0-1.9h0m.1-10.4h0m0 4.9h0m0 3.6h0m0-10.1h0m.1-1.9h0m0 .7h0m0 .5h0m0 16.5h0m0-5.9h0m0-6.6h0m0-11.8h0m.1 4.5h0m0 7.2h0m0 4.3h0m0 1h0m0 1.4h0m0-.2h0m0-22.3h0m0 18.9h0m.1-7.1h0m0-16.8h0m0 25.5h0m0 5.1h0m0-2.6h0m0 .1h0m0-29.1h0m.1 13.9h0m0-10.9h0m0 .8h0m0 24.2h0m0 .8h0m0-4.8h0m0-19.8h0m0 23.8h0m0-8.1h0m0-3.7h0m0 18h0m0-12.4h0m.1 6h0m0-24.7h0m0 21.3h0m0-24.4h0m0 24.7h0m0-31.4h0m.1 13.7h0m0 16.2h0m0-27.8h0m0 36.9h0m0-3.8h0m0-7.8h0m.1 .1h0m0 12h0m0-4.4h0m0-26.9h0m0 21.2h0m0 5.4h0m0 4.3h0m.1-3h0m0-7.4h0m0-3.1h0m0 8.6h0m0 .7h0m0-5.4h0m0-19.1h0m0 25.1h0m0-1.8h0m.1-9.1h0m0 9.3h0m0-18.6h0m0-6.5h0m0-2.5h0m0-2.5h0m0 28.1h0m.1-27.3h0m0 35.9h0m0-9.1h0m0-.9h0m.1-12.3h0m0 18.4h0m.1 4.4h0m0-3.2h0m0-18.2h0m0-.1h0m0-10.2h0m0 22.8h0m.1-25.4h0m0 8.8h0m0 14.9h0m0 8.2h0m0-23.6h0m0-4.6h0m.1 29.6h0m0-10.8h0m0-18h0m0 25.6h0m0-24.5h0m0 18.2h0m0-10.5h0m.1 19.4h0m.1-4.3h0m.1-.1h0m0 1h0m0 4.7h0m.1-9.4h0m.1 .5h0m0-1.9h0m0 6.2h0m.1 1h0m0 1.1h0m.1-8.3h0m0 5.3h0m0 3.8h0m0-2.6h0m0 2.5h0m0 .1h0m0-13.2h0m.2 6.5h0m0 4.3h0m.1 2.7h0m.1-1.6h0m0-3.3h0m0 6.6h0m0 .3h0m0-2.9h0m.1-8.1h0m.1 .2h0m0 7h0m0-2.5h0m.1-6.4h0m0 1.2h0m0 5.9h0m.1 3.1h0m0-1.1h0m.1-4.2h0m0 6.8h0m0 1.5h0m0-4.6h0m0 3.2h0m.1-.3h0m0-2.2h0m.1-5.5h0m0 2.3h0m0 3h0m0-.6h0m.1 3.3h0m0-.5h0m.1-.8h0m0 1.8h0m0-8.3h0m.1 7.9h0m.1-3.4h0m.1 3.1h0m0-2.1h0m.2 1.8h0m0 1.2h0m0 .8h0m.1-.2h0m.1-8.1h0m0 6.3h0m.1 .8h0m0 0h0m.2-.3h0m.1 .6h0m0-.6h0m.3 1.1h0m.1-.9h0m0 .4h0m.2 1.1h0m.3-3.5h0m0 .1h0m.1 .5h0m0 2h0m.1-2.6h0m.3 .9h0m.2 1.6h0m0-1.8h0m0 0h0m0 2.4h0m.1-2h0m.2-.4h0m.1 2.5h0m.2-.5h0m.2-.1h0m.2 .2h0m0 0h0m.1 .4h0m0-1h0m.1-.2h0m.5 .9h0m0-.4h0m.2-3.2h0m0 3.2h0m0-.4h0m0 .5h0m.1 .3h0m.1-3.2h0m.1 2.6h0m0-1.6h0m.1-.2h0m.2 2h0m0-1.5h0m.1 1.3h0m.1-1.4h0m0 .6h0m.2 .8h0m0-1h0m.1 1.9h0m.1-1.5h0m.1-.7h0m0 1.8h0m.2-1.4h0m0-.2h0m.2 .9h0m.1-2.2h0m.1 3.2h0m.1-2.9h0m0 3h0m.4-3.4h0m.1 .7h0m0 .5h0m.1 .5h0m.1-.7h0m.1 2.3h0m.3-2.6h0m.2 2.5h0m0-3h0m0 3.3h0m.1-7.6h0m.2 6.3h0m.1-2.9h0m0 1.3h0m0-1.6h0m.2 4.4h0m.1-8h0m0 2.3h0m.1-1h0m.1-1.8h0m0 2.5h0m.3-1.9h0m.1 6.3h0m0-6.5h0m.3 7h0m.1-4.3h0m.1-.7h0m0 5.4h0m.2-1.1h0m0-.3h0m.1-.3h0m.2-1.2h0m0-15.5h0m.1 15.7h0m0-17h0m.1 13.5h0m0 3.4h0m0-3.1h0m0-1.2h0m0 3.5h0m0-.8h0m.1-4.4h0m.1 9.1h0m0-2.5h0m0-1.3h0m0-5h0m.1 5.7h0m0-11.7h0m0 15.3h0m0-14.3h0m.1 11.7h0m0-2.1h0m0-18.9h0m0-3.8h0m.1 22.5h0m0-1.8h0m0-21.4h0m0 9.1h0m0 16.3h0m.1-22.8h0m0 22.8h0m.1-18.3h0m0 11.7h0m0-11h0m0 20.5h0m0-2.1h0m0-2.1h0m0 .5h0m0-21.5h0m0 2.6h0m.1 21.6h0m0-2.5h0m0 1.1h0m.1-4.8h0m0 6.4h0m0-17.7h0m0 13.5h0m.1 5h0m0-20.1h0m0 16.7h0m0-1.3h0m0-2.7h0m0-7.1h0m0-4h0m.1 9.6h0m0 4.2h0m0-1.6h0m.2 4.3h0m0 .1h0m.1-1h0m.1 1.4h0m0-3.9h0m.2 2.7h0m.1-.1h0m.2-.6h0m.1 .5h0m.1 1.3h0m.1-1.4h0m0 1.4h0m0-.4h0m.2-3.8h0m0 4.2h0m.1-.2h0m0 0h0m.2 1.7h0m0-2.4h0m.1-4.7h0m0 5.2h0m.1 .8h0m0-5.9h0m0 4.9h0m.1 1.5h0m.1-.7h0m.2 .6h0m0-6.4h0m.1 6.4h0m0-4.2h0m.2 2.9h0m.1-.2h0m0-.7h0m.2 1.8h0m.1-1h0m.1 1.9h0m0-2.8h0m.2 2.1h0m.2-3.5h0m.1-.1h0m0 .4h0m.1 3.1h0m.1-3h0m0 1.8h0m0-10.4h0m.1 11.6h0m.1-3.4h0m0-4h0m0-1.2h0m.1 6.5h0m.1-12.8h0m.1 11.7h0m.1-8.4h0m0 8.1h0m.1-4h0m.1-1.2h0m0-7.6h0m.1 4.5h0m0 12.6h0m0 0h0m0-4.7h0m0 .6h0m0-5h0m.3 5.7h0m.1-6.6h0m0-5.9h0m.1 3.4h0m0-3.2h0m0 5.4h0m.2 7.9h0m0-2.5h0m.1 2.3h0m0-8.2h0m.1-5.8h0m0 1.9h0m0 4.3h0m0 6.7h0m.1-8.1h0m.1 2.4h0m0 6h0m.1-9h0m0 10h0m0-5.5h0m0 .2h0m.1 1.5h0m0 .4h0m.1-7.6h0m0 6.5h0m0 2.1h0m.1 .8h0m0-.3h0m0-12.7h0m0 7.4h0m0 3h0m.1 6.3h0m0 .2h0m0-8.1h0m.1-1.6h0m0 4.4h0m0-7.2h0m0 12.6h0m0-17.1h0m.2 11.6h0m.1 1.2h0m0-2.1h0m0 1.3h0m.1 2.2h0m0 2.8h0m.1-14.9h0m.1 14.4h0m0-3.7h0m.1 2.8h0m0-3.8h0m0-8.5h0m.1 12.2h0m0-4.2h0m.1 .5h0m.1 3.2h0m.2-1.1h0m.1 .8h0m.2-1.7h0m.3 1.3h0m.1 1.3h0m.1-.6h0m0 1.7h0m0-2.3h0m.1 1.8h0m.1-.8h0m.2 .7h0m.1-1.6h0m.1 .1h0m.5-2.9h0m0 3.5h0m.2-4.7h0m0 3.5h0m0-8.7h0m.2 10.9h0m.1-4.1h0m0-5.1h0m.2 5.3h0m.3-6.1h0m0-2.8h0m.2 3.6h0m.1 7.3h0m0-3.4h0m.1-7.9h0m.1 4.6h0m0 2.4h0m.1 3.4h0m.1-2.8h0m0-8.1h0m0 7.7h0m.1-6.5h0m0 10.9h0m0-6.7h0m.1 4.4h0m0 4h0m.1-7.7h0m0 .7h0m0-5.3h0m0 1.9h0m0-.3h0m.1 5.4h0m0-2h0m0-3.8h0m.2 10.2h0m.1-.7h0m0-5.3h0m.2-2.1h0m0 2h0m.1-5.1h0m0-6.6h0m0 13.7h0m0-6.4h0m0 4.4h0m.1 7h0m0-.2h0m0-.7h0m.1-17.2h0m0 9h0m.1 9.1h0m0-6h0m.1-9.8h0m0 .8h0m.1 3.8h0m0 8.2h0m0 1.1h0m.1-2.6h0m.1-2.9h0m0-7.4h0m.1 3.4h0m0-4.1h0m.1 15.2h0m.1-5.3h0m0 2.9h0m0-5.8h0m0-4.3h0m0 1.2h0m0 9.4h0m.1 1.6h0m.1-1.2h0m.2 1.5h0m0-3.3h0m.1-5h0m.1 2.8h0m0-2.2h0m0-9.3h0m0 12.3h0m.1-10h0m.1 2.5h0m.2-.5h0m0 .9h0m0 9.5h0m0-2.1h0m.1-7.3h0m0 7.4h0m.1 5h0m.1-.6h0m0-1h0m0-2h0m.1 .8h0m0 1.8h0m.1-4h0m0 5h0m.2-20.1h0m.1-3.2h0m.1 16h0m0-17.9h0m0 10.4h0m.1 6.4h0m.1-7.3h0m0 11.8h0m.1-21.5h0m0 18.4h0m0-20h0m0 23.6h0m0-2.3h0m.1 .2h0m0-2.4h0m.1-14.4h0m0 20.2h0m0-26.5h0m0 16.3h0m.1-18.1h0m0 24.5h0m0-14.2h0m0 14.1h0m.1-2.5h0m0-15.4h0m0 16.6h0m0-4.2h0m0 2.7h0m.1-17.1h0m0 23.2h0m0 1.6h0m0 .5h0m0-7.2h0m.1-10.5h0m0 6.6h0m.1-13.3h0m0 10.9h0m0 13.6h0m0-28.2h0m0 20.4h0m.1 7.7h0m0-13.1h0m0 14.4h0m0-12h0m.1 5.5h0m0-9.2h0m.1 11.4h0m0 2.5h0m0-23.7h0m0 17.1h0m.1 1.6h0m0-6.2h0m.1 11.1h0m0-2.6h0m0 1.8h0m.1-3.8h0m.1 5.4h0m0-3h0m0-5.3h0m0 6.9h0m.1-8.1h0m0 5h0m.1-7h0m0 5.8h0m.1 5.6h0m0-2.7h0m0 .1h0m.1 1.8h0m.1-6h0m.1 1.9h0m.1 .5h0m.1 3h0m.1-1.4h0m0 .6h0m.3-.8h0m0-1.1h0m.1 1.8h0m.2-.2h0m.2-.7h0m0 2.9h0m.1-.1h0m0-5h0m.1 4.1h0m.4 2.3h0m.1-9h0m.1-.3h0m0 4.1h0m.1-.5h0m.1-1.3h0m.1 4.7h0m.3-6.7h0m.1 4.5h0m.1-3.3h0m0 0h0m.1 5h0m.1-2.1h0m.1 4h0m.1-6.9h0m0 5.4h0m.2-12h0m0 2.9h0m.1 3.4h0m.2 7.6h0m0-3.9h0m0-9.5h0m0 9h0m.2 4.9h0m0-.3h0m0-12.7h0m.1-2.1h0m0 4.1h0m0 1.2h0m0 7h0m0 2.8h0m0-1h0m0-4.2h0m0-.8h0m.1-9.7h0m0 9h0m0 3.8h0m0-.2h0m.1-7.1h0m0 4.9h0m0-6h0m0 5.7h0m.1 1.2h0m0-6.8h0m0-10.1h0m0 11.2h0m0-12.2h0m0 14.7h0m.1 6.4h0m0-.9h0m0-.9h0m0-8h0m.1-1.9h0m0-6.8h0m.1 19h0m0-9.9h0m0-4.4h0m.1 4.1h0m0-6.7h0m0-14.3h0m.1 19.3h0m0 9.6h0m0-15.9h0m0 8.3h0m0 4.3h0m0-18.6h0m0 9.3h0m0 11.2h0m.1-34.6h0m0 15.5h0m0-6.2h0m0 12.3h0m0-12h0m0 23.9h0m0-10.6h0m0 8.2h0m0-11.2h0m.1-10.7h0m0 2.5h0m0 9.7h0m0-16h0m0 27.4h0m0-13.8h0m0 10.9h0m0 4.2h0m.1-.8h0m0-30.5h0m0 1h0m0 16.6h0m0-4.5h0m0 13.5h0m0-7.3h0m0-1.5h0m.1 3.1h0m0 11.7h0m0-4.6h0m0-34.3h0m0 31.2h0m0-4.5h0m.1-3.2h0m0 4.1h0m0 3.2h0m0-29.6h0m0 20.4h0m0 7.9h0m0-23.4h0m.1 34h0m0-25.6h0m0-1h0m0-5.4h0m.1-5h0m0 26.7h0m0-10.6h0m.2 9.9h0m0-22.5h0m.1 3.9h0m0 2.1h0m0 29.8h0m0-5.3h0m0-28.1h0m.1 21.7h0m0 10.4h0m.2-9h0m.2 .1h0m0-1.6h0m0 3.3h0m.3 5.3h0m.2 2.6h0m0-6.5h0m0-1.1h0m.3 5.4h0m0 1.9h0m0-7.4h0m.1 .5h0m.1 1h0m0 2.6h0m.4-2.1h0m.2 2.9h0m0-2.2h0m0 5h0m.3-3.6h0m0 3h0m.2-.1h0m.2-.1h0m0-2.5h0m.3 .4h0m.1 1.5h0m0 1.6h0m.1-2.7h0m.1 .2h0m.1-7.2h0m.1 7.9h0m0-1.2h0m.2-7.1h0m0 9.2h0m0-6.2h0m.1 5.8h0m0-10.6h0m0 8h0m0 3.6h0m.1 .1h0m0-2.6h0m.1 2.1h0m.2 .4h0m0-5.5h0m.1-2h0m.2 7.4h0m0-.1h0m.1-1.6h0m.1 2.1h0m0-.1h0m.1-4.8h0m0 4.6h0m.1 .4h0m.1-6.2h0m0 1.9h0m0 3.6h0m.1-.9h0m0-1.4h0m.1 2.5h0m.2-5.4h0m.1 5.9h0m.1-6.1h0m.1 3.8h0m.1 1.6h0m.4-3.9h0m0 4.2h0m.1-4.6h0m0 2.6h0m.3-3.4h0m.1-1.5h0m0 7.4h0m.1-4.8h0m0-.7h0m.1 4.3h0m.3 1.4h0m0-1.2h0m.2 1.4h0m0-2.1h0m.1-.4h0m.1 1h0m.3-.7h0m0-.5h0m.3 1.1h0m.1-.2h0m.1-.7h0m.1 .6h0m.1-1.4h0m.1 .3h0m.2 2.3h0m.1-.1h0m0-2.2h0m.1 .2h0m0 .8h0m0-.2h0m.1-1h0m.1 .2h0m.1 .6h0m0-.4h0m.1 1.1h0m.1-5.3h0m0 5.5h0m.1-1.1h0m0 .5h0m0 .9h0m.1 .1h0m.1-.8h0m0-6.4h0m0 7.8h0m.2-.9h0m.1-.3h0m.1 .7h0m.1 .9h0m0 .1h0m0-1.6h0m.1 1.6h0m.1-2.2h0m0-2.8h0m0 5.1h0m.2-.2h0m0-1.2h0m.1-6.6h0m0-1.2h0m0 9.3h0m0-1.2h0m0-2.5h0m.1 2.7h0m0-3.4h0m0-2.5h0m0-15.5h0m.1 13h0m0-13.8h0m0 21.8h0m0-22.3h0m0 4.2h0m0 18.8h0m.1-13.7h0m0-14.7h0m0 5.7h0m0 7.4h0m0-12.1h0m.1 18.3h0m0-.8h0m0 2.7h0m0 4.8h0m.1 2.3h0m.1-17.8h0m0 17.6h0m0-22.7h0m0 7.7h0m0 11.3h0m.1-2.8h0m0 7.3h0m0-11.3h0m0 10.5h0m0-8.2h0m0-13.9h0m.1 15.3h0m0 6.7h0m0-11.1h0m0 7.3h0m0-3.8h0m0 2.9h0m0-5.9h0m0 9.4h0m.1-.5h0m0 2.4h0m0-2.1h0m0-3.4h0m0 2.6h0m0-23.8h0m0 18h0m.1-17.1h0m0 17.9h0m0-6.4h0m0-12.9h0m0 18.3h0m0 4.6h0m0-27.1h0m.1 31h0m0-3.9h0m0-20.7h0m0 19.4h0m0 1.1h0m0-.3h0m0-2.7h0m0 1h0m0-15.1h0m0 9.6h0m0 9.9h0m0-6.8h0m.1-9.8h0m0 10.1h0m0-8.7h0m0 12.1h0m0-7.2h0m0 .3h0m0 11h0m0-12.7h0m0 7.6h0m0-3h0m0-3.8h0m0 3.5h0m0-8.8h0m.1 18h0m0-22.9h0m0 14.9h0m0-.8h0m0-.2h0m0-2.4h0m0-8h0m.1-7.1h0m0 15.1h0m0 3.3h0m0 7.6h0m0 .6h0m.1-17.6h0m0 13.9h0m0 0h0m0-9.2h0m0 3h0m0-.8h0m.1 1.2h0m0 9.8h0m.1-1.6h0m0-2h0m0-3.1h0m.1 6.7h0m0-4.5h0m0 4.5h0m0-10.6h0m.1 10.2h0m0-1.6h0m0-1.7h0m0-6.8h0m0 .3h0m0-4.2h0m0 12.6h0m.1 2h0m0-8.9h0m0-7.2h0m0 14h0m0-5h0m0 .5h0m.1 5.3h0m0 .7h0m0-10.1h0m0 10.3h0m0-3.5h0m.1 .1h0m.2 .4h0m.1 1.1h0m.1 .8h0m.1-.6h0m.1-.3h0m0 .8h0m.1-.5h0m.1-.5h0m.1 2h0m.1-1.7h0m0-.9h0m.1 2.8h0m0-4.2h0m.3 3.7h0m0-4.1h0m.1 3.2h0m0 1.1h0m0-1.5h0m0 .8h0m.2 .3h0m.1-9h0m0 2.9h0m.1 7h0m.1-5.1h0m.2 2.9h0m.1-6.6h0m.1 8.5h0m0-7.6h0m.1 4.3h0m.2 .8h0m0-7.5h0m.1 5h0m.3 0h0m.1-5.9h0m.2 3.2h0m0 2.8h0m.1-3h0m.1 5.1h0m.1-1.9h0m.3-.1h0m0 .7h0m0-4.8h0m0 4.6h0m.1-6.2h0m0 6.4h0m.1 1.8h0m0 .3h0m0-7.7h0m.2 8.8h0m0-8.5h0m0 3.6h0m.1 3.7h0m0-3h0m.2-3.4h0m0 7.9h0m0-1.3h0m0-10.4h0m.2 7.4h0m0-1.3h0m.2 3h0m0-.8h0m.1-3h0m0 6.8h0m.1-4.4h0m.1 1.7h0m.1 1.3h0m.1-4.8h0m.2 3.8h0m.1-1.8h0m.1 3.5h0m.1-.8h0m0-5h0m.1-2.1h0m0 8.2h0m0-.5h0m.1-3.8h0m.1-1.3h0m.1 .1h0m0 2.5h0m.1-5h0m.1 2.3h0m0 4.8h0m.2-.8h0m0 2h0m0-5.2h0m.1-.1h0m.4-6h0m.1 7.2h0m0 1.3h0m.1-11.4h0m0 3.8h0m0 5.5h0m.2-2h0m0 4.9h0m0-.5h0m.1-10.8h0m0 9.4h0m0-13.1h0m0 13.7h0m.1-2.2h0m0-4.9h0m.1 8.6h0m0 .3h0m.1-.3h0m0-5.2h0m0 6.4h0m.1-17.7h0m0 19.1h0m0-10.5h0m.1 1.6h0m.1 7.1h0m.1-.4h0m.1-.2h0m.2 .5h0m0 .4h0m.2-.1h0m.1 0h0m.2-.4h0m.1-.5h0m0 1.2h0m.1 .7h0m.3-.5h0m0-.6h0m0 .9h0m.1 .5h0m.1-1.5h0m.1 .1h0m.4 .5h0m.1-.6h0m.1 1.3h0m0-.4h0m.1 .1h0m.2-.9h0m0 1.1h0m.5-.8h0m0-1.2h0m.1-.6h0m.1 0h0m.1-1.6h0m.2 3.9h0m0-.3h0m0-3h0m.3-.4h0m0 2.2h0m0-2.3h0m.4 1.6h0m.2 2.3h0m0-2h0m.2 2.1h0m.1-2.3h0m.1 2h0m0-.9h0m0 1.9h0m0-1.2h0m0-.9h0m.2 1.9h0m.1-.2h0m.1-3.8h0m.1 3.2h0m0 .2h0m0-5.7h0m0 5.6h0m.1 0h0m0-4.6h0m.1-.6h0m0 5.9h0m0-2.3h0m.1-.7h0m0 2.5h0m.1-1.2h0m0 1.1h0m.1-2h0m0-3.5h0m0 .1h0m.1 5.3h0m.2-2.4h0m0-.1h0m.3 2.2h0m0-1.1h0m0 .3h0m.1-10.3h0m0 6.7h0m0-1.5h0m0-5.5h0m0 7.3h0m0-6.1h0m0-2h0m.1 8.7h0m.1 2.8h0m0-8.4h0m0 5.9h0m.1-4.1h0m0-.8h0m0 6.8h0m.1 2h0m0-3.8h0m0-1.1h0m0-5.6h0m0 2.9h0m.1 6.5h0m0-10.4h0m0 1.7h0m.1 .3h0m0 3.5h0m0 1.7h0m0-1.8h0m0-4.3h0m.1-1.6h0m0 1h0m.1-1.7h0m0 6.3h0m0 5.1h0m0-6.8h0m0 7.8h0m.1-22.8h0m0 20.6h0m0-1.1h0m0-3.4h0m.1 5.8h0m0 1.4h0m0-4.5h0m0-30.5h0m0-4h0m0 35.2h0m0-1.3h0m.1-.2h0m0-4.8h0m0-1.3h0m0-13.1h0m0 12.8h0m0 4.7h0m0 .4h0m.1-26.8h0m0 22.1h0m.1-15.1h0m0 2.8h0m0-14.3h0m0 35h0m0-4.6h0m0 .8h0m0-9.7h0m0-17.1h0m.1 21.1h0m0 12.3h0m0-6.6h0m0 3.5h0m0-36.1h0m0 9.4h0m.1 25h0m0-6.2h0m0-5.4h0m0 6.2h0m0-6h0m0 13.2h0m.1-2.3h0m0-4.3h0m0 2h0m0-37.1h0m0 38.9h0m.1 2.1h0m0-4.7h0m0-10.7h0m0-6.7h0m0 18.3h0m0 6h0m0-3.1h0m.1 2.5h0m0-5h0m0-.7h0m0-30.2h0m.1 35.7h0m0-7.4h0m0 5.4h0m0-29.3h0m0 27.8h0m0-3.1h0m.1 1.1h0m0 6.8h0m0-15.8h0m0 11.6h0m.1-17.2h0m0-6h0m0 23.5h0m0-7.6h0m0 8.2h0m0 1.1h0m.1-4.6h0m0-.3h0m0 4h0m.1 .5h0m0 1.9h0m0-1.4h0m.1-9.4h0m.1 10.8h0m0-.8h0m.1 1.5h0m.1 .8h0m0-1.8h0m0 .8h0m.1 .9h0m0-6.2h0m.1-1.1h0m0 1.2h0m0 6.6h0m.1-7.5h0m0-1.7h0m0 6h0m0 .5h0m.2-1.5h0m0 .3h0m.1 2.3h0m0-3h0m.1 2.7h0m.1-1.9h0m0 2.8h0m.1-3h0m0-1.5h0m.2 3h0m0-2.3h0m.1 .7h0m0-1.6h0m.1 1.4h0m.1 1.6h0m0 .8h0m0 2h0m.1-3.2h0m0-.7h0m0 1.7h0m0-5.8h0m0 4.9h0m0-.9h0m.1 3.7h0m.1-4h0m0-.2h0m.1 3.3h0m0 1.4h0m.1-5.5h0m.1 3.8h0m.1 .6h0m0-.7h0m0-.9h0m.1 2h0m.1 .2h0m0-.6h0m.2 .6h0m.1-.4h0m.3 .5h0m.1-1h0m0-5.2h0m0 5.6h0m.1-4.2h0m.1 .5h0m.1 3.1h0m.1-5.3h0m0 5.4h0m.1 .9h0m.2-.1h0m0 .1h0m0-.5h0m.1 .1h0m.1-.3h0m0-.3h0m.2 .1h0m.1 .2h0m.2 .9h0m.1-.1h0m.1-.2h0m.2-.6h0m0-2.3h0m.1 2.5h0m.3-1h0m.1-1.1h0m.1 1.2h0m0-2.1h0m.2 .7h0m.3-.5h0m.1 .3h0m0 1.2h0m.1-.9h0m0-.6h0m.1 2.6h0m.2 .4h0m.1-1.5h0m.1-.8h0m.1-4.1h0m0-2.3h0m0 8.9h0m.1-10.3h0m0 4.1h0m.1 6.2h0m0-.8h0m0-14h0m.1 14.2h0m0-.6h0m0-5.9h0m.1-1.7h0m0 8.1h0m.1-.4h0m.2-8.6h0m0 3.6h0m0 5.9h0m.2-.6h0m0 1.2h0m.1-1.4h0m0-3.1h0m.2-6.9h0m0-3.2h0m0 11h0m.1-9.2h0m0 1.3h0m0 9.1h0m.1-2.2h0m0-.7h0m.1 3.4h0m.2-.8h0m.2-.4h0m.1-1.1h0m.2 1.1h0m0 .1h0m0 .6h0m.2 2.5h0m.1-2.5h0m.1-.5h0m.1-1h0m.2 1.8h0m.1 1.7h0m0-1.1h0m0-.8h0m.1 1.6h0m.1-.1h0m.1 0h0m.1-1.4h0m0-.1h0m.3 1.5h0m.1-.5h0m.1 .7h0m.1 .6h0m0-2.5h0m.3 .5h0m.1 .1h0m.1-1.5h0m.2 1.6h0m.1-1h0m0-1.8h0m0 .9h0m0-3.7h0m.1 .8h0m0-2.9h0m.1-.2h0m0 4.4h0m.1-4h0m0 5.8h0m.1 1.7h0m0 .7h0m.1-3.4h0m.1-12.7h0m0 15.9h0m.1-1.9h0m0-3.1h0m0-5.4h0m0-.4h0m.2 9.1h0m.1-2.5h0m0 2.8h0m0-12.7h0m.1-.1h0m0 3.8h0m.1 3.5h0m0-1.9h0m0 .6h0m0 6.6h0m.1-1.9h0m0-2.4h0m.1 6.8h0m0-13.3h0m0 8h0m0 4.5h0m.1-1.7h0m.2-3h0m0-.1h0m.1 1.2h0m.3 2.2h0m.1-1.4h0m0-1.6h0m0 .6h0m.4-1.4h0m.2 4.1h0" stroke="#43a443" stroke-width="2.4" stroke-linecap="round" fill="none"/>
<path d="M35 162.7h0m.1 1h0m0-3.4h0m.1 15.1h0m0-1.3h0m0-.2h0m0 .6h0m.1-7.4h0m0 7.6h0m0-10.1h0m0 11.8h0m0-3.9h0m.1 1.9h0m0 1.8h0m.2-6.8h0m0-4.1h0m0-8h0m0-.6h0m.1 17.9h0m0-6.3h0m0 5.7h0m0-16.4h0m0 16.9h0m0-4.4h0m0-9.1h0m0 .3h0m0 .9h0m0-1.9h0m0-2.9h0m.1-8.3h0m0 5.6h0m0 4.2h0m0 2.2h0m0 2.6h0m0-5.3h0m0 17.4h0m0-19.1h0m0 15.2h0m0 2.3h0m0-4.8h0m0-15h0m0 8.9h0m0-5.3h0m.1 9.6h0m0 1.6h0m0-.4h0m0-7.6h0m0 15.1h0m0-8.2h0m0-11h0m0 16.4h0m0 1.7h0m0-12.8h0m.1 6.3h0m0-14.5h0m0-2.1h0m0 1.6h0m0 22.9h0m0-7.9h0m0-.8h0m0-15.9h0m0 13.9h0m0 9.8h0m0-2.5h0m0-12.1h0m0-4h0m.1 4.3h0m0 12.8h0m0-1.2h0m0 2.7h0m0-11h0m0 .1h0m0 10.7h0m0-10.8h0m0-2.6h0m0-8.7h0m0 13.1h0m0 4.3h0m.1-10.3h0m0-1.2h0m0 8.8h0m0 .6h0m0 5.8h0m0-8.7h0m0 5.7h0m.1-19.4h0m0 9h0m0 9.8h0m.1-.1h0m0-6.1h0m0 3.7h0m0 8.7h0m0-19.8h0m0 10.8h0m0 .4h0m0-8.9h0m0 3h0m.1-5.1h0m0 18.7h0m0-8h0m0 6.7h0m0-1.5h0m0 4.1h0m0-1.6h0m0-19.8h0m0 11.4h0m0 6.4h0m.1 .2h0m0-3.9h0m0 0h0m0-2.9h0m0 9.8h0m0-16h0m0 15.4h0m0-3.2h0m.1-5.4h0m0 9.3h0m0-2.9h0m0-16.6h0m0 8.6h0m.1-10.6h0m0 20.6h0m0-9.4h0m0 10.3h0m.1-16.6h0m.1 7.8h0m0 .8h0m0 1.3h0m0 5.3h0m0-2.1h0m.1 3.1h0m0-7.8h0m0 1.1h0m0-1.2h0m0-16.5h0m0 10.6h0m.1 14.3h0m0-2.8h0m0-.7h0m0 .6h0m0-13.7h0m0 11.7h0m.1-3.7h0m0-9.6h0m0-3.5h0m0 19h0m0-15.8h0m0-1.5h0m0 7.1h0m.1 1.8h0m0 6h0m0-8.6h0m0-9.9h0m0 5.4h0m0 3.8h0m0 13.2h0m.1-2.4h0m0 .6h0m.1 .6h0m.1-4.7h0m0 4.2h0m0-2.1h0m.1 3.9h0m0-6.7h0m.1-3.9h0m0 6.3h0m0 3.2h0m0-10.3h0m.1 11.5h0m0-12h0m0 .6h0m0 4.5h0m.1 5.5h0m0 .2h0m0-15.1h0m0 4.2h0m0-1.8h0m0 9.4h0m0 5.9h0m0-18h0m.1 1.8h0m0 11h0m0-13.1h0m0 7.5h0m0 4h0m0 .2h0m0 2.9h0m0-4.8h0m0-9.4h0m.1 5h0m0 .2h0m0 2h0m0 10.1h0m0-14.6h0m0 9.6h0m0-10.4h0m0 9.3h0m0 5.2h0m0 .6h0m0-7.7h0m.1 1.8h0m0-13.1h0m0 18.6h0m0-8.1h0m0-2.1h0m0-12.8h0m0 9.2h0m0-1.5h0m0 12.4h0m0-2.3h0m.1-15.6h0m0 19.7h0m0-4.5h0m0-4.8h0m0 6.7h0m0-3.7h0m0 6.8h0m0-9.4h0m.1-3.5h0m0-2.5h0m0 5.4h0m0 3.3h0m0 .3h0m0-11.3h0m0 17.8h0m0 .9h0m.1-8.2h0m0-2.5h0m0 8.9h0m0 2.2h0m0-.6h0m0-12.6h0m0-2.3h0m0 5.8h0m0-5.3h0m0 15.5h0m0-20.7h0m0 19.3h0m0-3.8h0m0 2.6h0m0-7.9h0m.1-.5h0m0 10.4h0m0-5.9h0m0-8.9h0m0 4.4h0m0-1.2h0m0 9h0m0-15.7h0m0 12.2h0m0 2.3h0m0 1.3h0m.1-1.1h0m0 2.4h0m0-2.6h0m0 3.5h0m0-8.9h0m0-13.4h0m0 17h0m0-9.7h0m.1-6.6h0m0 12.6h0m0-3.7h0m0 7.1h0m0 5.2h0m0-5.1h0m0-14.5h0m.1 6.3h0m0 11.9h0m0-12.7h0m0 6.6h0m.1-6.7h0m0 5h0m0-1.3h0m0-2.5h0m0 8.3h0m0-2.4h0m0 6.3h0m0-8.5h0m.1-4.8h0m0 4.6h0m0 0h0m0 4.2h0m.1-.3h0m0 2.7h0m0-9.3h0m0 3.7h0m0 6.1h0m0-9.8h0m0-10.1h0m0 9.9h0m0-.7h0m0 8.2h0m.1-7.7h0m0 6.9h0m0 6.7h0m0-5.7h0m0-3h0m0-2.2h0m0 6h0m.1-6.1h0m0 2.8h0m0-4.7h0m0 .6h0m0 5.3h0m0 6.7h0m.1-5.3h0m0-16.3h0m0 11h0m0-6.6h0m0 14.5h0m0-5.7h0m0 8.9h0m0-1h0m0-17.1h0m0 15h0m0-8.7h0m0 5.6h0m0-4.2h0m.1 4.3h0m0 .8h0m0 4.8h0m0-11.5h0m0 9.4h0m0-3h0m0-7.5h0m0 8.2h0m.1 3.7h0m0-1.7h0m0-6h0m0 8.2h0m0-12.4h0m0-7.6h0m0 14.2h0m0-13.9h0m0-2.9h0m0 17.2h0m0-7.5h0m0 10.9h0m.1 2.5h0m0-4.7h0m0 2.1h0m0-8.4h0m0 9.5h0m0-5.2h0m0-.2h0m0 5.8h0m.1-12.6h0m0 11.8h0m0-1.5h0m0 .5h0m0-3.3h0m0-.9h0m0 6.5h0m0 .7h0m.1-9.6h0m0 1h0m0-.1h0m0-7.4h0m.1 1.8h0m0 12h0m0 .4h0m0-.1h0m0-1.4h0m0-9.8h0m0 9h0m.1-7.6h0m0 10.9h0m0-3.4h0m0-11.2h0m.1 14.4h0m0-1h0m.2 1.2h0m0 1.2h0m0-2.3h0m.1-9.8h0m0 6.7h0m0 .4h0m0-1.3h0m.1 .2h0m0-10.2h0m0 16.4h0m.1-23.3h0m0 4h0m0 16.2h0m.1-11.6h0m0 6.8h0m0-7.9h0m.1 7.4h0m0 1.3h0m0 4.3h0m.1-.1h0m0 1.1h0m0-10.4h0m0 9h0m.1-12.4h0m0 13.8h0m0-.4h0m.1-2.1h0m0-2.8h0m.1 3.1h0m0-.4h0m0-3.2h0m0-5.5h0m.1 2.9h0m0 8.9h0m.1-.9h0m0-11.1h0m0 9.6h0m0-8.6h0m.1 7.8h0m.2 .9h0m.1 2.6h0m0-.2h0m.1-1.5h0m.3 1h0m.1 .5h0m.1-3h0m0-.1h0m0 0h0m0 3.3h0m.4 .3h0m0-1h0m.1-2h0m.2 2.4h0m.1-.8h0m.2-3.2h0m0-.2h0m0 .8h0m.2 1.3h0m.2 .1h0m0-.4h0m.1 3.4h0m.1-.9h0m.2-.7h0m.1 1.3h0m.3 .5h0m0-1.6h0m.1-.1h0m.1 .7h0m0-.6h0m.3 .5h0m.1-.6h0m.1 .2h0m.2 .5h0m0-.7h0m.1-1.1h0m0 .8h0m0 1.4h0m.1-1.2h0m.2-1.5h0m.1 1h0m.2-2h0m.1 2.1h0m.1-1h0m.3-.2h0m0 .9h0m.1-1.2h0m0 1.1h0m.1 2.3h0m0-3.5h0m.2 2.1h0m0 .5h0m.3-4.2h0m.3 .5h0m0 1h0m.1-.2h0m0-.3h0m0 3.3h0m0-4.5h0m.2 1.9h0m.3 1.2h0m0-1.3h0m0 3.3h0m.2 .1h0m0-3h0m0-.8h0m.1 3.3h0m.1-3.9h0m.1 1.9h0m0-.2h0m0-3h0m0 3.7h0m.1 2h0m0-.7h0m.2 1.2h0m.1-6.9h0m.1 5.6h0m0-1.5h0m0-5.1h0m.1-16.1h0m.1 16.3h0m0 7.7h0m.1-31h0m0 11.2h0m0-7.3h0m0 19.4h0m.1 6.4h0m0-1.9h0m.1-27h0m0-4.7h0m0 4.5h0m0 27.8h0m0-.1h0m.1-28.4h0m0 27.7h0m.1-30.3h0m0 28.5h0m.1-8h0m0 11.9h0m0-.5h0m0-6h0m.1 3.1h0m.1 2.7h0m0-4.9h0m0 4.3h0m0-2.5h0m.1 3.5h0m.2 1.3h0m0-.1h0m.1-.3h0m0-4.8h0m0-2.9h0m0 7.2h0m.1-9.4h0m.1 10h0m.1-2.1h0m.1-5.8h0m0 7.9h0m0-.3h0m0-9.3h0m.2 6.2h0m0 2.5h0m0 .5h0m.2-.1h0m0-9.4h0m0 4.2h0m.1 4.9h0m0-7.4h0m.1 2.6h0m0 5.6h0m.1-.4h0m.1 .3h0m0-6.4h0m0 6.6h0m.1-5.6h0m0 3.8h0m0-10.5h0m0 11.6h0m.1-10.7h0m0 1.6h0m0 5.6h0m.1 4.3h0m.1-1.8h0m.1-.6h0m0 1.5h0m0-1.6h0m0 2.5h0m0 .1h0m.1-1.2h0m0-11.3h0m.1 12.2h0m0-3.2h0m0 3.5h0m.1-8.6h0m.1 7h0m0-9.2h0m0 9.9h0m0-.8h0m0 .1h0m0 .3h0m.1-2.8h0m.1 2.2h0m0 .3h0m.1-3.5h0m0-6.4h0m.1 10.5h0m.2-7.4h0m0 7.7h0m0-7.6h0m.1 8h0m0-4.6h0m0 3.2h0m0 1.2h0m0-1h0m.1-2.8h0m.1-4.7h0m.1 7.9h0m0 .6h0m0 0h0m0-4.5h0m.1-4.7h0m0-1.3h0m0 6.1h0m0 4.4h0m0 .4h0m0-7.2h0m0 1.3h0m0-6.2h0m.1 11.8h0m0-5.4h0m0-6.3h0m0 11h0m.1-1h0m0 1.1h0m0 .3h0m0-.2h0m0-8.9h0m0 4.9h0m0-2.4h0m.1 5.9h0m0-4.9h0m0-.6h0m.1 2.2h0m0-6.1h0m.1 2.2h0m0 6.5h0m0 2.2h0m.1-.2h0m0-3.3h0m.1 3.5h0m0-.7h0m0-.9h0m0-.3h0m0-8.4h0m0 9.4h0m.1-5.1h0m0-6h0m.1 11.6h0m0-.8h0m0-1.3h0m.2 .8h0m.1 1.3h0m0-.6h0m.1-3.7h0m.3 2.8h0m.2-3.5h0m0 1.8h0m.1-3.9h0m.1-2.8h0m0 5.7h0m0-10.2h0m0 7.6h0m0-7h0m.1-9h0m0-4.2h0m0-.9h0m.1 19h0m0 5.3h0m0-12.8h0m.1-4.4h0m0 16.9h0m0 .2h0m0-.1h0m0-4.7h0m.1-28.8h0m0 35.3h0m0-11.1h0m.2 8.5h0m.1-11h0m0 10.4h0m0-11.4h0m0-17.8h0m0 29.4h0m0-10.7h0m.1-4.7h0m0 17.1h0m0 .9h0m0-4.8h0m0 2.6h0m.1-9.5h0m0 9.3h0m.2 2h0m0-2.5h0m.1 1.7h0m0 1.1h0m.1-.4h0m0-4.8h0m.1 2.9h0m.1 1h0m0 3.3h0m0-3.7h0m0 2.9h0m.1-9h0m0 5.2h0m.1 5h0m0-3.8h0m.1-5.7h0m0 8.9h0m.2-1.1h0m.1-2.4h0m.2 .2h0m0 .6h0m.3 2.2h0m.1 0h0m.1 1h0m.2 0h0m.1 .3h0m.1-.2h0m.1 0h0m.1 .1h0m.1-.2h0m0 .4h0m.1-.2h0m.1-.1h0m0 .5h0m.1 .1h0m.1-3.2h0m0 2.2h0m.1-1.2h0m.2 .3h0m.2-3.4h0m.1 1h0m.1 .8h0m0 2.1h0m.1-.7h0m.2-.1h0m.1-2.4h0m0 2.1h0m.2-2.3h0m.2 1.2h0m.2-.3h0m.2 1.8h0m0-.7h0m.1-2.4h0m0-.2h0m.3 1.8h0m0 .6h0m0-2.3h0m.1 3.1h0m.2-3.3h0m.1 2.1h0m.1-.6h0m.2-.8h0m0 3.1h0m.3-2.5h0m0 1.8h0m.1-.9h0m0 1h0m0-.2h0m.1-5.7h0m0-.3h0m.1 5.8h0m.3 0h0m.1-7.9h0m0 5.8h0m.1 4.2h0m0-.7h0m0 1.3h0m.3-1.8h0m.1-.3h0m0 .7h0m.2-.6h0m0 .3h0m0 .6h0m.1 .5h0m0-.7h0m0-1.3h0m.3 1.3h0m.1-.9h0m0 0h0m.3 .1h0m0 .6h0m.3-1.2h0m0 1h0m.1 .3h0m.1 .4h0m.3-1.7h0m0 1.5h0m0 .2h0m.1-.6h0m.1 .8h0m.1-.1h0m.3 .7h0m.2 .2h0m0-.5h0m0 .2h0m.2 0h0m0-.3h0m.1 .6h0m.1-.5h0m.1 .3h0m.1-.1h0m.2 .2h0m.2-.2h0m.1 .3h0m.1-.5h0m.1 .1h0m0 .2h0m.1 .3h0m.2-.5h0m.2-.1h0m0 .1h0m0 0h0m0 .2h0m.3 0h0m.1-.2h0m.2-.1h0m.1 0h0m0-.3h0m.2 .4h0m.2-1.8h0m.1 .7h0m0 .6h0m0-.6h0m.2-1h0m.2-15.2h0m0 15.5h0m0-.3h0m0 1.5h0m0-19.5h0m0 2.2h0m0 9.8h0m.1 6.7h0m0-.9h0m0-6.4h0m.1 6.1h0m0-18.1h0m.1 4.3h0m.2 13.9h0m0-11.6h0m.1 2.1h0m0 10.2h0m.1 .8h0m.2 .1h0m0 .1h0m.1-1.4h0m0 1.6h0m.2 .9h0m.2-.2h0m0-.4h0m.4-.3h0m0 .7h0m.1-.6h0m0 .5h0m.1 .5h0m.1-.7h0m.1-.1h0m.2 .2h0m.1 .2h0m.1-.2h0m.2-.1h0m.1 .6h0m.1-1h0m.1 .7h0m.1-.5h0m.1-.4h0m.1 .1h0m.1-.2h0m.1-.1h0m.1 .6h0m.1-.6h0m.1 .5h0m0-.5h0m.3 1.3h0m.1-1.4h0m.1 1.3h0m.1-1h0m0 .5h0m0 0h0m0-4.2h0m.1 1h0m0 3h0m0 .7h0m.1-.8h0m0-4.3h0m.1 3.3h0m.1 .7h0m0 .7h0m0-15.9h0m0 10.5h0m0 5.6h0m.1-12.1h0m0 11.6h0m0-5.4h0m0 1.8h0m0-14.3h0m0 7.3h0m.2-1h0m0 5h0m.2 4.1h0m0 1.9h0m0 .1h0m0-.2h0m0 1.4h0m.2-1h0m0-2.7h0m0 2.6h0m0-13.9h0m.1 4.7h0m0 9.6h0m0-.3h0m0-2.4h0m.1-15.2h0m.1 2.7h0m0 14.9h0m.1 1.4h0m0-16.3h0m0 14.2h0m0-10.8h0m.1 2h0m0 10.4h0m0-.1h0m0-13.3h0m0 12.4h0m.1 .7h0m.2-2.5h0m0 2.2h0m0-.9h0m0 1.8h0m.1-3h0m0-3.3h0m0 6.4h0m0-.1h0m.1-.5h0m0-1.9h0m.1 1.4h0m0-10.7h0m.2-1.9h0m.1 12.6h0m0 .7h0m0-9.1h0m0 4.4h0m0-.9h0m0-.3h0m.1-9.6h0m0 15.2h0m0-7.1h0m.1 7.3h0m.1-3.1h0m0-5.6h0m0 4.9h0m0 2.2h0m.1-5.5h0m0 6h0m0 .1h0m0-8.5h0m.1 9.2h0m0-2.4h0m0 1.1h0m0-10.6h0m.1 10.3h0m0-12.5h0m0 11.9h0m0-3.9h0m0-4.9h0m.1 10.7h0m0-1.9h0m.1-2.5h0m0 1.5h0m.1-7.5h0m.1 2.1h0m.1-5.5h0m0 14.1h0m0 .7h0m0 .1h0m.1-6.1h0m0 .4h0m.1 4.1h0m0-1.4h0m0-10.3h0m0 7.7h0m.1-.7h0m0 5.7h0m0-2.5h0m0 2.2h0m.1-10.5h0m0 3.7h0m0-.5h0m.1 7.2h0m0-.2h0m0-5h0m0-2.5h0m.1 .9h0m0 6.2h0m.1-10h0m0 4.5h0m.1 4.4h0m0 1.4h0m.1-8.6h0m0 7.7h0m.2 .5h0m0-5h0m0-2h0m0 2.4h0m.1 3.9h0m0 0h0m0 .1h0m.2-6.8h0m0 7.7h0m.1-1.6h0m0 .5h0m.1-2.3h0m0-1.8h0m0 4.5h0m.1 .7h0m.1-1.3h0m0 2h0m0 .3h0m.1-5.9h0m.1-1.2h0m.1-1.3h0m0 7.5h0m0-1.5h0m.1-1.8h0m0 3.2h0m.1-2.8h0m0 2.4h0m0-3h0m.1 2h0m0-3.5h0m0 4.6h0m.1 1h0m0-2.7h0m.1-2.8h0m0 1.8h0m0-.5h0m.1 2.3h0m0-4.4h0m.2 4.4h0m0-3h0m0 5h0m0-2.9h0m.1 .8h0m.2-2.2h0m0-.8h0m.2-1h0m.2 1.8h0m0 2.4h0m.1 .1h0m0-.6h0m.1-2.3h0m.1 2h0m.1-2.8h0m.2 3.2h0m.1 2.5h0m0-3h0m.1 2.3h0m0-1.9h0m.3 .6h0m0 .2h0m0-1h0m.3-1.4h0m0 2.1h0m.1-1h0m0 2h0m0-3.7h0m0 2.3h0m0 1.1h0m.2-3.9h0m0 3.1h0m.2-.3h0m0-.4h0m0 1.4h0m.1-2.5h0m.1 2.3h0m.1-4.8h0m.1 2.6h0m.3 1.4h0m0-1h0m.3 3.2h0m.1-3.4h0m0 2.2h0m.1 .4h0m.1-2.7h0m.2 2.8h0m0 .6h0m.1-1.3h0m0 .1h0m.2-.9h0m.2-.8h0m.1 2.2h0m.1 0h0m0-1.9h0m.1 .8h0m.3 .8h0m.1 1.2h0m0-1.4h0m.3-.2h0m0-.6h0m.1-.6h0m0-.2h0m0 1.1h0m.1 .1h0m.1-1.1h0m.2 1.6h0m.1-1.2h0m.3-11.3h0m.1 12.5h0m0-.6h0m.1-3.1h0m0 2.5h0m0-.8h0m.1 1.2h0m0-12.4h0m0 14.7h0m.1-.6h0m0-5.2h0m.1 3.9h0m0-45h0m0 45.1h0m.1-61.4h0m0-34.2h0m0 90.1h0m0-63.7h0m0 20.4h0m0 38.1h0m.1-46.5h0m0-35.2h0m0 84.4h0m0 6h0m0 2.1h0m0-76.6h0m0 12h0m0 64.5h0m.1-83.6h0m0 33.4h0m0 36h0m0-86.6h0m0 98.3h0m0-79.6h0m0-13.2h0m0 96.2h0m0-87.1h0m.1-5.7h0m0 80.2h0m0 2.3h0m0-44.7h0m.1 40.1h0m0-83h0m0 6.6h0m0 79.1h0m0 1h0m0-5.3h0m0-106.2h0m0 2.5h0m0 2.1h0m0 11.2h0m0 52.7h0m0 29h0m.1 16h0m0 7h0m0-98.4h0m0 100.5h0m.1-.3h0m0 1.5h0m0-1.8h0m0-96.6h0m0 15.5h0m0-12.3h0m0 2.3h0m0 2h0m0 51.9h0m0-41.4h0m.1 2.3h0m0 12.7h0m0-77.2h0m0 9h0m0 131.1h0m0-46.3h0m.1 48.9h0m0-2.7h0m0-92.2h0m0 15h0m.1 27h0m0-28.2h0m0 49.5h0m0-16.6h0m.1 47.1h0m0-1.4h0m0 2.2h0m.2-113.4h0m.1 113.5h0m.1-.6h0m.2-.9h0m.1-.4h0m0 1.4h0m.2-.1h0m0-.4h0m.1-.5h0m.2 1.1h0m.1-.2h0m0 .7h0m.1-.8h0m.3-.3h0m.1-.4h0m.1 .9h0m.1-.8h0m.2 .2h0m.1-.7h0m.1 1.4h0m0 .4h0m0-1.4h0m.1-1.4h0m.1-1.8h0m.2-.6h0m0 2.7h0m.1-4h0m.2 4.8h0m0-3.1h0m.4-1.1h0m0 1.6h0m.1 3.8h0m0-5.2h0m0 1.1h0m.3 1.2h0m.1-1.7h0m0-.2h0m.3-.4h0m0-.6h0m.2 2.2h0m.1-3.8h0m.1 2.9h0m.3 2.1h0m0-4h0m0 .9h0m0 1.4h0m0-1.1h0m.1 1.5h0m.2-1.8h0m0 5.3h0m0-10.6h0m.1 4.5h0m0-.2h0m.1 2.4h0m.1 .5h0m0-3h0m.1 5.5h0m0-2.1h0m.1 2h0m.1-1.6h0m.1 1.4h0m.1-1h0m.1 1.4h0m.2-1.5h0m.1 .3h0m.1 1.2h0m.1-1.4h0m.1-.2h0m.2 .9h0m0-.1h0m.2-7.7h0m0-9h0m0 17.4h0m.1-.5h0m0-7.9h0m0 8.6h0m0-6.5h0m.1 3.6h0m0-11.4h0m0-5.9h0m0 20.5h0m.1-7.1h0m0-2.3h0m0-20.5h0m.1 30.3h0m0 .2h0m0-31.1h0m.1 31.4h0m0-20.8h0m0-.2h0m.1-7.9h0m0 17.9h0m0-13.5h0m0 18.7h0m0 5.6h0m0 .4h0m0-24.8h0m.1 12.5h0m0 12.2h0m0-23.3h0m0 22h0m.1-31.2h0m0 1.1h0m0 17.5h0m.1-5h0m0-7.5h0m0 9.7h0m0 2.6h0m.1 13.2h0m0-26.5h0m0 19.4h0m.1-17.7h0m0 23h0m0-4.9h0m0-2.6h0m.1 9.4h0m0-22.5h0m0 23.4h0m.2-1.6h0m.2 .6h0m.1 .2h0m0 .4h0m.1 0h0m.3 0h0m0-.2h0m.1 .3h0m0 .2h0m.2-.1h0m0 .2h0m.1-.1h0m.2 .4h0m.3-.2h0m0-.5h0m0 0h0m.1 .3h0m0-.1h0m.2 .1h0m0 .4h0m.3-.1h0m.2 .1h0m0-.5h0m0 .2h0m.2-.2h0m.2 .3h0m.1-.1h0m.2 .2h0m0-.2h0m.1-.2h0m.1 .1h0m.2 .2h0m0 .1h0m.1 0h0m.1 .1h0m.1-.3h0m.1 .2h0m0-.2h0m.1-.1h0m.1 .1h0m.3-.4h0m0 .6h0m.1-.1h0m.2-.4h0m0 .2h0m.3 0h0m0 0h0m.1 0h0m.2 0h0m0 .3h0m.1-.4h0m.1-3.7h0m0 4.1h0m.1-.2h0m.1 .3h0m.1-.2h0m0-.1h0m0-3.4h0m.4 3.8h0m.1-.2h0m.1-.2h0m.1 0h0m.2 0h0m.2-.3h0m.1-.4h0m0 .8h0m.1 0h0m.1-.7h0m0-.1h0m.2-1h0m0 .8h0m.1-.6h0m.1 .7h0m.3 .1h0m.1-.2h0m0 .5h0m.1-.2h0m.1 0h0m0-.7h0m0 1.1h0m.3-.2h0m.1-.2h0m.1 .5h0m.1-.5h0m0 .1h0m.3-.2h0m0 .1h0m.2 .6h0m.1-.2h0m.1 .1h0m.3-.3h0m.1 .4h0m.1-.2h0m0-.4h0m.1 .1h0m.1-1.1h0m.1-.1h0m.1-.5h0m.2 .1h0m.1 .8h0m0 0h0m.2 .5h0m.1-.8h0m.1 1.6h0m.1-1.3h0m.2 .8h0m.1-1.2h0m.1-.2h0m.1 1.4h0m0-.4h0m0 .4h0m.2-.1h0m.3 .6h0m.2-.4h0m0-.1h0m.1 .1h0m.1-4.3h0m0 4.4h0m.1-2.3h0m0 2.8h0m0-.7h0m.1 .5h0m0-.6h0m.2 .3h0m.1-1h0m.1-1.5h0m.1 1.8h0m.2-3.2h0m0 1.7h0m.1 0h0m0 2h0m0-.2h0m.1-2.1h0m.1 .2h0m.3 1.8h0m0-.6h0m.1-1.4h0m.1 .1h0m0-.3h0m.2 .5h0m.3 0h0m0 .3h0m0 2.3h0m.3-3.2h0m0 1.6h0m.1 0h0m.1-1.2h0m.2 1.8h0m.1-2.7h0m.2 2.6h0m.1-1.9h0m.1-.5h0m0-.9h0m0 2.6h0m.2-2.5h0m.1 .4h0m.2 2.2h0m0 .4h0m0 .6h0m.2 .1h0m.1-.2h0m.3 0h0m.2 .2h0m0 .1h0m.1 .1h0m0 .5h0m.1-.4h0m.1-.6h0m.2 .6h0m.1-.4h0m0-3.3h0m.2 3.6h0m.1 .2h0m0 .1h0m0-.8h0m.1-.4h0m.1 0h0m0 .7h0m0-3.8h0m.2-.2h0m0 4h0m.1-12.6h0m.1 11.8h0m0 1.7h0m.1-1.4h0m0-.9h0m.1-7.6h0m0 2.9h0m0-.6h0m.1 6.7h0m0-8.7h0m0 8.3h0m0-.4h0m0-9.1h0m0 5.1h0m.1 4.8h0m0-11.6h0m0 .8h0m.1-3.4h0m.1 10.5h0m0 3.7h0m.1 .2h0m0-9.5h0m.1-1.9h0m0 .1h0m0 3.9h0m.1-.2h0m0 6.7h0m0-6.4h0m0-.7h0m0 3h0m0 3.7h0m.1-10.6h0m0 8.7h0m0 .6h0m0-11.2h0m0-14.7h0m.1 23.3h0m0-1.6h0m0 .9h0m0-.7h0m0 7.2h0m0-32.1h0m0 29.4h0m0-1.4h0m0-3.2h0m0-36.8h0m0 39h0m0-1.5h0m0-9.1h0m0 9.4h0m0 0h0m.1-2h0m0-17.2h0m0-1.7h0m0 14.5h0m0 7.6h0m0 1.5h0m0-4.5h0m0-1.9h0m0 9.7h0m0-3h0m0-27h0m0 6.2h0m.1 16h0m0 3.9h0m0-26.6h0m0 18.2h0m0 1h0m0-14.5h0m0-11.3h0m0 30.7h0m0-30h0m0 32.3h0m0-8.6h0m0-10.3h0m.1 15.4h0m0 5.2h0m0-23.4h0m0 6.3h0m0-23.7h0m0 39.6h0m0-37.4h0m.1 40.6h0m0-7.6h0m0 7.9h0m0-8.2h0m0 .3h0m0 6.5h0m.1-11.5h0m0-2.6h0m0 14.1h0m0-45.2h0m0 44.5h0m0-41.9h0m.1 29.7h0m0 4.6h0m0 4h0m0 1.5h0m0-.6h0m.1-44.7h0m0 2.9h0m0 41.4h0m0-44.4h0m0 30.5h0m0 12.7h0m0-40.7h0m.1 19.4h0m0-34.7h0m0 60.9h0m0-4.4h0m0-4.6h0m0 4.4h0m0-18.1h0m0-5.2h0m.1-14.9h0m0 37.7h0m0-43.4h0m0 35.5h0m0 10.4h0m0 .6h0m.1-9h0m0-7.3h0m.1 12.6h0m0-8.9h0m0-10.6h0m0-14.4h0m0 34.3h0m0-41.9h0m0 39.4h0m0-27.7h0m0 29.2h0m0 2.7h0m0 3.3h0m0-8.3h0m.1-36.2h0m0 32.7h0m0 9.8h0m0-7.5h0m0-23.9h0m0-10.6h0m0 16.5h0m0-3.4h0m0 29h0m0-6.5h0m0-25.1h0m.1 19.1h0m0 11.6h0m0 2.9h0m0-39.2h0m.1 33.6h0m0-32.8h0m0 23.6h0m0-9.5h0m0 20.9h0m0-10.3h0m0 .9h0m0 12.7h0m0-2.6h0m0-15.9h0m0 15.2h0m0-5.9h0m.1-17.5h0m0 19.7h0m0-7h0m0 10.9h0m0 3.9h0m0-.3h0m0-4.9h0m.1-11.5h0m0 11.4h0m0 3.9h0m0 .4h0m.1 .3h0m0-5.7h0m0-2.6h0m0 4.8h0m0-3h0m.1 6.3h0m0-8.4h0m0-3.5h0m0 .5h0m0 3.9h0m0-2h0m.1-1.6h0m0 3.3h0m0-1.8h0m0 11.4h0m.1-9.9h0m0 2.7h0m0-4.2h0m0-4.2h0m0 6.6h0m0 6.1h0m0-11h0m0 11.6h0m.1-11h0m0 13.1h0m0-5.3h0m0-1.7h0m0 7.5h0m.1-1.1h0m0-9.4h0m0 4.1h0m0 5.3h0m0 .8h0m.1-4.7h0m0-9h0m0 12.7h0m.1-10.5h0m0-5.1h0m.1 13.7h0m0 1.4h0m.1-1h0m0-4.4h0m0 0h0m.2 5.4h0m.1-2.5h0m0 3.7h0m.2-.8h0m0 1.1h0m0-8.3h0m.1 2.6h0m.1-1.1h0m.1 1.2h0m.1-1.9h0m.1 5.7h0m.1-5.8h0m.1 2.8h0m.1-3.5h0m.1 4.8h0m.2-4.5h0m.2 3.4h0m.2 2h0m0 .6h0m.1-3.2h0m.2 4.6h0m0-.1h0m.1-2.7h0m0 2.4h0m0-.1h0m.1 .2h0m0-.9h0m.1-2.1h0m.1 .6h0m.1-.5h0m0 2.8h0m.1-.2h0m0-1.5h0m.1-2.4h0m0 5h0m.1-1.7h0m0-2.2h0m.1 3.1h0m0 .1h0m.1-2.8h0m0 .8h0m.1 3h0m0-.7h0m0-.5h0m0-2.6h0m.2 4h0m.1-1h0m0 1.1h0m.1-1h0m0 .2h0m.2 0h0m0 .3h0m.1-.4h0m.1 .2h0m.1 .5h0m.3-.4h0m0-.3h0m.1 .4h0m.1-.1h0m.2-.7h0m.1-2.1h0m0 1.8h0m.1-2.2h0m.1 .7h0m.2-.3h0m.2-.9h0m.2 .5h0m0 3.4h0m.2 .3h0m0-2.5h0m.3-1.9h0m0 1.5h0m0 2.1h0m0-12.5h0m.1 10.9h0m0-6.1h0m0 5.2h0m0 .7h0m.1-13h0m0 10.3h0m0-9.8h0m0 14.1h0m.1-12.3h0m0-4.5h0m0 15.4h0m0-15.2h0m.1 6.3h0m0-7.3h0m0-2.3h0m0 18.3h0m.1-1.5h0m0 2.8h0m0-2.5h0m.1-5h0m0 4.2h0m0 3.7h0m0-4.5h0m.1 3.9h0m0-1.3h0m.1-2.9h0m.1 .2h0m0-1.5h0m0 1.2h0m.1-.7h0m0 1.1h0m.1-.7h0m0 2.3h0m0 .3h0m.1-1.1h0m.1-.9h0m.1 4.9h0m.2-2.6h0m0-2.5h0m.1 2.1h0m0-.7h0m.1 1.8h0m.1 1.2h0m.1 .5h0m.3 0h0m.1-.3h0m.3 .3h0m0-.3h0m.1 .5h0m.1-.2h0m.1 .2h0m0-9h0m0 8.6h0m0-2.4h0m.1 2.1h0m.1-5.8h0m0 6.2h0m0-.6h0m.1-10.6h0m.1 10.9h0m.1 .3h0m.2-5.1h0m0 5.4h0m0-6.7h0m.1 .1h0m0 6.1h0m0 .2h0m0-17.7h0m.1 18.5h0m0-3.2h0m0-8.7h0m0 6.4h0m0 .2h0m.1-.9h0m0 6h0m0 .2h0m0-9.8h0m.1 1.9h0m.1 6.6h0m0 .8h0m0-1.8h0m0 1.6h0m0-9h0m0 .9h0m.1-1.7h0m.1 1h0m.1-4.2h0m.1 13.5h0m0 .1h0m0-5.1h0m.1 4.5h0m0-8.5h0m0-2.3h0m0 3.1h0m.1 8.4h0m0-9.2h0m0-4.8h0m0 13.3h0m.1 .2h0m0-3.2h0m0-11.8h0m0 15.6h0m.1-1.6h0m0-3h0m.1 4.4h0m0-.1h0m.1-.6h0m0-3h0m.1 2.3h0m0 0h0m.2 .8h0m0-.1h0m.1-.9h0m0 .7h0m0 0h0m0-6.8h0m.1 6.4h0m0 .7h0m0 .8h0m0-.8h0m.1-1.2h0m0-3.4h0m0 2.2h0m0 2.8h0m0 0h0m.1-2.3h0m0-8.9h0m0 4.5h0m0 2.7h0m0-7.1h0m0 10.3h0m0-2.8h0m.1-8.9h0m0 12.1h0m0-10.8h0m0-28.5h0m0 39.3h0m.1-2.6h0m0-20.7h0m0 22.8h0m.1-3.2h0m0 .4h0m0-33.6h0m0-7.7h0m0 9.8h0m0 33.5h0m0-15.6h0m0-21.9h0m0 25.3h0m0-8.4h0m0 18.2h0m0-4h0m0-.5h0m0 7.2h0m0-8.1h0m0 7.8h0m0 2h0m0-8.5h0m.1-11.6h0m0 19.7h0m0-3.1h0m0 .8h0m0-3.9h0m0-1.6h0m0 4.7h0m0-21.3h0m0-3.7h0m0 26.6h0m0-2.8h0m.1-1.7h0m0-2.9h0m0-15h0m0-11.9h0m0 27.1h0m0 1.6h0m0-16.8h0m0 23.2h0m.1-6.9h0m0-5.5h0m0 9.2h0m0-3.8h0m0-5.1h0m0 9.2h0m0-23.5h0m0 22.6h0m0-6.9h0m0 7.6h0m0 2.5h0m0-2.2h0m0 3.5h0m.1-36.2h0m0 33.4h0m0-15h0m0 13.7h0m0 1.9h0m0-3.2h0m.1-54h0m0 15.8h0m0 35.4h0m0 5.2h0m0-12.9h0m0 14.1h0m0-23.5h0m0-7.7h0m0-19.1h0m.1 49.2h0m0-12.2h0m0-38.7h0m0 50.9h0m0 1.5h0m0-59.4h0m0 6.5h0m.1 38.3h0m0 14h0m0 2.1h0m0-56h0m0 55.8h0m0-20.9h0m0-.5h0m0 13.8h0m0-7.4h0m0 9.2h0m.1-6.1h0m0 6.9h0m0-2.2h0m0-9.2h0m0 15.4h0m0-55.2h0m0 49.8h0m0-36.3h0m0 33.3h0m0-44.2h0m0 53.2h0m0-9.8h0m.1-9.8h0m0 6.4h0m0-27.4h0m0-.6h0m0 5.8h0m0 35h0m0-31.5h0m0 28.2h0m.1 1.1h0m0-12.3h0m0-32.6h0m0 43.6h0m0-5.2h0m0-3.6h0m0 4.6h0m0-25.9h0m0-10.3h0m.1 44.4h0m0-9.6h0m0-.6h0m0 1.2h0m0 1.9h0m0-2.3h0m.1 9.1h0m0-13.8h0m0 2.1h0m0-29.2h0m0 36.6h0m0-26.9h0m0 9.9h0m0 18.3h0m.1-22.4h0m0 4.7h0m0-17.8h0m0 5.2h0m0 18.4h0m0 10.1h0m0-1.8h0m0 2.5h0m0-5.1h0m0 1.9h0m0 4.5h0m.1-5.9h0m0-2h0m0 5.3h0m.1-7.5h0m0 6.4h0m.1 6.6h0m.1-6.7h0m.1-3.4h0m.1 9.3h0m0-9.6h0m0 10h0m0-2.8h0m.1-1.4h0m0 4.7h0m.2-1.1h0m0-1.3h0m0 2.4h0m0-2.5h0m.1-6.3h0m0 .3h0m.2 4.4h0m.1-3.2h0m0 3.6h0m0 .8h0m.1-.5h0m0 3.4h0m.1-.9h0m.1-1h0m.2 .9h0m0-1.2h0m.1 2.2h0m.1-2.8h0m.2 1.7h0m.1-1.7h0m.2 2.8h0m.1-1.7h0m.1 .6h0m.1 1.1h0m.1 .4h0m.1-.2h0m0-.2h0m.2 .9h0m.1-.9h0m0 .3h0m.3 .6h0m.1-.9h0m0-5.4h0m0 5.6h0m.1 .8h0m0-6.8h0m.1 6.1h0m.2 0h0m.1-.1h0m0 .4h0m0 .3h0m.1-4.1h0m0 2.8h0m.1 .4h0m0-.2h0m0 0h0m.2 .2h0m.1 .2h0m.1-.5h0m0 .6h0m.1 .4h0m.1-1.1h0m0-1.9h0m.1 2.6h0m.1-.4h0m.1 .2h0m0 0h0m.1-.2h0m.2-.1h0m0 .9h0m0-.7h0m.2 .4h0m.1 .2h0m0 0h0m.1-2.3h0m0 1.9h0m0-1.8h0m.1 1.9h0m.1 .4h0m0-.2h0m.1 .6h0m0-1.1h0m.2 0h0m.1 .6h0m.1 0h0m0-.4h0m.1-1h0m0 1.6h0m0-.6h0m.2 0h0m.1 .4h0m0-2.4h0m0 2h0m.2 .3h0m.1-1.4h0m0 1.8h0m.3 .1h0m0-4.1h0m0 3.2h0m0 0h0m.1-2.2h0m0-10.5h0m.1 12.8h0m0 .6h0m0-4.1h0m.1-6.4h0m0 .8h0m.2 2.8h0m0 6.4h0m0-7h0m.2 7.2h0m0-.2h0m0 .6h0m0-1.5h0m.2 .9h0m.1-.3h0m.1 .5h0m0-1.4h0m.3-2h0m.2 2.8h0m0-3h0m.1 3h0m.1-2.8h0m.1 .1h0m.3-1.1h0m0 2h0m.2-2.8h0m0 3h0m.1-.1h0m.2-1.4h0m0 3.6h0m.2 .3h0m.1-2.9h0m0 3.2h0m0-1h0m.1 1.1h0m.3-.4h0m0-.7h0m.1 .1h0m0 .4h0m.4 .1h0m0-.2h0m0-.3h0m.3-.6h0m.1 .8h0m.1-1.1h0m.3 .2h0m.1 .2h0m0-2.4h0m0 2.7h0m.1-2.2h0m.2 2.1h0m.1-.6h0m0 .2h0m.2-1.7h0m.1 2.1h0m.1-1.1h0m0-.7h0m0 0h0m.1-1.2h0m0 3.7h0m.1-2.1h0m.1 .4h0m.2-.4h0m0 2h0m.1-1.7h0m.2-.2h0m0 .8h0m.2-1.1h0m0-3.9h0m0 3.2h0m0-5.6h0m0 .9h0m.1 4.9h0m0-9.8h0m0 12.4h0m.1-10.2h0m0 9.4h0m.1-2.1h0m.1-2.8h0m0-2.5h0m0 8.1h0m0-1.4h0m.1-6.4h0m0 4.9h0m0 1.3h0m0-8.7h0m.1 8.2h0m0-.7h0m0-6.6h0m.1 8.7h0m0-3.2h0m0 1.5h0m.2 2.3h0m.2 0h0m.2-.9h0m0 .1h0m.1 .1h0m.1-.2h0m0 1h0m0-.7h0m0 1.3h0m.1-1.4h0m.1 1.1h0m0-7.6h0m0 6h0m.1 .9h0m.1-.3h0m.1 .1h0m0-6.5h0m0 6.3h0m0 1.7h0m.1-5.9h0m0 4.4h0m.1-5.9h0m0 .8h0m.1 4.8h0m0-1.7h0m0-1.8h0m0 3h0m.1-12.5h0m0 3.7h0m0 7.8h0m.1-.3h0m0-12.9h0m0 12.8h0m.1-11.8h0m0 1.1h0m0 9.2h0m0 2h0m0 1.3h0m.1-1.8h0m0 2.7h0m0-4h0m0-16.2h0m0 16.2h0m.1-11.1h0m0 11.5h0m0-.7h0m0-2.1h0m0 2.9h0m.1 2.4h0m0 .5h0m.1-2.8h0m.1 2.1h0m0-10.5h0m0 8.4h0m0 3.1h0m0-14.5h0m0 9.7h0m0-1.5h0m.1 1.2h0m0-12.1h0m0 11.6h0m0-1.6h0m.1 4.5h0m0-8.9h0m0 5.6h0m0-6.3h0m0-2.1h0m0 10.9h0m0-20.3h0m0 15.6h0m0 2.3h0m.1-13.9h0m0 20.4h0m0-8.6h0m0-17.1h0m.1 8.2h0m0 2.7h0m0 6.9h0m0 .8h0m0-4h0m.1 3.6h0m0 4.7h0m.1-.2h0m0-21h0m0 10.3h0m0-7.6h0m0 19.6h0m.1-.6h0m0-2.2h0m0 2.1h0m0-1.6h0m0-21.6h0m0 24.9h0m0-13.3h0m.1-3.5h0m0 15.8h0m0 .4h0m0-4.4h0m.1-8.7h0m0 7.8h0m0 6.2h0m0-6.3h0m.1-16.3h0m0 10.4h0m0 4h0m0-9h0m0 10.1h0m.1 6h0m0-2.8h0m0-3.8h0m0-16.5h0m0 12.1h0m0 .7h0m0 9.5h0m.1-1.9h0m0-4.5h0m0-4.3h0m0 6.8h0m0-21.4h0m0 24.8h0m.2-9.3h0m0 8.6h0m.1-9.4h0m0 7.4h0m0 4.6h0m0 .2h0m0-10.1h0m0 7.3h0m.1-5.8h0m0-2.6h0m0 11.5h0m0-11.4h0m0 11.7h0m0-.6h0m0-2.8h0m0 .7h0m.1-6h0m0 1.3h0m0-1.4h0m0 8.9h0m0-.5h0m0-8h0m0 1.2h0m.1-1.4h0m0-1.7h0m.1 8.1h0m0 1.5h0m.1-3.2h0m0 4h0m.1-4h0m0 1.4h0m0 2.1h0m0-7.1h0m.1 7.5h0m0-.2h0m0-8.8h0m0 3.6h0m0-4.5h0m.2 10.3h0m.3-3.5h0m0 .3h0m.1 1h0m.2 .9h0m.1-2.2h0m.2-1h0m0 .6h0m.2 1.6h0m.1-3.3h0m0-.2h0m0 5.2h0m.2-3.3h0m0 2.1h0m.3-2.7h0m.1 2.7h0m.1-.1h0m0 1h0m0-1.4h0m.1 2.3h0m.1 .2h0m0-.8h0m.1-2.1h0m.1 2.1h0m0 .3h0m.1-.9h0m.1-1.8h0m0 2.7h0m.1 .4h0m0-.3h0m0-.3h0m.1 .1h0m0-.6h0m0 .2h0m0-.8h0m.2 .7h0m0 .1h0m.1-1.6h0m0-.2h0m.1 2.9h0m0-.1h0m.3-1.2h0m.2-1.9h0m0 .7h0m0-1h0m.1 2.9h0m.1-1h0m.2-1.6h0m.1 1.2h0m0-1.3h0m.3 1.2h0m.1-1h0m.1 1h0m.1 .1h0m.1 .3h0m.1-.9h0m.2 1.3h0m.1-.3h0m.1-.1h0m.2-.1h0m.1 .3h0m.1 .7h0m.1-.6h0m0-.4h0m0 .4h0m.2 0h0m0-.1h0m.1-.3h0m.4 .8h0m0 .3h0m0 .1h0m0-1.3h0m.1 0h0m.4 .2h0m.1 .3h0m.1 .1h0m0 0h0m.2-.3h0m.1 .2h0m.3-.4h0m0 .6h0m0 .8h0m.1-.4h0m0-1.6h0m.1 1.2h0m.2-4.9h0m.1 4.5h0m.1-6.4h0m0 3.7h0m.1 2.2h0m.1-1.6h0m0 1h0m.1-2.9h0m.1-2.1h0m0-1.3h0m0 .2h0m0 2.6h0m0-1.6h0m.3-1.8h0m0 .9h0m.1 4.4h0m0-.7h0m.1 .4h0m.1-.5h0m0-.7h0m0-1.4h0m0-1.6h0m0 4h0m.1-2h0m0 6h0m.2-6.4h0m.1 3.9h0m0 1h0m.1-1.6h0m.1-4.3h0m0 3.3h0m.1-.7h0m0-2.2h0m.1 7.3h0m0-8.1h0m0 7.2h0m.2-6.3h0m0 1.5h0m0 1.9h0m0-.8h0m0-9.6h0m0-6.6h0m0-15.8h0m.1 9.2h0m.1-18.3h0m0 38.5h0m0 4.5h0m0 2.6h0m0-9h0m0-21.5h0m0 22.8h0m0-29.2h0m0 29.5h0m0-16.9h0m.1-26.4h0m0-7.6h0m0 53.5h0m.1-28.3h0m0 24.9h0m0-31.8h0m0-18.2h0m0 9.4h0m0-18.3h0m0 65.1h0m.1-53.8h0m0 36.2h0m0 16.9h0m0-23.4h0m0-23.4h0m0 38.5h0m0-2.8h0m0 11h0m0 .1h0m.1-31.3h0m0 23.2h0m.1 3.5h0m0 .7h0m0 4.4h0m0-3.8h0m0 .7h0m0-56.3h0m.1 60.1h0m0-6.3h0m0-49.1h0m0 41.1h0m0-23.7h0m0-9h0m0 33h0m0 12.9h0m.1-1.3h0m0-37.1h0m0 16.6h0m0-26h0m0 48h0m.1-20.4h0m0-5.5h0m0 17h0m0 .6h0m0-40h0m0 34.1h0m0-34.3h0m0 3h0m0 43.5h0m0-4.3h0m0 6.4h0m.1-3.9h0m0-4.6h0m0-33.8h0m0 31h0m0 10.6h0m.1-38.9h0m0 30.8h0m0 10.5h0m0-5.8h0m0-7.4h0m.1 12.8h0m0-8.2h0m0 7.3h0m.1-1.7h0m0 3.5h0m.1-12h0m0 10.9h0m.1 1.7h0m0-17.4h0m0 15.7h0m.1 .8h0m0-9.4h0m.1 9.4h0m0-3h0m0 2.4h0m.1 .9h0m0-7.9h0m0 7h0m0-10.6h0m.1 6.4h0m.1 4.4h0m0 1h0m.1-1.8h0m0 .4h0m.1-6.5h0m.1 7.6h0m0 .5h0m0-3h0m0-.3h0m0-1.8h0m.1 4.5h0m0-.9h0m0 .4h0m.1-2.9h0m.1-2.1h0m.1 5.2h0m.1 1h0m.1-6.2h0m.1 2.8h0m0 1.1h0m0 1.6h0m0-4.1h0m0-.5h0m.1 3.2h0m0-3h0m0 4.7h0m0-5h0m.1-1.8h0m0 3.1h0m.1-1.5h0m0 2.1h0m.2 3.1h0m0-5.2h0m.4 .8h0m0 2.9h0m.3-1.9h0m0 .8h0m.1 2.2h0m0-1.4h0m.1 1.5h0m.2-.1h0m0-.5h0m.2 1.4h0m0-1h0m.2-.1h0m.1 1.1h0m.3-.4h0m0-1h0m.1 .5h0m0-.3h0m.1-1h0m.1 1.6h0m0-2.8h0m.1 2.1h0m0-3.5h0m.2 2.6h0m.1 .5h0m.1 .7h0m0-2.8h0m.1 3.8h0m.1-1.2h0m.1-.5h0m.2 1.3h0m0-1h0m.1 .8h0m0-1.9h0m.1 .7h0m.1-.4h0m.1-1.6h0m.3-1.8h0m0 3.4h0m0-1.6h0m.1 0h0m.1 1h0m.2-.1h0m.1-3.4h0m.2-.9h0m.1 5.5h0m.1 .5h0m.1-5.3h0m0 3.3h0m.1 .5h0m0-3.4h0m.3 4h0m.1-3.6h0m.3 3.5h0m0 .6h0m.2 1h0m.1-3h0m.2 1h0m0-2.2h0m0 2.8h0m0 .4h0m.1-2.2h0m.2 2.2h0m.1-.5h0m.3-.1h0m.1 1.5h0m0-1.8h0m.1-.9h0m.1 2.7h0m0-.4h0m.1 .4h0m.1-3.4h0m.1-5.1h0m.1 8.7h0m0-1.5h0m.1 .9h0m0 .6h0m.1 .5h0m0-.2h0m0-1.5h0m.2 1h0m0 .3h0m.1-.5h0m0-.1h0m.1-.2h0m.3 0h0m.1-6.5h0m.1 2.4h0m.1-3h0m0 5.3h0m.1-3.8h0m.2 1.6h0m.3 4.3h0m0-.2h0m.2-.2h0m0-2.7h0m.1 1.9h0m0-4.6h0m.1 .5h0m.2 3.5h0m.1 .4h0m.2 .2h0m.1 1.4h0m.1 .4h0m.1 .3h0m.2-.7h0m.1 .8h0m.1-.2h0m.1-.6h0m.1 .1h0m.1 .7h0m.2-.7h0m.1-.1h0m0 .4h0m.1-.3h0m0-.1h0m.3 .3h0m.1-.4h0m.1-.1h0m.2 .1h0m.1 .2h0m0-.2h0m.2 0h0m0 0h0m.1 .4h0m.3 .1h0m0 .2h0m0 .1h0m0-.8h0m.3-1.7h0m.1 1.4h0m.2-.6h0m0 0h0m.1 1.8h0m0-1.3h0m.1 .1h0m.1-.5h0m.3-1.8h0m.2 2.1h0m0 .8h0m.1-2.7h0m.1 1.6h0m0-1.2h0m.3 1.5h0m.1 .2h0m0-.2h0m.1 .5h0m.1 .4h0m.1 .4h0m.2-1.1h0m.1 1h0m0-.2h0m.1-.4h0m.3-.1h0m.1-.2h0m0 .4h0m.1 .7h0m.1-.1h0m0-.1h0m.3 .1h0m.1-.9h0m0 .8h0m.3 0h0m.2-.5h0m0-.2h0m0-.2h0m.1 .4h0m0-.3h0m.2 .1h0m0 .2h0m.2 0h0m.1-.1h0m.2 .6h0m.1-.4h0m.2 .3h0m0-.4h0m.1 .2h0m.1-.1h0m.1 .3h0m.2 .3h0m.1-.1h0m.1-.2h0m.1 .2h0m.2-.2h0m0-.2h0m.1 .3h0m0-.4h0m.2 .2h0m.2-.1h0m0 .6h0m.1-.6h0m.2 .4h0m.1-.2h0m0 0h0m.1-.2h0m.2 .5h0m.2-.5h0m0 .5h0m.2-.4h0m.1 0h0m0 .4h0m0-.9h0m.1-.2h0m.3-.6h0m.1-.3h0m.1 .2h0m.1 .3h0m.1-.4h0m.1-.2h0m.2 .5h0m.1 0h0m.1-.4h0m.1 1.3h0m.1 .1h0m.1-1.3h0m0 .6h0m.4 .7h0m0 0h0m0-.3h0m.1 .2h0m.3 .4h0m0-.4h0m.2 0h0m.1-.2h0m.1 .2h0m0 0h0m.1 .2h0m.1-.2h0m.3-.4h0m0 .7h0m0-.4h0m.1-.4h0m0 .2h0m.3 .4h0m0-.5h0m.2-1h0m.1 1.6h0m.1-1.5h0m.1 .2h0m.1-.4h0m0 .7h0m.2 .4h0m.3 0h0m0-1h0m0 1.4h0m.1 .5h0m.1-.9h0m.1-.9h0m0-.6h0m.1 2h0m.1 .3h0m0-1.4h0m.1 .9h0m0-.6h0m.1 .6h0m.1-.5h0m.1 .4h0m.1-.3h0m.1 .3h0m.1-.4h0m0-.2h0m.2 1.3h0m.4-.2h0m0-.5h0m.1-.2h0m0-.3h0m.2 .1h0m0 .8h0m.1-.4h0m.1-.6h0m.1 .6h0m0-.5h0m0 .9h0m.1-11.9h0m.1 11.2h0m0-12.8h0m0 .1h0m0-3.8h0m.1-4.1h0m0 4.7h0m0 1.1h0m.1 15.2h0m.1-10.9h0m0 7h0m0-3.8h0m.1 8h0m0-13h0m0 12.5h0m0-.1h0m.1-.4h0m.1-17.9h0m0 17.6h0m0-.4h0m0 1.5h0m0-16.9h0m.1 16h0m0-4.3h0m0-5.7h0m0 8.4h0m0 1.1h0m.1 1.3h0m0-11.5h0m0 12.3h0m0-16h0m.1 .1h0m.3 14h0m0-1.6h0m.1 .7h0m0-.3h0m0-1.4h0m0 2.7h0m.1 .6h0m.2-2.3h0m0 1.4h0m.1 .3h0m0-2.4h0m0 4h0m.1-2.5h0m.3-2.1h0m.2 3.4h0m.1-.3h0m0-2.6h0m0 3.4h0m.2-3.1h0m0 2.9h0m.2 .2h0m.1-.9h0m.2 .2h0m0 .2h0m.1 .3h0m.1 .1h0m.1 .5h0m.2-.9h0m0 .5h0m.1 .8h0m0-.9h0m.2-.8h0m.2 .7h0m.1 .1h0m0-.1h0m.2-.1h0m0 .7h0m.2-1.1h0m0-.3h0m.2 1.5h0m.2-1.5h0m.1 0h0m.1 .8h0m0-.3h0m.4 0h0m.1 .4h0m0-1.8h0m.3-.6h0m0 2.3h0m.1-.2h0m0-.2h0m.1-1.8h0m.1 .6h0m.1 .2h0m.1 .6h0m.1-2h0m.2 3.1h0m.2-1.6h0m0 1.1h0m0-2.1h0m0 .4h0m.3 2.7h0m.1-.7h0m0-.6h0m0 1.1h0m.3 .5h0m0-.4h0m0 0h0m0-4.9h0m.2 5.3h0m0-.3h0m.1-2.5h0m.1-1.4h0m.1 4.2h0m0-3.5h0m.1-1.8h0m0 4.8h0m.1 .1h0m0-4.1h0m.1 4.5h0m.2-.5h0m.1 .4h0m.2-.3h0m.1-.1h0m.2-.1h0m0 0h0m0 .2h0m.1-.1h0m.2-.2h0m.1 .1h0m0 .6h0m.1-.5h0m.1 .1h0m0-.3h0m.1 .2h0m.2-1.8h0m.1 1.7h0m0-.6h0m.3-.8h0m.1 .6h0m.1-5.4h0m0 2.7h0m.1 1.1h0m.1-.6h0m.1-3.7h0m.1 4.5h0m.1 2h0m0-3.5h0m.2 1.6h0m0-.8h0m0 2.8h0m.1-.4h0m.1-1.4h0m.1 .2h0m0-1.1h0m.1-.9h0m0 1.5h0m.2-.7h0m.2 .4h0m0 1.5h0m0-2.3h0m.1 2.1h0m.1-1.1h0m.2 2.1h0m.1-1.2h0m.1 1.5h0m.2-2.6h0m0-.5h0m.2 2h0m.1-.5h0m.1-18.1h0m0-13.8h0m0 1.5h0m.1 28.8h0m0 2.8h0m0-20.2h0m.1-8.9h0m0 26h0m0-4.5h0m0 6.4h0m0 0h0m.1-31.4h0m0 32.8h0m0 0h0m0-27.4h0m0 20.2h0m0 7.2h0m.1-6.6h0m0 6.9h0m0-23.6h0m0 20.9h0m.1 2.2h0m0-39.1h0m0 13.3h0m.1 23.6h0m.1-5.8h0m.1-7.7h0m0-9.6h0m0-8.3h0m0 10.7h0m0 11h0m.1-21.6h0m.1 34.1h0m0-15.9h0m0-2.4h0m.1 17.7h0m0 .1h0m0 0h0m.1-11.7h0m0 12.2h0m0-32.1h0m0 32.3h0m0-24.3h0m0 7h0m0 8.1h0m0-1.9h0m.1 11.1h0m.1-.7h0m.1 0h0m.3 .3h0m.1-.4h0m0 .2h0m.1 .3h0m.1-.1h0m.2 .4h0m0-.4h0m0-.1h0m.2 .1h0m0 .6h0m.1-.4h0m.2 0h0m0-.3h0m.3 0h0m.1-.1h0m.1-.2h0m0-.1h0m.3 .6h0m.1-.1h0m.1-2.6h0m.2 .7h0m0-.8h0m.1 2.8h0m0-2.8h0m.1 3h0m.1-2.2h0m.1-.3h0m0 .2h0m.2 2.5h0m.2-2.3h0m0-.1h0m.1 0h0m.1-.4h0m.1 .6h0m0-.1h0m.1 .3h0m0-2.7h0m.1 1.3h0m.1 2.3h0m0-1.6h0m0 .6h0m.1-1h0m.1 1.6h0m0-2.5h0m0 .6h0m.1-.7h0m0-.6h0m.2 3h0m0-1.5h0m.1 2.9h0m.1-4.1h0m.1-.5h0m0 1.7h0m.1-1.4h0m.1 1.6h0m0-2.5h0m.1 3.6h0m0-1h0m0 2.5h0m0-.1h0m.1-7h0m0 5.2h0m.1-1.4h0m0-7.6h0m0 8h0m0 .8h0m0-17h0m0 18h0m0-10.6h0m.1 11.4h0m0-27.4h0m0-.3h0m0 23.5h0m0 4h0m0-8.3h0m.1 8.4h0m0-7h0m0-14.8h0m.1-1.1h0m0-4.1h0m0 4.1h0m0 17.1h0m0-23.4h0m0 26.1h0m.1-28.4h0m0 30.9h0m0 .8h0m0-12.9h0m0-12.5h0m0 14.9h0m.1 10.4h0m0-25.4h0m0 25.9h0m0-4.5h0m0-21.8h0m0 22.6h0m.1-4.5h0m0 5.7h0m.1 1h0m0 1.1h0m0-30.8h0m0 22.6h0m0-19.8h0m.1 4.7h0m0 23.2h0m0-12h0m0 12.2h0m0-27.6h0m0-2.6h0m.1 19.4h0m0-1h0m0 6.4h0m0-2.2h0m0 4.3h0m0-23.1h0m0 16.5h0m0 6.5h0m0-1.1h0m.1 4.3h0m0 .3h0m0-.4h0m0-7.5h0m0-1h0m0 5.4h0m.1-1.1h0m0-1h0m0 5.9h0m0-4.2h0m.1 3.7h0m0-22h0m0 16.9h0m0-15h0m0 11.3h0m.1 8.7h0m0-11.6h0m0 11.6h0m0 .4h0m.1-7.2h0m0 2.8h0m0-.9h0m0 3.5h0m.1-2.3h0m0-3.6h0m0-.6h0m0 5.1h0m0 1.5h0m0-6.6h0m.1 6.3h0m0-7.7h0m.1 5.1h0m0-.1h0m0 .4h0m0 .3h0m.1 1.4h0m0 2.3h0m0-2.5h0m0-.3h0m.1 2.6h0m0-4h0m.1 3.3h0m0 .3h0m.1-5.4h0m0 3.3h0m0-1.8h0m0 1.9h0m.1-2.4h0m0-3.7h0m0 9h0m0-8.8h0m.1 4.9h0m0 1.9h0m.1 1h0m0 .2h0m0-.1h0m.2-.2h0m.1-1.7h0m.1-1.4h0m.1 4h0m.1-.1h0m.1-3.8h0m.1 .9h0m.1 2.3h0m.1-2.4h0m.1 1.7h0m0-.6h0m.1-1.5h0m.1 2.5h0m.1-2.1h0m.3 2.9h0m.1-3.5h0m0 0h0m.2 3.6h0m.1-1.2h0m0 .5h0m.2-1.9h0m.1 3h0m.1-1.2h0m0-1h0m.1 1.9h0m.2-1.7h0m.3 .4h0m.1 1.5h0m0-.7h0m.1 0h0m.1-1.2h0m.2 .2h0m0-.3h0m.1 2h0m0-2.1h0m0 1.5h0m.3-.6h0m.1 1.2h0m.1-1.8h0m0 1.6h0m.3-.6h0m0-1.7h0m0 2.5h0m.1-6.7h0m0 6.8h0m0-1.1h0m0-5.4h0m.1 5.3h0m.2-3.3h0m.2 4.7h0m0-.8h0m.1 .3h0m.1-.5h0m.1-.5h0m0 .8h0m0 .1h0m.2 .6h0m.1-.5h0m.3-.1h0m0 0h0m.1 0h0m0 .4h0m.2 .1h0m.2-.4h0m0 .1h0m.1-.1h0m0-.1h0m.4 .1h0m0 .4h0m.1-.1h0m0-.1h0m.1-.2h0m.4 0h0m0 0h0m.2 .3h0m.1-.3h0m.1 0h0m.2 .5h0m0-.2h0m.2-.1h0m.1-1h0m0-.6h0m.1 1.4h0m.1 0h0m0-2.7h0m.1-.3h0m.1 .5h0m.1 .1h0m.3-6.8h0m.1 6.8h0m0-.1h0m0-8.2h0m.1 7.1h0m.1 .6h0m.1-3h0m0 5.6h0m0 .1h0m0 .1h0m.1-.8h0m0-10.9h0m.1-1.3h0m0 12.3h0m.1 .4h0m0-.1h0m.1-11.2h0m.1 10.5h0m.1 .4h0m0 .6h0m.1-2.8h0m0 .9h0m0 2h0m0-10.5h0m.1 1.4h0m0 9.9h0m.1-.7h0m0 0h0m.1 .3h0m.2-.3h0m.2-.2h0m0 .7h0m.1-.2h0m0 .3h0m.2-.2h0m0-.3h0m.2-.4h0m.1 .1h0m.2-1.2h0m.1-.2h0m.1 .9h0m0-1.3h0m.1-3.5h0m.1-9.5h0m0-5h0m0 17.8h0m.1-10.1h0m0-13.5h0m0 23.6h0m0 .4h0m.1-7.4h0m0 5.5h0m0-7.4h0m.1 10.2h0m0-1.5h0m0-17.3h0m0 13h0m0-29.2h0m.1 35.2h0m0-.5h0m0-3.3h0m0 .1h0m.1 3.8h0m.1-5.1h0m0 3.7h0m0 2.2h0m0-14.8h0m0-11.5h0m.1 17.6h0m.1-5.8h0m0 12.3h0m.1-.5h0m.2 1.1h0m.1 .4h0m.1-.3h0m0-.3h0m.1 1.5h0m0-.6h0m.2 .8h0m0 .2h0m.1-.1h0m.2-.5h0m.1 .4h0m.1-.4h0m.2 .3h0m.1 .3h0m0-.3h0m.1-.1h0m.2-1.3h0m.1-.3h0m0 1.5h0m.1-1.3h0m0-1.2h0m.2 1.8h0m.1 .1h0m.2 .6h0m.2-.5h0m.1-1.5h0m.1 .4h0m0-.7h0m0 1.3h0m.3-1.4h0m.1-.6h0m.1 2.4h0m.1-1h0m.1 .5h0m0-4.8h0m.1 5.1h0m.2-3.4h0m0 4.5h0m.1-1.3h0m.1-.5h0m0-2.6h0m.1 3.4h0m.2-.8h0m0 .6h0m.1-.1h0m.1 .4h0m0-.3h0m.1 0h0m.1 .1h0m.2 .6h0m0-.8h0m.2 1h0m.1-.3h0m.2 0h0m.1 .1h0m0 .7h0m0 0h0m0 0h0m.4-.3h0m.1 0h0m0-.5h0m.1 .1h0m0 .5h0m.3-.2h0m.1 0h0m.1 0h0m.1 0h0m.1-.1h0m0 .5h0m.2 0h0m0-.3h0m.2 .3h0m.2-.1h0m.1 .1h0m.1-.4h0m.1-5.1h0m0 5.3h0m.1 .2h0m0-.5h0m0-1.3h0m.1 .6h0m0-2.9h0m0-4h0m0 4h0m.1 3.6h0m0-5.2h0m0 4.7h0m.1-9.1h0m0 1.1h0m0 7.3h0m.1-5h0m.1-2.7h0m0 7h0m.1-4.5h0m.1 2.8h0m0 2.6h0m.1-7.7h0m0 6.9h0m0 .5h0m.1-1h0m.1 .5h0m.1 1.2h0m0-.8h0m.2-.6h0m.1 2.3h0m0-.5h0m0 0h0m.3 .5h0m.4 0h0m0-1.2h0m.1 .2h0m.1 .6h0m0 .6h0m.1-.1h0m.2 .3h0m.1 0h0m.1-.3h0m0 .2h0m.2-.3h0m0 .3h0m.2-.3h0m.2 .3h0m.1 0h0m0-.2h0m.1-.2h0m0 .1h0m0-20.3h0m.1 20.8h0m0-.3h0m0-13.2h0m0-7.7h0m0 1.1h0m.1 9.3h0m0 10.2h0m0-3h0m.1-17h0m0 7.6h0m0 2.9h0m0 9h0m.1 .6h0m.1-1.7h0m.1 1.9h0m0-3h0m.1 .4h0m0-17.7h0m.1 6.8h0m0 13.2h0m0-.7h0m0-5.6h0m.1-5h0m0 11.2h0m.1-11.2h0m0 11.3h0m0-22h0m.1 22.4h0m0 .2h0m0-26.9h0m0 17.8h0m.1 8.3h0m0-9.4h0m0 9.6h0m.1-14.7h0m0 15h0m0-15.6h0m0 10.2h0m.1 4.9h0m.1-.7h0m.4 0h0m0-.2h0m0 .3h0m.2 .8h0m.1-1.4h0m0-.2h0m.1 1.1h0m0-.1h0m.3-.3h0m.1 .5h0m.1 .3h0m0-.9h0m.1-2.7h0m0 3.3h0m.1-1.4h0m.1 1h0m0 .2h0m.1-1.4h0m0-22h0m.1 22.9h0m0-13.4h0m.1-.9h0m0-1.6h0m.1 8.9h0m.1-13.1h0m0 15.8h0m0-.5h0m0 5.3h0m.1 0h0m0-.9h0m0-.7h0m0 1.4h0m.1-1.5h0m0-11.1h0m0 7.4h0m.1 4.2h0m0-16.1h0m.1 5h0m.1 13h0m0-15.9h0m.1-8.1h0m0 16.7h0m0 3.6h0m.1 .2h0m0-1.3h0m0-10.6h0m0 7.3h0m0 4.9h0m0 2.9h0m.2 .2h0m.2-1.1h0m0-2.2h0m0 1.7h0m.1-5.5h0m0 1.3h0m0 3.1h0m0 2.8h0m.1-2.1h0m.1 .7h0m0-2.7h0m.1 2.7h0m.2 .2h0m.1-.3h0m.2 .4h0m0-2.8h0m.1 2.8h0m0-.3h0m0-.1h0m.1-.8h0m.1-2.2h0m0 2.6h0m0 .7h0m.1-8.8h0m0 1.5h0m.1 8.3h0m0-.5h0m.1-.2h0m.1-.6h0m.1 .6h0m.1 .5h0m.1 .3h0m.2-.1h0m.2-.3h0m.1-.2h0m0 .1h0m.2 .4h0m.1 0h0m.1-.1h0m0 .2h0m0 .6h0m.3-1.9h0m.2-3h0m0 4.1h0m.1 .3h0m0-2.4h0m.2-2.1h0m.1 1.3h0m.1 1.1h0m.1-1.8h0m.1 1.3h0m0-1.9h0m.1 .6h0m0 2h0m.4-1.7h0m0-.5h0m.3-.9h0m0 4.4h0m.2-2.1h0m.1 1.8h0m0-6h0m.1 .3h0m0 6.5h0m0-6.1h0m0 5.7h0m.2-10h0m.1 10.9h0m0-.8h0m.1-.1h0m.1 .6h0m0-12.6h0m0 12.3h0m0-1.4h0m0 1.3h0m.1-4.5h0m0 4.9h0m.1-6.2h0m.1 3h0m.1 3.6h0m.1-3.9h0m0 3h0m0-2.4h0m.1-1h0m0 3.6h0m.1-.3h0m.1-4.8h0m0 5h0m0 .1h0m.1-2h0m0-1.2h0m.3 3.2h0m0 .5h0m.1 0h0m0-13.2h0m0-2.1h0m0 15.1h0m.1 0h0m0 0h0m0-17.6h0m.2-1.4h0m0 8h0m0 2.4h0m.1 8.3h0m0-13.3h0m.1-4.4h0m0 17.8h0m0-9.6h0m.1-4.5h0m.2 13.9h0m.1-2.9h0m0 3h0m0 .1h0m.1 .5h0m0-.4h0m.1-.2h0m0 .1h0m.2 0h0m0-1.1h0m.1 1.5h0m0 .2h0m.1-1h0m0-1.5h0m.1 1.4h0m.1 .2h0m.1-.1h0m.2-.4h0m0 .8h0m.1-1h0m.2 .9h0m.1 .4h0m.2-.4h0m0-1.2h0m0 .6h0m.2-.8h0m.1 1h0m.1 .2h0m0-.3h0m.1-4.6h0m.1 2.4h0m0 2.2h0m.1-2h0m.1 3.1h0m0-.5h0m0-1.9h0m.1-3h0m.1 4.7h0m0-.4h0m.1-3.5h0m0 2.4h0m.1-3.8h0m0 .3h0m0-.2h0m.1 3.2h0m0-.8h0m0 1.7h0m0 1.2h0m0-4.8h0m.1 2.2h0m0-.5h0m0-7.6h0m0 8h0m.1 3.3h0m0-1.1h0m.1-17.7h0m0 7.6h0m0 10.6h0m0-5.8h0m0-6.5h0m.1 3.8h0m0 2.2h0m0 1.8h0m0 3.4h0m0-15.6h0m.1-.8h0m0 12.2h0m0-16.4h0m.1 10.3h0m0-13.1h0m0 9.5h0m.1 14.1h0m.1 .6h0m0-4.6h0m0 4h0m.1-6.5h0m0 6.8h0m0-15.6h0m0 15.2h0m0 .4h0m0-15.6h0m0 7.2h0m.1 7.4h0m0-7.5h0m0 3.3h0m0-5.2h0m0 10.5h0m0-12.4h0m0 13.7h0m0-5.8h0m.1 5h0m0-18.2h0m0 14.9h0m0-3.7h0m.1 5.9h0m0-22.8h0m0 16.1h0m0-10.2h0m0 8.9h0m.1 3.1h0m0-6.1h0m0-.5h0m0 7.4h0m.1-3.1h0m0 7.6h0m0-8.9h0m0-8.7h0m0 9.6h0m.1-3.3h0m0-4.2h0m0 16h0m0-6.4h0m0-2.8h0m0 9h0m0-16.2h0m.1 4.8h0m0 12.3h0m0-22.2h0m0 14h0m0 1h0m0 6.7h0m0-2.5h0m.1 .7h0m0-11.6h0m0 9.2h0m0 3.5h0m0 .5h0m.1-18.9h0m0-2.2h0m0 16h0m0-1.7h0m.2-4.3h0m0-3.8h0m.1 14.1h0m0-1.7h0m.1-11.4h0m0 4.1h0m0 5.1h0m0 5.2h0m0-12.8h0m0 13.2h0m0-1.3h0m0-7.4h0m.1 7.4h0m0-11.8h0m0 11.6h0m0-5.6h0m0 1.6h0m.1-1.7h0m0 3.6h0m0 .4h0m0 2.1h0m0-.4h0m0 0h0m.2-3.7h0m0 3.9h0m0-1.1h0m0 .7h0m0-10.9h0m.1 11.3h0m0-3.9h0m.1 2.8h0m0-9.8h0m0 7.6h0m.1-1.6h0m0-5.3h0m.1 4.7h0m0 6.2h0m0-.2h0m.2-1.2h0m.1 0h0m.1 .4h0m.1-6.1h0m.1 7.5h0m0-1h0m.1-1.1h0m0 1h0m.1-7.7h0m.1 5.4h0m.1 .8h0m0 .6h0m.1-2.2h0m0-.9h0m0 4.6h0m0-7.9h0m.1 5.4h0m0 1.3h0m0-.2h0m.1-5.8h0m0 5.7h0m.2-5.9h0m0 3.5h0m.1 3.4h0m0-1.3h0m.1-3.3h0m0 4.2h0m0-1.6h0m0 2h0m.1-1.3h0m.1-2.4h0m.1 2.7h0m0 .9h0m.1-.3h0m.2-.7h0m0-2h0m.1 3.6h0m.1-4.6h0m.3 1.1h0m0 1.6h0m.1-.8h0m.1-1.2h0m0 .6h0m.2-.5h0m0 0h0m.1 .4h0m.2-.6h0m0 3.7h0m.3-1.6h0m.1 1.3h0m.2-.3h0m.2 1.6h0m0-.3h0m0-1.2h0m.1 .9h0m.1 .5h0m.2-.6h0m.1-.1h0m.1-.6h0m.2-.2h0m.1 .1h0m.1 1.2h0m.1-1.6h0m.1 .4h0m0-1h0m.2 .9h0m0-.9h0m.1 .2h0m0 1.1h0m.4-1.1h0m0 .6h0m.1-.5h0m.2 1h0m0-.6h0m.1 1.1h0m.1-.2h0m0-.8h0m.2-.3h0m.3 .9h0m0-2.9h0m.1 .3h0m0-1.5h0m.1-.1h0m.1 4.4h0m.1 .5h0m0 .4h0m.1-2.4h0m0-1.7h0m.1 .9h0m.1-1.2h0m.1 1.5h0m.1-1.3h0m.1 .6h0m.1 1.7h0m.1-3h0m0 4h0m0-2.3h0m.1-1.6h0m.1-.8h0m.3 .5h0m.1-1h0m.1 .1h0m.1 4h0m.1-.7h0m0-3.9h0m0 4.4h0m0-.9h0m.2 .7h0m.1 .8h0m.1-4.5h0m0 2.5h0m0 2.5h0m.1-2.8h0m.1-2.2h0m.1 3.2h0m.4 0h0m0 .2h0m0 2.5h0m0-2.5h0m.1 1.9h0m.1-2.2h0m0 .5h0m0-1.1h0m.1 2.9h0m.4-8.1h0m0 .3h0m0 6.4h0m.1-1.5h0m0-.3h0m0-2.6h0m.1 3.2h0m0-8.3h0m.1 10.8h0m0-.4h0m.1-1.3h0m0-.4h0m.2 2.1h0m0-3.8h0m.1-.8h0m0 4.3h0m.2-2.8h0m0 2.1h0m0 1.2h0m.2-2.7h0m.1 1h0m0-.7h0m.2-.6h0m.1 2.4h0m0-1h0m.1-.2h0m.3-1.5h0m0 2.4h0m0 .8h0m.1 .5h0m.3-2.3h0m.1 1.2h0m.1-17.3h0m0 16.6h0m.1 .4h0m.1-8.9h0m0 10h0m.2-1h0m.1-7.4h0m0 7.6h0m0-6.5h0m.1 4.1h0m0 .2h0m0-.1h0m0 3h0m0-.1h0m0-4.6h0m0-2.4h0m.1-2.3h0m0 9.9h0m.1-2.8h0m0-3.4h0m0-8h0m0 13.4h0m.1-.9h0m0 .5h0m0-.4h0m.1-6.8h0m.1-.5h0m0 7.5h0m0 1.5h0m.1-1.8h0m0-2h0m.2 3h0m.1-2.1h0m.1 .3h0m.1-4.1h0m0 5.7h0m0 .4h0m0 .3h0m0-.8h0m.1 0h0m.1-.2h0m.1-3.6h0m.1-.7h0m0 4.3h0m.1-4.3h0m.2 4.8h0m0-.7h0m0 .6h0m.1 .2h0m0 .2h0m.2-14h0m0-2.8h0m0 4.9h0m0 2.9h0m.1-5.8h0m0 4.1h0m0-5.2h0m0 15.4h0m.1-20.7h0m0 10.7h0m.1 8.2h0m0-14.4h0m0 15.8h0m0-.5h0m.1-11.5h0m0 12.1h0m0-19.3h0m0 6.9h0m0-9.1h0m0 19.5h0m0-17.9h0m0 7.5h0m0 11h0m0 2.1h0m.1-8.7h0m0-10h0m0 6.4h0m0 4.6h0m0 4.6h0m0-1.8h0m0 1h0m.1 0h0m0 .6h0m0-5.1h0m0-14.1h0m0 22.4h0m0-9.5h0m.1 2.8h0m0-1.6h0m0 8.2h0m0-.4h0m0 .8h0m0-10h0m0-10h0m.1 17.7h0m0 2h0m0-16.1h0m0 14.9h0m.1-4.7h0m0 5.4h0m0-2.3h0m0-12.8h0m0 11.7h0m0-2.7h0m0-1.4h0m0-3.1h0m0 3.3h0m.1-3.8h0m0 8.2h0m0-6h0m0 5.7h0m0-11.2h0m0-2h0m0 .2h0m0 5.6h0m.1 8.5h0m0-2.3h0m0-.3h0m0-10h0m0 10.2h0m.1-2.3h0m0-13.5h0m0 1h0m0 16.2h0m0-17h0m0 17.6h0m0-11.7h0m0-3.7h0m0 16.4h0m.1 1.8h0m0-3.1h0m0-3.5h0m0 .7h0m0 1.8h0m0-5.3h0m0-1.9h0m0-.5h0m.1 9.9h0m0-7.7h0m0 7.8h0m0-14h0m0 .2h0m0 15.5h0m0-.2h0m.1-16.6h0m0 14.2h0m0-3h0m0-1h0m0-8.7h0m0 15.1h0m.1-14.2h0m0 6.3h0m0 7.7h0m.1 .3h0m0-4h0m0 4h0m0 .5h0m0-5.1h0m.1 2h0m.1 1.9h0m0 .9h0m0-1.5h0m.1-4.7h0m0 6.1h0m0-1.2h0m0 .6h0m.1 1.7h0m0-2.2h0m.1 .1h0m0 .9h0m0-2.3h0m0-.3h0m.1 2.7h0m0-7.3h0m.1 3.7h0m0 3.5h0m0 .7h0m0-1.5h0m0 .5h0m.1-3.1h0m0-3h0m0 7h0m0-2.3h0m.1-.3h0m0-98.1h0m0 100.8h0m0-15.9h0m0 12.9h0m0 3.1h0m.1-8h0m0-28.4h0m0 8.8h0m0-52.5h0m0 79.7h0m0-59.7h0m.1 30.2h0m0 29.7h0m0-6.4h0m0 5.9h0m0-4h0m.1 4h0m0-2.7h0m0-61.6h0m0-33.5h0m0-12.4h0m0 14.2h0m.1 11h0m0-27.1h0m0-10.9h0m0 123.6h0m0-75.1h0m.1-8h0m0 82.2h0m0-84.6h0m0-.7h0m0-51.4h0m0 22.8h0m0 64.7h0m.1-93.7h0m0 13.2h0m0 8.8h0m0 9.4h0m0 111.9h0m.1-109.7h0m0 109.8h0m0-.4h0m0-.1h0m0-140.1h0m0 22h0m0 62.5h0m0 52.8h0m0-22.3h0m.1-53h0m0 61.4h0m0-1.7h0m0-13.6h0m0-95.9h0m.1 110.8h0m0 9.8h0m.1 7.2h0m0-31.3h0m0 21.7h0m.1-26.6h0m0 1h0m0 33.9h0m0-59h0m0 40.1h0m0-55.4h0m.1-6.8h0m0 30.5h0m0 6h0m0-32.5h0m0-5.3h0m0 74.2h0m0-50.1h0m0-21.6h0m.1 74.1h0m0 1.8h0m.3-3h0m0 1h0m0 3.8h0m.1 2.5h0m.3-2.7h0m.1 2.7h0m0-5.9h0m.1-.7h0m0 6.7h0m.2-6.3h0m0 5h0m.1 0h0m.1-1.6h0m.2 3.9h0m.1-3.5h0m.1 1.8h0m.2-.8h0m.1-.4h0m.1 3.4h0m0-4h0m.2 3.5h0m.1-1.9h0m.2-.3h0m.1 2.7h0m0-1.8h0m.1-.7h0m0 1.9h0m.2-2.9h0m.1 1.1h0m0 .1h0m.3-2.9h0m0 4.8h0m.1-4.9h0m.1 1.4h0m.2-1.5h0m.1 .5h0m0 1.9h0m.2-.1h0m0-.8h0m.2 1.4h0m.2 3.1h0m0-.3h0m.2 .5h0m.2-.6h0m.1 .5h0m0 0h0m0-.1h0m.3-.2h0m.1 .1h0m.1-2h0m0 1.9h0m.1-.2h0m0-5.6h0m.1 6h0m0-4.2h0m.1 4.2h0m0-1.9h0m0-1.5h0m0-1.1h0m.1 3.4h0m0-5.7h0m.1 5.1h0m0-2.6h0m0 2.5h0m.1 .7h0m.2 .6h0m0-1.2h0m0 .5h0m.1 .4h0m0-5.5h0m0 4.8h0m0-4h0m0 3.3h0m.1-2.4h0m.1 4.7h0m.1-1.3h0m.3 .5h0m0-4.6h0m.1 4.3h0m.1-7.2h0m0 5.7h0m0-.3h0m0-2.2h0m0 3.6h0m.2-2.4h0m0 2.4h0m.1-4.7h0m0 6h0m0-2.7h0m.1 1.7h0m.1-.9h0m.1-1.2h0m0 2.3h0m.1-1h0m.2 .7h0m.4 .5h0m0-1h0m.1 .9h0m.1-1.3h0m.1 1.1h0m.1-.4h0m.1-.8h0m.2 2h0m0-1.8h0m.1-1h0m.3-.8h0m0 .6h0m.3 .6h0m0 2.5h0m0-1.7h0m.1-1.7h0m0-.1h0m0 2.9h0m.2-1.9h0m0 .6h0m.2 1.6h0m.2-2.9h0m0 3h0m0-1.6h0m0 .2h0m.1-.2h0m.1 2.1h0m.1-1.1h0m0 .7h0m.3-.4h0m0-.5h0m.1-.2h0m0 .2h0m.3-.1h0m.1 0h0m.2 .9h0m.3-.9h0m0 0h0m0 .2h0m0 .4h0m.1-4.4h0m.2 2.6h0m0-.9h0m.2-1.5h0m0 1.9h0m0 .4h0m0-2.1h0m0 3.4h0m.1-2.2h0m.1-1.9h0m.1-.8h0m.1-3.8h0m.1 4.5h0m0 3.5h0m0-2h0m0-13.3h0m.1 12h0m0 1.5h0m0 2.4h0m0-4.7h0m.1-5.9h0m0 5.6h0m.1 2.6h0m0-3.3h0m0 4.7h0m.1-9.4h0m.1 .7h0m.1 6.8h0m.2-2h0m.1 5.9h0m0 .2h0m.1-2.3h0m0-1.7h0m.1 4h0m0-.5h0m.2 .3h0m.1 .1h0m.2-.4h0m.2 .7h0m0-.5h0m0-.3h0m.1 .3h0m.3-.1h0m.1-.5h0m0-1.2h0m0 2.1h0m.4-2.2h0m.1 .3h0m0 .3h0m0 1h0m.1-.6h0m0-.5h0m0-.5h0m.1 1.8h0m.1-2.1h0m0 2.5h0m.1-1.6h0m.1-1.4h0m.1 2.2h0m0-1.8h0m.5-1h0m0 .6h0m.1 .7h0m.1-8.4h0m0 6.2h0m0-14.8h0m.1 16.1h0m0-2.5h0m0-1h0m0-8.4h0m.1 8.6h0m0-3.4h0m0-2.6h0m0 7.6h0m0-.7h0m0 2.5h0m.1-2.9h0m0 5.7h0m0-6.8h0m0-2.4h0m.1-4.2h0m.1 1.9h0m0-1.6h0m.1 2.1h0m0 11.6h0m0-5.1h0m0-7.6h0m0 12.1h0m0-22.7h0m0 22.2h0m0-6.7h0m0-7.8h0m0-4.8h0m.1 8.2h0m0 12.1h0m0-25.6h0m0 24.1h0m.1 1.4h0m0-18.4h0m0 8.5h0m0 5h0m0 4.2h0m0-19.3h0m0-19.3h0m0 23.1h0m0-19.7h0m0 12h0m0 5.2h0m0-30.8h0m0 3.8h0m0 45.8h0m0-50.4h0m.1 44.6h0m0 2.4h0m0-11.1h0m0 11.3h0m0-39.9h0m0 36.8h0m0 3.2h0m0-16.5h0m0-.4h0m0 15h0m0-14.2h0m0-6.3h0m.1 1.2h0m0 15.6h0m0 1.1h0m0-23.5h0m0-8.5h0m.1 24.1h0m0 2.8h0m0-2.9h0m0-14h0m0-10.9h0m0 22.7h0m0-.2h0m0-29.4h0m0 42.2h0m0-6.8h0m0-7.7h0m.1 19.7h0m0-38.4h0m0 9h0m0 5.8h0m0 22.6h0m0-7.9h0m0-8.4h0m0-34.8h0m0 31.3h0m0 7.3h0m0-41h0m0 9.1h0m0 26.7h0m.1-30.3h0m0 35.8h0m0-8.7h0m0 21.8h0m0-3.4h0m0-3.6h0m0-7.6h0m0 .9h0m0 3.1h0m0-42.4h0m.1 46.1h0m0 3.9h0m0 1.2h0m0 1.2h0m0-15.9h0m0 .9h0m0 10.6h0m0-13.2h0m0-14.6h0m0 9.6h0m.1 4h0m0-1.6h0m0-1h0m0-9.6h0m0-26.4h0m0 37h0m0 3.7h0m0-8.3h0m0 2.5h0m0-43.3h0m0 58h0m0-4.4h0m0-13.5h0m0 6.3h0m0 14.1h0m0-26.9h0m0-17.1h0m0 27h0m.1-20.6h0m0 34.4h0m0-52.7h0m0 7.6h0m0 30.9h0m0 22.3h0m0-24.9h0m0-9.5h0m0-2.5h0m0 14.4h0m0-16.1h0m0 3.4h0m.1 11.7h0m0 6.5h0m0-14.6h0m0 20.8h0m0-52h0m.1 48.9h0m0-42.3h0m0 56.2h0m0-28.4h0m0 7.8h0m0-19.6h0m0-18.7h0m0 10.4h0m0 49.3h0m0-41.6h0m0 31.3h0m0 10.1h0m.1-47.7h0m0 8.5h0m0 33h0m0-10h0m0 11.4h0m0-50.4h0m0 49.5h0m0-28.1h0m0 21.3h0m0 7.4h0m0-1.1h0m0-3.2h0m0 5.6h0m0-3.4h0m.1 2.9h0m0-3.7h0m0 2.5h0m0-3.6h0m0 5.2h0m0-3.9h0m0-31.2h0m0 13.8h0m0 9.3h0m0 4.9h0m0-35h0m0 32.7h0m0 6.4h0m.1 5.8h0m0-25.2h0m0 10.8h0m0 15.2h0m0-18.9h0m0 2.6h0m0 8.3h0m.1-2.3h0m0 6.1h0m0-2.4h0m0-45.8h0m0 10h0m0 34.8h0m0-5.4h0m0 1.2h0m0 1h0m.1 8.5h0m.1 .5h0m0-2.5h0m.1-5.6h0m.1 1.5h0m.1 5.6h0m0-2.2h0m0-1.5h0m0 6.1h0m.1 .4h0m0-4.5h0m.1-7.2h0m0 6.8h0m0 3.3h0m0-11h0m0 12.1h0m.1-2.5h0m0-1.3h0m0 3.5h0m.1-10.8h0m0 6.9h0m0 4h0m0-10.1h0m.1-1.9h0m0 .5h0m0 10.3h0m0-1.4h0m.1-2.4h0m0-7.5h0m.1 4.8h0m0 1.5h0m.1 7.1h0m0-.3h0m0-7.2h0m0 7.3h0m.1-5.9h0m0 1.6h0m0-3.5h0m.1 6h0m.1-11.5h0m.1 3.8h0m0 8.3h0m0-4.1h0m.1 .7h0m0 .1h0m.1-6.1h0m0 4.8h0m0 3.4h0m0-.2h0m0-.1h0m.1 2.1h0m0-1.9h0m.1-3.3h0m.1-.2h0m0 .8h0m.1 1.9h0m.1-2.4h0m0 5.8h0m.3-4.7h0m0-.7h0m.2 1.9h0m.2-1h0m0 4.7h0m.1-2.6h0m0 2.8h0m.1-3.6h0m.3 2.2h0m0-3.2h0m.2 .1h0m.1 1.3h0m.1-2.1h0m.1 .7h0m.1 2.8h0m.1-3.1h0m0 .9h0m.2 3.3h0m0-4.9h0m.1 .8h0m.1 0h0m0-.3h0m.1 1h0m0 2.1h0m.2-3.1h0m0 3.5h0m0 .1h0m.4 .3h0m0-3.5h0m.1 2h0m0 1.1h0m0-1.5h0m.1-.2h0m0-.2h0m.2 1.3h0m.2-.7h0m0-3.4h0m0 0h0m0 5.6h0m.1 .1h0m0 .3h0m.1-4.3h0m0 .4h0m.2 3.6h0m0-.9h0m0 .7h0m.1-1.4h0m0 1.2h0m0 .6h0m.1-3.7h0m0-.3h0m.1-1.7h0m.1 3.6h0m0-1h0m.3 .4h0m0-2.7h0m.1 3.2h0m.1-.2h0m.1 1.1h0m.1 .7h0m.1-.3h0m.1 0h0m.1 1h0m.1-.8h0m.1-.5h0m.2 .3h0m.2-.1h0m0-.2h0m.1 0h0m.1 .2h0m.1 .2h0m.1-.5h0m.2 .4h0m.1-6.9h0m0 5.7h0m.2-.2h0m0 .1h0m0-5h0m.1 6h0m.1-2.1h0m0-.3h0m0 3h0m.2 .3h0m.1-1.7h0m.1 1.2h0m.1-2.8h0m.1 1.7h0m.1-.9h0m0 2.7h0m.1-3.2h0m0 1.4h0m0-.8h0m.2 .6h0m0-1.1h0m.2-.8h0m.1 .3h0m.2-1.1h0m0 .1h0m.1-.2h0m.2 1.9h0m.3 .8h0m0 2.2h0m.1-3.9h0m0 1.3h0m.2-1.7h0m0-1.3h0m.1 1.8h0m.1-1.5h0m.1 2.5h0m.2 2.2h0m.2-2.8h0m0-1.4h0m0-.4h0m.2 3.8h0m.1-3.5h0m.3-.5h0m0 1.8h0m0-1.3h0m.2 1.9h0m.1-2.1h0m.2 2.8h0m.1 .3h0m.1 .4h0m.1 .8h0m.1-.7h0m.1 .3h0m0 1.3h0m.1-.2h0m.1-.3h0m.1 .1h0m.3-1h0m.1 .3h0m0-.1h0m.2 .4h0m.1 .5h0m.1-1.1h0m.1-1.1h0m.1-.9h0m0 3.2h0m.2-1.1h0m.1-1.8h0m.1 .1h0m.2-1h0m0 3.2h0m.2-2.9h0m0 .9h0m.2 .1h0m.1 .8h0m.1 .7h0m.1-.4h0m.1-1h0m0-1.3h0m.1 1h0m.2-2.3h0m0 1.4h0m0-1.4h0m.1 .9h0m.3 .7h0m0-1.3h0m.1-.4h0m.1 2.6h0m.3 .6h0m.1 .1h0m0-1.5h0m.2 1.2h0m0 .3h0m.3 0h0m0 .5h0m.1-1.2h0m.1 .9h0m.1 .7h0m0-.3h0m.2-1.1h0m.3 .7h0m0 1.4h0m.1 0h0m0-2.3h0m.3 .5h0m.1 .6h0m.2 1.5h0m.1-1.3h0m.1-.4h0m.2-.7h0m0-.1h0m.1 .7h0m0-.6h0m.3 2.1h0m.1-2.4h0m.1 2.9h0m0-1.1h0m.1-.3h0m.1-.2h0m.1-.5h0m0 1.5h0m0-2.9h0m.1 2.9h0m0-1.2h0m.2 1h0m.1-.8h0m.2 .7h0m.1 .4h0m0-2.1h0m.1 3h0m0-1.4h0m.1 1.2h0m0-1.2h0m.1-2h0m0 1.4h0m0 1.9h0m.3-1.6h0m.1-.2h0m0 1.1h0m.3 0h0m.2-.9h0m0-.7h0m.2 1h0m0-1h0m.1 2.2h0m.1-1.4h0m.1-.7h0m.1-.8h0m.1 .3h0m.1 1.9h0m.2 .7h0m.1-2.9h0m0 .9h0m.4-.1h0m0-.2h0m.1-.5h0m0 1.3h0m.1-.4h0m.2-1.4h0m.1 2.9h0m.1 .6h0m0-4.9h0m0 2.8h0m.3 .5h0m0 0h0m0-.6h0m.1 1.3h0m0-5.9h0m0 1.7h0m0 2.7h0m.1 .9h0m.1-2.9h0m0 1.9h0m.1 .6h0m0-.2h0m0 1h0m.1-2.9h0m0 2.5h0m0 .5h0m0-5.1h0m.1-1.2h0m0 1.4h0m.1 5h0m0-6.7h0m.1 6.6h0m.1 .1h0m0-17.2h0m0 7.3h0m.1 8.3h0m0-1.9h0m0 3h0m0 1.2h0m0-7.2h0m0-.7h0m.1 7.5h0m0-10.8h0m0 1.8h0m0 9.2h0m0-6.8h0m0-13.1h0m0 1.2h0m0 3.1h0m.1 15.9h0m0-19.4h0m.1 8.3h0m0 10.8h0m0-9h0m0 3.7h0m0 5.8h0m0-8.9h0m0-.4h0m.1-6.7h0m0 10.8h0m.1-17h0m0 12.7h0m0 1.7h0m0 7.3h0m0-5.8h0m0-8.5h0m0-5.9h0m0 10.7h0m0-4h0m0-.7h0m.1 9.5h0m0 4.3h0m0-1.7h0m0-5.5h0m.1 7.6h0m0-5.2h0m0-20.7h0m0 6.9h0m0 18h0m0-1.3h0m0 2.3h0m0-7.4h0m0 5.6h0m.1-8h0m0 .3h0m0 2.5h0m0-20.4h0m.1 21.6h0m0 5.4h0m0-1.6h0m0 1.9h0m0 .1h0m0-6.5h0m0 .5h0m0-5h0m0-5.6h0m.1 9.6h0m0-.2h0m.1-1.4h0m0 3.2h0m0-2.6h0m0-1.9h0m0 9.3h0m0-12.1h0m0 12.8h0m0-.4h0m.1-2.6h0m0 1.4h0m.1-8h0m0 .2h0m0 4.4h0m0-4.1h0m0 3.5h0m0-1.2h0m.1-2.7h0m0 6.9h0m0 1.9h0m0-4.5h0m0 2.7h0m0-8.1h0m0 4.1h0m.1 5.4h0m0-6.7h0m.1 6.9h0m0-1.5h0m.1-4.1h0m0-.2h0m0 .2h0m0-1.9h0m0 6.5h0m.1-2.7h0m0 1.7h0m0 2.6h0m0-4.7h0m.1 3.7h0m0-.9h0m.3 2.4h0m.1-3.2h0m0 2.4h0m0-2.7h0m.1-.1h0m.2 2.5h0m0 .7h0m.2-3h0m0 2.1h0m0-.8h0m.1-1.9h0m0-.9h0m.1 4.4h0m0-3.5h0m.1-.9h0m.1 2.5h0m0-3.5h0m.1 5.9h0m0-.6h0m.2-6.3h0m.1 .1h0m0 1.8h0m.1 .8h0m.1-1.3h0m.2 3.6h0m0-1.1h0m.1-3.9h0m.2 4.7h0m.1-3.4h0m.1 2h0m.1 .1h0m.1-.6h0m.3 1.1h0m0 1.5h0m.2-4.3h0m.1 4.9h0m0-1.4h0m0 .7h0m0-2.1h0m.3-1.6h0m.2 .4h0m0 1.6h0m.2 .5h0m0 1.9h0m.1-1.4h0m0 .7h0m.1-1.6h0m.1-.9h0m.1 1.5h0m.1-1.8h0m.2 1.3h0m0-.8h0m.1 1.6h0m.2 .5h0m.1 1.9h0m.1-1.3h0m.3-1h0m0 .4h0m0-1.8h0m0 1.8h0m0-1.4h0m.4 2h0m.1-.3h0m0-11.4h0m0 11.8h0m.1-19.3h0m.1 8.6h0m0 9.6h0m0 .7h0m0-1.8h0m.2-12.9h0m0 2.1h0m0 2h0m.1 11.1h0m0 .7h0m0-9h0m0 7.8h0m0-.6h0m.1-15.6h0m0 .2h0m0 1.2h0m.1-2h0m0 17.2h0m0-19.9h0m0 7.5h0m0 11.8h0m0-6.9h0m0 8.5h0m.2-11.9h0m0 10.8h0m.1-3h0m0 2.6h0m.1-13.7h0m0 8.5h0m0 5.6h0m0-7.8h0m.1 3.3h0m0-2.9h0m0 5h0m.1 2.6h0m0-.7h0m.1-14.6h0m.1 12.2h0m0-3.5h0m.2 4.5h0m0 .8h0m.1 1h0m.1-6.2h0m.1-2.3h0m0-3.2h0m0 1.5h0m.1 10.1h0m.1-2.6h0m0 .4h0m0-.5h0m.2 .6h0m.1 .6h0m0 1.3h0m.2-2.6h0m.2 1.8h0m.1 2h0m0-1.8h0m.1-.6h0m0 1.8h0m.3-.7h0m.2-1.3h0m.2 1.4h0m.1-1.3h0m0 1.3h0m.1-1.4h0m.2 .6h0m0 1.7h0m0-.2h0m0-1.8h0m.3 .7h0m0 1.8h0m.3-.4h0m.1-.4h0m.1-.1h0m.1-.7h0m.2 1.1h0m0 .2h0m0 .6h0m.2-1h0m.1-1.4h0m0-5.7h0m0 1.6h0m.1 5.6h0m0-1.3h0m.1-8.1h0m.2 9h0m0-6.2h0m.1 4.6h0m0 .9h0m0-1.6h0m.3-1.5h0m0 .3h0m.1-.4h0m0 3.5h0m.1-3.6h0m0 2h0m0-2h0m.1-.4h0m.1-12.9h0m0-1.1h0m0 5.1h0m0 .2h0m.1 10.7h0m0-1.3h0m0-12.3h0m.1 12.4h0m.1 1.8h0m0-.7h0m0-10.7h0m.1 10.1h0m0-1.2h0m0-.8h0m0 4.5h0m.1-12.3h0m0 8.2h0m0-6.8h0m0 7.5h0m.2 3.7h0m0 .7h0m0-3.6h0m.1-.7h0m.1 4.7h0m0-.5h0m.3 .4h0m.2 .1h0m0 0h0m.1 .3h0m.4-.5h0m0 .3h0m0-.4h0m.1 .2h0m.1 0h0m0-.3h0m.1-1h0m.2 1.4h0m0-1.6h0m.1 .1h0m.3-.1h0m0 1.3h0m.1-2.6h0m0-.9h0m0 3.3h0m0-1.8h0m.2-1.9h0m0 3.1h0m.3-2.4h0m0 1.5h0m0-.5h0m.1 1.6h0m.3-1.9h0m.1 .3h0m.1 0h0m0 .1h0m0-16.8h0m0 .9h0m.1 3.7h0m.1 13.3h0m0-21.6h0m.1 8.9h0m0 11.9h0m0-19h0m.1 20.9h0m0-.7h0m0-12.2h0m.1-9.4h0m0 4h0m0 4.7h0m0-2.5h0m0 16.3h0m0-.2h0m0-.1h0m0-33.2h0m.1 20.7h0m.1-6.5h0m0-7.7h0m0-5.5h0m0 32.3h0m.1-24.4h0m0 2.3h0m0-1.5h0m0 7.6h0m0 16.5h0m0-9.6h0m.1-15.1h0m.1 22.2h0m0-5.1h0m0-10h0m0 15.3h0m0-2h0m.1-4.9h0m0 3.3h0m0-10.5h0m.1 16.3h0m0-32.2h0m0 32.3h0m.1-.2h0m0 .1h0m0-5h0m.1 .4h0m0-24.2h0m.1 28.6h0m0-.1h0m.1-26.2h0m0 24.8h0m0 1.7h0m.1-1.4h0m.1-.5h0m.4 1.9h0m0-1.5h0m.1 .2h0m0 .8h0m.2 .2h0m.1-1.3h0m.1 .8h0m0 .4h0m.2 .1h0m.1-1h0m.1 .1h0m0 .1h0m.1 1.1h0m.3-.9h0m0 1.2h0m.1-.9h0m0-.2h0m.4 .3h0m0 0h0m0-.2h0m.3 .1h0m0 .5h0m.2-.5h0m.1-.2h0m.2 .9h0m.2 .2h0m0-1h0m0 .8h0m0-.1h0m.1 .2h0m.1-.5h0m.2 .2h0m.2-.1h0m.2 .1h0m0 .1h0m.2-.1h0m.1 .3h0m0-.4h0m0-.1h0m.3 .2h0m.2-1.2h0m.1 0h0m0-5.5h0m0 6.6h0m.1 .2h0m.1-1.2h0m0 .3h0m.1 1h0m0-1.5h0m0-2.2h0m.2-3.1h0m0 7h0m0-7h0m0 5.2h0m.1 .5h0m.1-1.5h0m0 2.2h0m0 0h0m.1-2.6h0m0-.5h0m.1-.5h0m0-.3h0m0-2h0m0 6h0m.1-6.4h0m0 .2h0m.1 5.4h0m0-.9h0m.1-2.5h0m0-.5h0m0 3.9h0m.2 .7h0m.2-.8h0m0-6.4h0m0 7.3h0m.1 .3h0m0-.9h0m.1-3.6h0m.1 3.7h0m0-2h0m.1 2.8h0m.3-.7h0m0 .4h0m.1-.5h0m.1 1h0m0-.3h0m0-.2h0m0-.6h0m.3 .7h0m0-1h0m.3 .5h0m.1 .6h0m0 .1h0m.1-.3h0m.1-.8h0m.1 .2h0m.1-6.9h0m0-.1h0m0-7.3h0m0 13.1h0m0 1.6h0m0-.3h0m.1-15.9h0m0 15.9h0m.1-1h0m0-5.5h0m0-13.5h0m0 18.2h0m.1-27.1h0m0 18.3h0m0 9.3h0m0-26.8h0m.1 26.7h0m0-24.3h0m0 8.8h0m0-14.9h0m.1 24.2h0m0-25.3h0m0 21h0m0 3.9h0m.1 1.9h0m0-20.7h0m0 .4h0m.1 24.1h0m0-24.7h0m0 25.1h0m0-22.2h0m0 19.4h0m0-9.4h0m0 13.8h0m.1-34h0m0 10.3h0m0 3h0m.1-.3h0m0-3.4h0m0-.8h0m0 .9h0m0 3.5h0m.1 21.6h0m0-3.1h0m.1-20.9h0m0 18.1h0m.1 4.2h0m.1 1.7h0m.1-1.8h0m.2-4.4h0m0 .1h0m.2 4h0m.2-2.7h0m0 2h0m.1-1.8h0m.1 4.4h0m0-5.1h0m.1 1.2h0m.4 .4h0m0 1.7h0m.1 1.3h0m.1 1h0m0-1.6h0m.3 .9h0m0 .9h0m.1 0h0m.2-1h0m0 .3h0m.3 .1h0m.2 .2h0m0-.1h0m0-.3h0m0-.7h0m.1 .5h0m.1 .4h0m.2-.3h0m.1 .1h0m.2 0h0m0 .6h0m.1-.1h0m.1-16.1h0m0 15.7h0m0-16.5h0m0-10.6h0m0 16.1h0m0 7.9h0m0 2.3h0m.1-25.2h0m0 9.3h0m0 11.7h0m0-14.5h0m0 19.5h0m0 0h0m0-24.6h0m.1 22.6h0m0-4.6h0m0-.2h0m0-17.2h0m0 1.6h0m0 18h0m0-3.9h0m.1 8.7h0m0-21.4h0m0 21.1h0m0-18h0m0-7.6h0m.1 12.7h0m0-1.8h0m0 5.3h0m0-7.6h0m.1 16.8h0m0 0h0m0-14.8h0m0 13.4h0m.1-4.7h0m0 6.4h0m0-27.7h0m0-1.7h0m0 22.6h0m0 .8h0m.1-5.1h0m.1-23.9h0m.1 34h0m0-2.8h0m0-2.9h0m0 6.9h0m0-12.7h0m.1 5.5h0m0 .4h0m.1 6.9h0m0-3.8h0m0-.2h0m.1 4.1h0m0-1.2h0m.1-.3h0m.3 .7h0m0 0h0m.1 .2h0m.1-.8h0m.1-.1h0m0 1.1h0m.2-.8h0m0 .4h0m0-.2h0m.2-1.4h0m0 .9h0m.1-1.4h0m.2 .8h0m.2 .6h0m.1-2.3h0m0 3.5h0m.3-3.8h0m0 1.2h0m.1-.8h0m.2 1.1h0m0-.2h0m.1-1.3h0m.1 2.5h0m.2 .3h0m0 .8h0m0-1.3h0m.3 1.2h0m0-.8h0m0 .3h0m.2 .1h0m.3 .6h0m.2-.2h0m0 .5h0m.1-.7h0m0 .2h0m.1 .2h0m0 .2h0m.4 .2h0m.1-1.1h0m.1 .5h0m0 .3h0m.1-.6h0m0 .5h0m.4-.2h0m.1 .3h0m0-.3h0m.2 .1h0m.1 .1h0m0 .5h0m.2-.2h0m.2-.6h0m0-1.7h0m.1 1.7h0m0-1.5h0m.1 1.2h0m.2-5.2h0m.2 1.2h0m.1 .6h0m.1-1.4h0m.1 .1h0m.2 2.2h0m.1-2.7h0m.1 .3h0m0 2.4h0m.1-.3h0m.1-1h0m.1-.2h0m.1 .2h0m.3 1.4h0m.1-.5h0m.1 .4h0m.1-.4h0m0 2.6h0m0-.2h0m.2-2h0m.2 .8h0m.2 .7h0m.1-1.6h0m.1 3.3h0m0-2.3h0m.1-.1h0m0-1.1h0m.2 3.7h0m.2-2.9h0m0 1.8h0m.1-1.4h0m.2 1.8h0m.1-.7h0m0 0h0m.1 .6h0m.2-.1h0m.2-.3h0m0-.1h0m0 .5h0m.2-1h0m.1 .8h0m.1 .7h0m.2-3h0m.1-2.8h0m0 2.7h0m.1-1.7h0m.2 3.6h0m0-3.5h0m0 3.4h0m.4-3.7h0m0 .9h0m.1 2h0m.1-1.4h0m.1-.4h0m.2 2h0m.2-1.6h0m.1 2.1h0m0-1.9h0m.3 1h0m0 1.1h0m.1 1.6h0m0-.1h0m.1-.8h0m0-.2h0m.1-.2h0m.1-3.3h0m.1 1.9h0m.1 1.5h0m.1 .1h0m0-8.6h0m0 8.6h0m.1-.7h0m0-.6h0m.1 2.4h0m0-1h0m0-.2h0m.2-3.1h0m0 3.1h0m.1-3.8h0m0 3.9h0m.1-1.7h0m.1 1.2h0m0-1.6h0m.2-1h0m0 .3h0m.2-.5h0m0-.2h0m0-.3h0m.1 2.6h0m0-4.8h0m0-2.2h0m0 6.8h0m.1-.5h0m0 2.6h0m.1-5.2h0m0 1.6h0m.1-6.6h0m0 .3h0m.2 10.1h0m0-13.3h0m0 3.3h0m0 8.9h0m0-16.7h0m0 13.8h0m0 .2h0m0-.3h0m.1-15.9h0m0 18.6h0m.1-1.8h0m0-.2h0m0-1.3h0m0-2.9h0m0 7.8h0m0-16.4h0m.1 14.8h0m0-12.5h0m0-1h0m0 8.6h0m0-11.3h0m0 13.3h0m0 .8h0m.1-10.4h0m0-2h0m0 7.4h0m0 7.2h0m0-6.4h0m.1-6.4h0m0 12.4h0m.1 1h0m0-12.5h0m0-2h0m0 2h0m.1 3.5h0m0 7.9h0m0-2.8h0m0 2.4h0m0 2h0m.2-1.1h0m0 .3h0m0 .1h0m.1-13h0m.1 13.2h0m0-13h0m0 6.7h0m.1-5.7h0m0 11.9h0m.1 .3h0m0 0h0m.2-.5h0m0 .2h0m0 1.2h0m.1-1.6h0m.2 1.2h0m.1 0h0m.1-1.5h0m.1-.6h0m0 .5h0m.2 1.1h0m.1-.1h0m.2-2.2h0m.1 1.7h0m.3-1.5h0m0 1.6h0m.1-.9h0m0-.9h0m.3 1.8h0m0-1.8h0m.1 1.9h0m0-1.7h0m.2-2.9h0m0 3.9h0m.2-2.5h0m.1 1.9h0m.1 .4h0m0 1.1h0m.2-6h0m.1 .8h0m.1-.8h0m0 3.4h0m0 2.4h0m.1-4.3h0m.2-4.1h0m.1 3h0m0-1h0m0 3.3h0m.1-.8h0m0 .7h0m0-1.9h0m0-.8h0m0-.5h0m.2 1.8h0m.1 4.9h0m.1-5h0m0 1h0m.1 2h0m.1-4h0m0 4.1h0m.1-1.3h0m0 0h0m.2-2.9h0m0 .9h0m.1 2.7h0m0-.8h0m.1 3.7h0m0-1.8h0m0-3.9h0m.1-2.1h0m.3 2.9h0m0 3.8h0m.1-4h0m0 1.4h0m0 3.3h0m0-22.9h0m.1 17.6h0m0-2.1h0m.1 5.4h0m0-.2h0m0-24.4h0m.1 18.1h0m0 2.4h0m0 3.1h0m.1-24h0m.1 22.3h0m0-4.5h0m0-3.9h0m0-7.4h0m.1-10.1h0m0 27.2h0m0 .7h0m0-.5h0m0-19h0m.1 18.3h0m.1-7.3h0m0 8h0m0-17.1h0m0 15.2h0m.1-1.9h0m0 5.6h0m0-5.1h0m0 1.8h0m.1-1h0m.2 4.9h0m.1-5.2h0m0-1.1h0m.4 3h0m0-.2h0m0-2.7h0m.3 2.4h0m0 2.3h0m0 2.2h0m.1-1.5h0m.1 2.3h0m.3-2h0m0 1h0m.1 .2h0m.2 .4h0m.1-1.7h0m.1 .1h0m0-.3h0m.2 2.3h0m.1-3h0m.1 .6h0m0-.8h0m.1-.8h0m0 2.7h0m0-1.5h0m.1-29.6h0m0 3h0m0 10.5h0m0-12.7h0m.1 20.3h0m0-20.2h0m0 27.4h0m0 .6h0m.1-2.7h0m.1 4.7h0m0-16.7h0m0-5.4h0m.1 10.7h0m0 9.1h0m.1 2.5h0m0-1.5h0m0-2.1h0m0-11.6h0m0 .6h0m.1-8.3h0m0 22.9h0m0-12.3h0m.1 11.2h0m.1-1.3h0m.1 .5h0m0 1.5h0m.2-1.7h0m.2 .2h0m.1 1.6h0m0-1.1h0m.1 .7h0m.1 2.1h0m.3-2.2h0m0 .5h0m.1-.4h0m.1 1.9h0m0-.4h0m.2-.6h0m.1-.5h0m0 .1h0m0 0h0m.2 .8h0m.2 .1h0m.1-.6h0m.3-.3h0m.1-.2h0m0 1.5h0m.3-.5h0m0 .8h0m.1-.2h0m0 .1h0m.4-1h0m0 0h0m0 .6h0m.1-.4h0m0 0h0m.3 .3h0m.2 .1h0m0-.5h0m.1-.8h0m0-1.6h0m.2 1.4h0m.1-1.5h0m.1 .9h0m0 2.6h0m.2-1.9h0m.2 0h0m.1-.9h0m0-.7h0m.1 .4h0m.1-2h0m0 2.9h0m.1 1.9h0m0-2.1h0m.2-.2h0m.1-2.3h0m0 4h0m.1-4h0m.1 2.6h0m.2-.9h0m.1 2.3h0m0-6.4h0m0 5.6h0m0 1.4h0m0-13.3h0m0 4.3h0m.1 1.1h0m0 5.9h0m0 .2h0m0-1.6h0m.1-1.5h0m0-2.7h0m0 7.2h0m0-4.9h0m0-1.6h0m0 .4h0m0 2.5h0m.1-18.8h0m0 .6h0m0 12.4h0m.1-18.4h0m0-1.7h0m0-3h0m.1 5.2h0m0 7h0m0 14.4h0m.1-21.1h0m0 27.1h0m.1-16.9h0m0-12.4h0m0-4.7h0m0 .5h0m0-1.3h0m0 31.3h0m0-11.9h0m0-16.4h0m.1 31.3h0m0-16.9h0m.1 14.4h0m0-33.1h0m0 3.3h0m0 26.7h0m0 2.1h0m.1 .3h0m0-3.3h0m0-8.9h0m0 15.6h0m.1-3.7h0m0-22.8h0m0 .6h0m0 12.5h0m0 7.6h0m0 .4h0m.1-28.3h0m0 31.7h0m0-3.7h0m0-14.1h0m0 15.9h0m.1 4.2h0m0-4.9h0m.2-5h0m0 4.1h0m.1 4.8h0m.1-6.2h0m0 2.2h0m.1-2.1h0m.1 3.7h0m0-2.5h0m0-1.5h0m.1 5.1h0m.1-.6h0m0 3.3h0m0-3.5h0m.3 1.9h0m.2-1.2h0m0 .9h0m.1 .6h0m.2 .4h0m.1-3.1h0m.1-1.4h0m.1 2.4h0m.2-2.3h0m.1 3.7h0m.1-.6h0m0-.1h0m0-2.8h0m.1 2.6h0m.1-1.2h0m0 1.4h0m0 2.7h0m.2-5.1h0m.1-.2h0m0 1.5h0m0 2.1h0m0-3.9h0m.1 2.7h0m0 .1h0m.1 2.3h0m.2-6.7h0m.1 1.3h0m.1-6.4h0m0 2.2h0m0 7.9h0m0-1.3h0m0-.6h0m.1-8.8h0m0 11.2h0m0-2.4h0m0-11.1h0m.1 10h0m0-2h0m0 3.9h0m0-9.9h0m0 5.2h0m.1 .4h0m0-3.1h0m0 .4h0m.1 2.2h0m0 2.2h0m0-.4h0m0-.2h0m.1 2.5h0m0-10.5h0m0 3.8h0m0-2.7h0m0 1.8h0m.1-.3h0m0-2.4h0m0 5.5h0m0 7.7h0m0-9.4h0m0-6h0m0 7.3h0m0 8h0m.1-4.5h0m.1-1.3h0m0-.9h0m0 5.2h0m0-11h0m0 7.7h0m0-3.4h0m0-.1h0m0 5h0m.1-.4h0m0-.5h0m0-.3h0m.1-9.1h0m0 14h0m0-5.7h0m0-4.4h0m0-11.1h0m0 18.6h0m0-4h0m0 2.3h0m0 4.4h0m.1-32.8h0m0 32.1h0m0-5.8h0m0-29.7h0m0 31.9h0m0 4.8h0m.1-19h0m0 13.4h0m0 4.8h0m.1-21.8h0m0 21.2h0m0-14.1h0m0 9.6h0m0-26.7h0m0-4.3h0m0 20.9h0m0-6.4h0m.1 21.5h0m0-10.6h0m0-10.3h0m0-14.2h0m0-.8h0m0 35.4h0m.1-35.8h0m0 28.6h0m0 5.7h0m0-3.8h0m0-.5h0m0-.6h0m0 8h0m.1-3.1h0m0-29.6h0m0 10h0m0-19.9h0m0 27h0m0 .3h0m0 14.8h0m0-3.7h0m.1-9.1h0m0-8.1h0m0-4.7h0m0 8.1h0m0 13.6h0m0-.3h0m0 3.3h0m0 0h0m0-38.7h0m.1 5h0m0 29.1h0m0 4.3h0m0-12.7h0m0 8.6h0m.1-24.9h0m0 5.2h0m0-13.8h0m0 24.3h0m0 7.5h0m0-6.2h0m0-22.6h0m0 3.6h0m0 18.3h0m0-1.6h0m.1-2h0m0 11.4h0m0 5.6h0m0-32.5h0m0 15.1h0m0 13.7h0m0-32.8h0m0 21.5h0m0 2h0m0 12.5h0m0-14.4h0m0 3.5h0m0-3.8h0m.1 12h0m0 3.4h0m0-13.9h0m0 .2h0m0-24.3h0m0 29.3h0m0-5h0m0-1.8h0m0 14.3h0m0-8.9h0m0 .2h0m0 5.2h0m0-12h0m0 11.6h0m0 4.7h0m0-40h0m.1 20.2h0m0 12.1h0m0-.8h0m0 6.4h0m0-6.6h0m0 8.3h0m0-30.9h0m0 11.8h0m0 19.2h0m.1-18.2h0m0 17.7h0m0-.1h0m0-1.1h0m0-9.1h0m0-2.9h0m.1-.6h0m0 2.5h0m0-10.5h0m0 17.4h0m0-2.1h0m.1 1.4h0m0 5h0m0-17.1h0m0-5.6h0m.1 12.3h0m0 2h0m0 3.8h0m.1 5.4h0m0-5.8h0m.1-.8h0m0 3h0m0-6.5h0m0-7h0m0 12.9h0m0-4.6h0m0 9.1h0m.1-9.4h0m0-8.9h0m0 13.3h0m0-8.9h0m.1 .3h0m0 9.8h0m0-15.6h0m0 6.1h0m.1 12.9h0m0-13.3h0m0 14.4h0m0-.9h0m0-6.2h0m0 .1h0m.1 6.9h0m.1-1.1h0m.1-9.5h0m.1 10.4h0m0-.7h0m.1-.1h0m.1 1h0m.2-.4h0m.2-.4h0m.1 .6h0m0-1h0m.1 1.2h0m.1-.6h0m.1-1.8h0m0 2h0m.2 0h0m0-.9h0m.2-.5h0m.2-1h0m.2 1.8h0m.1-1.4h0m0 .3h0m.1-.8h0m.1 .7h0m.2 .9h0m0-.6h0m.1 .7h0m0-1.3h0m.1 .9h0m.2 .1h0m0 1h0m.3-.3h0m.1-.6h0m.1-.2h0m0 .9h0m.1-18.3h0m0 18.4h0m.1-13.9h0m.1 14.7h0m0-14h0m.1 .6h0m0 11.8h0m0-5.5h0m0 1.8h0m0-16.6h0m.1 14.2h0m0-15.8h0m0 13.9h0m0 8h0m0-.1h0m.1-8.9h0m0-16.6h0m.1 25.6h0m0-12h0m0 9.6h0m0 3.6h0m0-6h0m0 5.1h0m0-7.8h0m0-1.7h0m.1 3.1h0m0 3.9h0m0-9.7h0m0-7.6h0m0 6.4h0m.1-11.6h0m0 21.9h0m.1-15.8h0m0-7.8h0m0 27.1h0m0-6.5h0m0 5.9h0m0-32.5h0m0 3.4h0m.1 12.4h0m0 14.9h0m0-14.5h0m0 16.9h0m.1-24.1h0m0 5.8h0m0 2.9h0m0 2.5h0m0-.2h0m0-5.1h0m0 3h0m0-4.7h0m0 15.7h0m0-.2h0m.1 4.4h0m0-.7h0m0-2.9h0m0-21.2h0m0 3.4h0m0 13.2h0m.1-9h0m0 14h0m.1-10.7h0m0-7.1h0m.1-9.1h0m0 1.1h0m0 1.9h0m.1 27.2h0m0-.7h0m.1 .7h0m0-19.3h0m0-.4h0m0 2h0m0-8.3h0m.1 11.7h0m0 13.5h0m.1 1.7h0m0-.9h0m0-.7h0m.1-1.3h0m.1-2.4h0m.1 3.7h0m.1 .3h0m.1-.8h0m0 .3h0m.3-1.5h0m0 1h0m0-1.4h0m.1 2.2h0m.1 .9h0m0-.9h0m0 1.1h0m0-3.8h0m.1 3.1h0m0-.1h0m0-.6h0m.1-2.6h0m.2-.5h0m.1 3.2h0m.1 .4h0m0-3.4h0m0 3.1h0m0-6.1h0m.1 5.2h0m0 1.8h0m.2-1.2h0m.1 1.3h0m0-2.7h0m0 0h0m.1 .7h0m.1 1.4h0m0-5.9h0m.1 3.3h0m.1 1.3h0m0 2.1h0m0-4.2h0m.1 3.1h0m.2-3h0m0-.4h0m.1 1.9h0m0 .8h0m.1-2.5h0m.1 2.5h0m.1 1.4h0m0-2.7h0m.2 1.4h0m0-1h0m.2 1h0m0-.7h0m.1-1.1h0m.3 2h0m.1-1.5h0m0 .7h0m0 1.2h0m.2-.5h0m0-1.3h0m.2 .8h0m.1 .1h0m.2-.2h0m0-.1h0m.3 1.7h0m0-1.9h0m0-12.7h0m0 13.1h0m.1-11.3h0m0 10.6h0m0-3h0m.1 5.8h0m.1-2.2h0m0-.2h0m0-8.3h0m.1 8.5h0m0 1.5h0m.1-1.1h0m0 1.9h0m.1-8.9h0m0 1.8h0m0-8.9h0m.2 14.5h0m.1-2.3h0m.1 2.9h0m0-1h0m0-.3h0m.1 .5h0m.1 .9h0m.2 .8h0m.1-1.4h0m0 0h0m.2 .1h0m.1 .8h0m0-.5h0m0-4.2h0m.3-6.6h0m0 9.4h0m0-3.1h0m.2-5.1h0m0 3.6h0m.1-.4h0m0 2.7h0m0-3.8h0m0 4.9h0m.1-6.6h0m0-.1h0m0-2.6h0m.1 9h0m0-.3h0m.1 .4h0m0-2h0m0 4.9h0m.1-3.6h0m0-7.4h0m.1 7.7h0m.2-2.7h0m0 1.5h0m0-.2h0m0 2.8h0m0-8.9h0m0 9.9h0m.1-1.2h0m.1-5h0m0-3.7h0m.2 8.1h0m0-3.3h0m0 4.3h0m.1-5.7h0m0 2h0m.1 .8h0m.1 3.8h0m0-2.2h0m.2 2.5h0m0-1.3h0m0-3.1h0m.1 1.2h0m.1-2.9h0m.2-1h0m.1 4.4h0m.2 1h0m.1-1.7h0m0 4.1h0m.1 .8h0m0-5.7h0m0 4.5h0m.1 .8h0m.1 .2h0m.1-2.2h0m0 2.4h0m.1-4.3h0m.2 3.6h0m.1 .8h0m0-.7h0m.2-1.9h0m.1 .7h0m.1 1.3h0m.1-.5h0m.1-.1h0m0 .6h0m.4-1.1h0m.1 1.6h0m0-.6h0m0-.1h0m.3 .2h0m0 .4h0m.1-.4h0m0 .2h0m.1-.2h0m.3 .3h0m.2-.2h0m0 .2h0m.1 .2h0m.1-.4h0m.1 .1h0m.2 .2h0m0-.1h0m.1 .3h0m.2-.3h0m.1 .3h0m.1-.1h0m.1-.3h0m.1 .4h0m0-.1h0m.1-.3h0m0-.1h0m.3 .3h0m0 0h0m.1-2.7h0m.1 2.9h0m.1-.4h0m.1-4.3h0m.1 3.3h0m0-3.5h0m0 3.8h0m0 0h0m.2-1.6h0m0-1h0m.1 .6h0m0-7.4h0m0 5.1h0m0 2.8h0m0-7.5h0m.3-.4h0m0 6.6h0m.1-2.8h0m0 6.4h0m0-7.8h0m0 5.9h0m.1-5.8h0m.2 6h0m0 .6h0m0-14.7h0m0 15.9h0m0-16.6h0m0 4.1h0m0 6h0m0 4.2h0m0-10.3h0m.1-41.8h0m0 18.5h0m0 36.2h0m0-13.9h0m0 2.3h0m.1-30.4h0m0 34.9h0m0-41.8h0m0 42.7h0m0-21.4h0m0-21.3h0m0 16h0m.1 17.2h0m0-6.5h0m0 20.6h0m0-59.8h0m0 57.4h0m0-5.8h0m0 9.4h0m0-20.2h0m0 5.2h0m.1 2.5h0m0 3.1h0m0 4.9h0m0-11.2h0m0 14.9h0m0 1.2h0m0-18.2h0m0 16.1h0m0-50.1h0m0 51h0m.1-13.5h0m0 12.5h0m0-11.2h0m0-31.6h0m0 43.8h0m0-30.6h0m0 30.3h0m0-13.7h0m0 15h0m0-4.4h0m0-62.1h0m0 23.1h0m0 35.4h0m.1 6.5h0m0-47.4h0m0-1.8h0m0-1.4h0m0 4.7h0m0 28.1h0m0 9.9h0m0 7.5h0m.1-50.1h0m0 39.1h0m0-27.4h0m0 27h0m.1-34.1h0m0 22.3h0m.1 24.7h0m0 .2h0m0-28.1h0m0-23.6h0m0 42.8h0m0-40.1h0m0 43.9h0m0-15.8h0m0-36.2h0m.1 21.2h0m0-10.9h0m0 36.1h0m0-40.6h0m0 36.1h0m0 8.7h0m0 1.9h0m0 4.5h0m0-17.5h0m0 15.7h0m0-56.9h0m0 14.1h0m.1 44.1h0m0-24.7h0m0 17.5h0m0-.8h0m0 .3h0m.1-2.8h0m0 7.3h0m0 .9h0m0-18.1h0m0 9.9h0m0 11h0m0-4.8h0m.1 2.2h0m0-12.3h0m.1 7.2h0m0 8.1h0m0-4.5h0m0 4.7h0m0-.3h0m0-6.1h0m.1 4.2h0m0-6.2h0m0 2h0m.1-1.6h0m0 7.4h0m.1-18.2h0m0 17.6h0m0 1h0m.1-2.3h0m0-3.1h0m0 5.2h0m0-.3h0m.1 .1h0m0-13.5h0m.1 11.9h0m0 1.7h0m.3-.3h0m0-9.2h0m.1 8.7h0m0 .4h0m.2-1.6h0m0 1.4h0m.1-1.2h0m.1-1.7h0m0 1.8h0m.1-4h0m0 6h0m.1-.1h0m0-1.3h0m.2-.5h0m0 .1h0m.1-.3h0m.1-.4h0m.3 2.3h0m0-.6h0m0-1.9h0m.1 1.8h0m.3-1.1h0m.1 2h0m0-.5h0m0-1.1h0m0 0h0m.2 1.1h0m.1 0h0m0 0h0m.2-.4h0m0 .6h0m.3-.3h0m0 .4h0m.3-.2h0m0 .3h0m.2 0h0m0-.2h0m.2-1h0m0 .8h0m.3 .3h0m0 .1h0m.1-.4h0m.1-.3h0m.1 .4h0m.1-.1h0m0-.1h0m.1 .1h0m0-.4h0m.1 .4h0m.2-.5h0m0 .6h0m.1-1.2h0m.2 .5h0m.5 .6h0m0 .1h0m.1-1.9h0m0 .7h0m.1-.9h0m0 .6h0m.3-.4h0m0 0h0m0 .1h0m.2-1h0m.1 1.6h0m.1-1.3h0m.1 .8h0m.1 1.8h0m.1-.1h0m0 .2h0m.3 .2h0m0-.1h0m.2-3.4h0m.1 3.3h0m0-.2h0m.1 .2h0m.2-.1h0m.1 0h0m.1-.7h0m0 .7h0m.1 0h0m.2 .3h0m0-.1h0m0-.3h0m0 .1h0m.4 .5h0m0-.1h0m.1-1.7h0m.1 1.2h0m0 .1h0m.1-2.1h0m.1 2.4h0m.1-.3h0m.1 0h0m0 0h0m0 .4h0m.1-.4h0m.2-.2h0m.2-2.5h0m0-1.9h0m.1 5h0m.2-.7h0m0-.6h0m.1-1.5h0m0 1.9h0m0 .2h0m.2-.4h0m0 0h0m0-5.9h0m.1 .1h0m0 6h0m.2-.4h0m0 .8h0m.3 .1h0m.1-.7h0m.2-.2h0m0 .4h0m.1-.5h0m0-.1h0m.1 1h0m.1 .2h0m0 .2h0m.3-.2h0m.1-.1h0m.1 0h0m0-.1h0m.1 .4h0m.1 0h0m0-.4h0m.1-1.8h0m.1-3.5h0m0 2h0m0 3.3h0m.1 .6h0m.1-1h0m0-15.4h0m.1 16.2h0m0-.4h0m.1-6.6h0m0 2h0m0-3.8h0m0 7h0m0-2.6h0m0 4.1h0m.1-8.3h0m0-4.2h0m0 10.7h0m0-4.6h0m.1 2.7h0m0-.6h0m.1 3.9h0m.1-14.2h0m0 13.4h0m.1-10.5h0m0 10.3h0m.1-11.9h0m0 10.6h0m.2 1.7h0m.1-1.9h0m0 .7h0m.3 .2h0m0-.9h0m.1 1.1h0m0-.8h0m.3 .5h0m.1 1.3h0m.1-.9h0m.2 .1h0m0 1.6h0m.2-.3h0m0-.5h0m.2 .6h0m0 0h0m.1-.1h0m.1 0h0m.1 .3h0m.1-.2h0m.3-.1h0m0 .1h0m.1-.1h0m.2 .2h0m0 .3h0m0-.4h0m.1 .4h0m.2 0h0m.2-.1h0m0-.2h0m0 0h0m.2 .3h0m.1 .1h0m.2-.5h0m.1 .1h0m.1 .5h0m.3-.2h0m.1 .2h0m0-.5h0m.2 .3h0m0-.3h0m.1 .1h0m.1-2.1h0m0-1.2h0m.1 3.3h0m0-4.9h0m.1 .7h0m0 4.5h0m0-.4h0m.1 .2h0m.1 0h0m.3 .2h0m0 0h0m0-.8h0m0 .8h0m.1-.2h0m0-8.6h0m.1 .2h0m0 8.5h0m0 .3h0m0-.6h0m.1-.1h0m.1-.8h0m.2-.4h0m0 .6h0m.1-.6h0m.4-.1h0m0 .1h0m.1 .8h0m.2-.2h0m.2-1h0m0 .4h0m.1-.2h0m.1 .2h0m.1 .4h0m.2-.6h0m0 .1h0m0 .5h0m.2-.6h0m0 .4h0m0 .5h0m0 .7h0m0-2.2h0m.1 2h0m0 .1h0m0-5.9h0m.1 5.7h0m0-.4h0m0-.2h0m.1-3.4h0m.1 3.9h0m.1 0h0m0-1.4h0m.1-3.7h0m0 4.4h0m.1 1.4h0m.1-.8h0m0 .1h0m.1-.4h0m0 .2h0m.3-.2h0m.2-.1h0m0 1.1h0m.1-.3h0m0-1h0m.1-.2h0m.1-.6h0m.3 0h0m.1 .8h0m0 .2h0m.2 1.3h0m0-.9h0m0-.5h0m.3-.7h0m.2-.1h0m.1 1.9h0m.1-.9h0m.2-.1h0m.1-1.1h0m.1 .5h0m0-.5h0m.1 1.5h0m0-1.3h0m.2 .1h0m.1 1h0m0-.7h0m.1-.1h0m0-10.4h0m.1 6h0m.1 4.8h0m0-6h0m.1 5.9h0m0 .3h0m.1-.4h0m0-4.7h0m0-6.4h0m0 10.7h0m.1 .6h0m0-.4h0m.1-2.3h0m.1-1.7h0m0 2.3h0m.1 1.8h0m.2-1h0m.1 .1h0m.1 2h0m0-1.5h0m0 .1h0m.2 0h0m.1 .1h0m.1 1h0m0-1.3h0m.2-.1h0m.2 2.4h0m0-2.9h0m.1-.3h0m.4-.3h0m0 .6h0m.1 1.8h0m0-3.2h0m0-2.1h0m.1 5.5h0m.2-.4h0m0-1h0m0-2.4h0m.1 0h0m0 .4h0m.2 3.9h0m.1-1.7h0m0-2.6h0m0-.7h0m.1 2.8h0m0-3h0m.2 1.9h0m.1 2.1h0m.1-1.5h0m.2 .1h0m0-2.7h0m.1 2.7h0m.2 1.1h0m.1-1.1h0m.2 .1h0m.1 .2h0m.1-1.2h0m.1 .2h0m0 2.6h0m.3 0h0m.1 .4h0m0-3h0m.1 .9h0m0-1.5h0m0 2.2h0m.1-.1h0m0 1.9h0m.1-4.2h0m0 3h0m.1-.2h0m.2 1.3h0m.1-.1h0m0-.2h0m0 0h0m.1-.5h0m.1 0h0m.1 .1h0m.1 .6h0m0-.5h0m.2-3.5h0m.1 3.7h0m0 .5h0m.1-.9h0m0 .6h0m.1 0h0m.2-.6h0m.2-15.9h0m.1 13.5h0m0 2.3h0m0-.1h0m.1-2.5h0m0-1.1h0m0 3.7h0m0-2.1h0m0-5.1h0m.1 7.1h0m0-7h0m.1 1.7h0m0-1.6h0m0 6.6h0m.1-6.5h0m0-11.4h0m0 13.3h0m0-2.1h0m0 6.5h0m0-.5h0m0 1.8h0m.1-11.6h0m0 5.3h0m0 4.9h0m0-1.6h0m0-4.4h0m0 4.5h0m0-10.6h0m0 5.4h0m0 0h0m.1-2.5h0m0 5.4h0m0-1.4h0m0-8.8h0m0 15h0m0-8.2h0m.1 3.4h0m0-.8h0m0-2.9h0m0 8h0m0-.6h0m.1-5.4h0m0-4.8h0m0 3.4h0m0 2.3h0m0-11.5h0m0 13.6h0m0-16.9h0m0 19h0m.1-4.6h0m.1-4.3h0m0 8h0m0 1h0m0-8.4h0m0-5.4h0m0-3.5h0m0 17.7h0m.1 1.2h0m0 .7h0m0-1h0m0 .3h0m0-11.8h0m0-6.3h0m.1 17.7h0m0-4.7h0m.1-1.8h0m0-4.4h0m0-4.3h0m0 15.3h0m.1-5.6h0m0-1.5h0m0 7.4h0m0-.5h0m0-3.3h0m0 4.3h0m0-.3h0m0-8.9h0m.1-2.7h0m.1 6h0m0 5.2h0m.1-11.3h0m0 4.8h0m.1-2h0m0-1.4h0m0 9h0m0 .7h0m.1-.8h0m.1 .9h0m0-1.3h0m0-3.6h0m0-.2h0m0 5.6h0m0-.1h0m.1 0h0m0-5.3h0m0 .9h0m0 .5h0m0 3.1h0m.1-6h0m0 6.5h0m.1-1.4h0m0-8.3h0m.1 7.3h0m0 3.1h0m0-.3h0m0 .3h0m0-1.3h0m.1-6.4h0m0-1.8h0m.2 8.6h0m0 .1h0m0 .4h0m0-7.6h0m.1 6.9h0m0 .5h0m0-.1h0m.3 .1h0m.2 .3h0m.2-.1h0m0-.2h0m.1 .5h0m.1-.1h0m0-.4h0m.1 .2h0m.1-.2h0m.2 .3h0m.3 .1h0m.1-.1h0m.1-1.1h0m.1 .9h0m.1-1.7h0m.1 1.4h0m0-1.2h0m.1-.2h0m.1 .1h0m0 .9h0m.1-.3h0m.3-.8h0m0 2.1h0m0-1.6h0m.1-9.5h0m.1 10h0m0-5.5h0m.1 5.2h0m0 .6h0m.1-2.3h0m0-11.8h0m0 12.6h0m0-8.8h0m0 10.5h0m.1-1.6h0m0-14.1h0m0 16.2h0m.1-15.4h0m0 6.4h0m.2 8.6h0m0-2.5h0m.1 1.9h0m0-1.1h0m0 .3h0m.1-.6h0m.2-.8h0m0 1.3h0m0-1.6h0m.3 1.9h0m0 .1h0m0-3.5h0m.2 2h0m0 .5h0m.1-2.5h0m.1 3.4h0m0 .9h0m0-3.7h0m.1 3.3h0m.2-2.5h0m.1 .4h0m.1-.2h0m.1 3.7h0m0-.3h0m0-.4h0m.1 .1h0m0 .1h0m.1 .5h0m.2-.5h0m0 0h0m.1-.2h0m0-.3h0m0 .1h0m.2 .1h0m.1 .6h0m.1-.7h0m.1 .6h0m0-13.9h0m.1 3.8h0m0 9.8h0m0-22h0m.1 19.7h0m0-16.4h0m.1 5.6h0m0 10.6h0m0-19.9h0m0 3.8h0m.1 11.9h0m0 6.7h0m0-11.9h0m.1 11.9h0m0 .2h0m0-5.7h0m0 4.8h0m0-15h0m.1 8.7h0m0-8.3h0m0 14.7h0m.1-13.8h0m0 10.9h0m.1-7.2h0m0 10.5h0m.1-.3h0m0 0h0m.1-.2h0m.2 .9h0m0-.6h0m0-.3h0m.1 .2h0m.3 .2h0m.1-.4h0m0 .1h0m0 .2h0m.4 0h0m.1 .8h0m.1-.9h0m.1 .3h0m0 .4h0m.1-.9h0m.2 1.4h0m.2-1.4h0m0 .5h0m.1-.7h0m.2 .2h0m0 .6h0m.1-.5h0m.1-.3h0m0 1.3h0m.3-2.3h0m.2-22.4h0m.1 8.1h0m0 13.2h0m0 3.3h0m0-.8h0m0-22.5h0m0 23.5h0m0-1.1h0m.1-2.9h0m0-.5h0m.1-11.5h0m0-9.6h0m0 16.9h0m.1-10.1h0m0 13.2h0m0-15.8h0m0-.3h0m0-3.2h0m0 5.7h0m.1 13.4h0m0 5.3h0m0-1.3h0m.1-3h0m0-16.9h0m0 16.6h0m0 .1h0m0-17.6h0m0 22h0m0-6.7h0m0 7.3h0m0-1.6h0m0 0h0m0-3.3h0m0-3.3h0m0 4h0m.1-8.2h0m0-13.2h0m0 22.4h0m0 .7h0m0-9h0m.1-10.3h0m0 19.1h0m0-2h0m0-1h0m0 4.5h0m0-4.5h0m0-4.4h0m.1 4.1h0m0 4.5h0m0-5.2h0m.1 1.5h0m0-4.1h0m0 .9h0m0 3.5h0m.1 .3h0m.1 .8h0m.1-2.7h0m0 1.9h0m0 3.1h0m0-7.6h0m.1 6.4h0m0 2.3h0m0-3.6h0m.1 1.5h0m0 1.5h0m0 0h0m.1-8.1h0m0 4.8h0m0 1.6h0m0 .5h0m0 .8h0m.1-4.2h0m0 3.3h0m.1 .5h0m0-20.1h0m0 21.1h0m.1-44.4h0m0 41.6h0m0-20.4h0m0 14.8h0m.1-44.8h0m0 52.4h0m0-35.8h0m.1 15h0m0 20.3h0m0-53.3h0m0 5.3h0m0-3.3h0m.1 26.1h0m0 24h0m.1-5.3h0m0-18.5h0m0 17.8h0m0-16.9h0m0 24.5h0m0-67.9h0m0 66.5h0m.1-64.2h0m0 9.5h0m0 51h0m0 5.9h0m0-2h0m0-1.1h0m.1 2.9h0m0-24.8h0m0 23h0m0 2.4h0m0-44.3h0m0 35.5h0m0-44.4h0m0 49.1h0m0-5.6h0m.1-47.5h0m0 1.7h0m0 6.5h0m0 46h0m0 1.8h0m0-1.8h0m.2-44.9h0m0 28.5h0m0-3.1h0m0 12.1h0m0-5.2h0m0 4.7h0m.1 4.1h0m0-7.6h0m0 1.5h0m0 12.9h0m.1-.9h0m0-6.4h0m0 3.5h0m0 3.7h0m.1-13.3h0m0 11.4h0m.1-3.4h0m0-12.8h0m0 8.3h0m.1 3.2h0m0-6.7h0m0 .3h0m.1 3.7h0m0 5.3h0m0-3.3h0m0-10.3h0m0 14.5h0m0 2.2h0m.1 1.2h0m0-4h0m0-4.3h0m0-8.1h0m0 16.4h0m.1-15.7h0m0 13.4h0m0-20.3h0m0 3.2h0m0 14.1h0m0-10h0m0-4.7h0m0-1.8h0m0 6.9h0m0-3.2h0m0 12h0m0 4.6h0m0-18.3h0m0 18.1h0m.1-10.7h0m0 .1h0m0 5.1h0m0-6h0m0 2.3h0m0-1h0m0-7h0m0 14.9h0m0-17.3h0m0 5.5h0m0 .5h0m.1 5.8h0m0 8.7h0m0-10h0m0-6h0m0 0h0m0 7.4h0m0-10.5h0m0 16.2h0m0 .3h0m0-14.3h0m.1 12.1h0m0-5.2h0m0 4.5h0m0-8.1h0m0 11h0m0-5.1h0m0 3.9h0m.1-7.5h0m0 2.8h0m0 7.1h0m0-12.7h0m0 8.4h0m0 2.6h0m0 4.3h0m.1-4h0m0-9.7h0m0-3.9h0m0 5.3h0m0 7.4h0m0-10.7h0m0-8.8h0m.1 12.8h0m0-2.6h0m0-4.5h0m0 18.7h0m0-13.3h0m0 1.6h0m0 1.8h0m0-8.2h0m0-7.8h0m0 2.2h0m0-.6h0m0 17.7h0m0 1.4h0m.1 4h0m0-15.6h0m0-.7h0m0-5h0m0 17.6h0m0-3.3h0m0-6.6h0m0 6.3h0m0-5.7h0m0-9.4h0m0 6h0m0 12h0m0-1.2h0m0-12.1h0m.1 14.1h0m0 1h0m0-11.9h0m0 13.8h0m0 1.8h0m.1-25h0m0 23.9h0m0-18.5h0m0 16.4h0m0 3.2h0m0-3.8h0m.1-24.1h0m0 24.8h0m0 .7h0m0 1.7h0m0-20.2h0m0 20.7h0m0-11h0m0-1.6h0m0 4.3h0m0-8.4h0m.1 .9h0m0 9.1h0m0-.2h0m0-14.6h0m0 5.4h0m0 1.2h0m0 .5h0m.1 12.1h0m0 1.5h0m0-9.4h0m0-.6h0m0 6.9h0m0-10.5h0m0 7.1h0m0-12.5h0m0 18.4h0m0-23.1h0m0 22.9h0m0-.1h0m.1-9.9h0m0-7.5h0m0 7.1h0m0 6.8h0m0 5.7h0m0-4.7h0m0-3.4h0m0-17.7h0m0 13.8h0m0 9h0m.1-1.8h0m0-2.7h0m0-2.5h0m0 3.6h0m0 4.1h0m0-9.6h0m0-.5h0m0-4.6h0m0 16.9h0m0-1.8h0m.1-11.8h0m0-3.7h0m0-2.8h0m0 13.6h0m0-13.6h0m0 17.9h0m0-3.1h0m.1-11.8h0m0-6.4h0m0 17.2h0m0-2.5h0m0 7.6h0m0-12.4h0m0 11.8h0m0 1.7h0m.1-10.2h0m0-7.8h0m0 1.3h0m0-6.6h0m0 17.3h0m0-19.1h0m0 23h0m0-17.5h0m0 18.7h0m0-4.3h0m.1-12.5h0m0 11.7h0m0-2.2h0m0-13.1h0m0 5h0m0 10.7h0m0-15.1h0m0 20.2h0m0-4.5h0m0-9.8h0m0-8h0m.1 19.9h0m.2 .4h0m0-6.3h0m0 2.8h0m0-10.4h0m.1 14.7h0m0-.5h0m0 1.7h0m0-2h0m0-3.2h0m0-7.6h0m0-2.3h0m.1-1.6h0m0 6.5h0m.1-3.1h0m0-6h0m0 13.3h0m0 4.3h0m.1-8.7h0m0 7.7h0m0 .1h0m.1-9.1h0m0 3h0m0 6.3h0m0-17.5h0m0 18.9h0m0-13.1h0m.1 14.4h0m.1-12.1h0m0 11.2h0m.1-13.7h0m.1 12h0m0 2.9h0m.1-1.9h0m0 .9h0m.1-.5h0m0 .2h0m.1-.4h0m0-6h0m0 6.4h0m.2-.8h0m.1 .7h0m0-5.5h0m.1 6.6h0m0-.8h0m0 .7h0m0-6.1h0m.1 3.8h0m0-7.9h0m0 .7h0m0 2.3h0m.1 4.5h0m0 .8h0m.1-5.6h0m0 7.4h0m0-5.3h0m0 2.9h0m.1-4.7h0m0 4.1h0m.1-7.1h0m0 7.2h0m.1-1.4h0m0 3.8h0m.1-3.1h0m.1-2.8h0m0 1.2h0m.1 3.6h0m0-4.6h0m0 3.3h0m.1 3.4h0m0 .1h0m0-6.7h0m.2 1.1h0m0-1.2h0m0-.8h0m.1 .8h0m.1 4h0m0-.3h0m.1 .6h0m.3 2.2h0m0-7h0m0 4.3h0m0-3.5h0m.1 .2h0m.1 2.9h0m.1 3h0m.2-1.9h0m0-6h0m.2-.6h0m.1 0h0m0 .2h0m.2 .5h0m0 .7h0m.2-1h0m0 .2h0m.2-.5h0m0 4h0m0 4.6h0m.4-3.6h0m.1 2.1h0m0-5.8h0m0 6.5h0m.2 .1h0m.1 .2h0m0-.2h0m.1 .4h0m.1 .4h0m.1-.5h0m.2-.1h0m.1-.3h0m.2 .5h0m.1-.2h0m.1-2.8h0m0 1.8h0m.2 .9h0m.1-.3h0m.1-4h0m.3 3.6h0m0-4.1h0m.1 3.4h0m0-3.6h0m.2-.2h0m0-.1h0m.4 3.6h0m0-3.4h0m0 2.3h0m.2 1.8h0m0-.1h0m.2-1.9h0m.2 3.3h0m.1-1.3h0m0-1h0m0 2.2h0m.1 .4h0m0-1.4h0m.2-1.4h0m0 2.5h0m.1-2.2h0m0-3.6h0m.2 3.5h0m.1 1.9h0m0-3.9h0m0 4.2h0m.1-2.2h0m0 .9h0m.2-5.5h0m0 3.1h0m0 2.1h0m.2 .4h0m.2-.5h0m0 1.4h0m.1 .5h0m.1-.7h0m.2 1h0m.2-.4h0m.1 0h0m0-.4h0m.1 0h0m.2 .8h0m0-.7h0m.1-.1h0m0 .5h0m.1-.9h0m.2 .6h0m.1-1.1h0m0-2.3h0m0 1.8h0m.1 2.3h0m0-1.6h0m.1 1h0m0-1.5h0m.1-4.1h0m.1-1.9h0m0-2.7h0m0 8.5h0m0-2.9h0m.1 1.4h0m0 1.1h0m0-1.3h0m.1 3.1h0m0-5.9h0m0 3.6h0m.1-5.5h0m0 7h0m0-9.6h0m0-.8h0m0 11.8h0m.1-1.7h0m0 .9h0m.1-.3h0m0-1.3h0m.2 .7h0m0 .6h0m.2-8.2h0m0 3.4h0m0 2.8h0m.1-4.8h0m.1 6.6h0m.1-1.7h0m0-.8h0m0 3.7h0m0-7.1h0m0-2.6h0m0 8h0m.1-13h0m0 9.2h0m0-9.6h0m.1 13.6h0m0-9.1h0m0 7.8h0m0-10.7h0m.2 2.7h0m0 3.1h0m0-1h0m.1 6.9h0m0-15.7h0m0 9.8h0m0 7.7h0m0-2.3h0m0-6.8h0m.1 .8h0m0-8.9h0m0 9.3h0m0 2.7h0m0 2.5h0m0-8h0m.1 7.5h0m0 2h0m0-15h0m0 14.3h0m0-7.8h0m0-35.8h0m.1 19.1h0m0 24.4h0m0-3h0m0 3.1h0m0-5.1h0m0-12.9h0m0 5.3h0m0 8.5h0m.1 2.9h0m0-1.9h0m0-8.1h0m0 5.9h0m0 6.3h0m0-13.7h0m0-1.8h0m0-5.7h0m0-21h0m0 40.6h0m.1-1.5h0m0-53.9h0m0 17.1h0m0 32.8h0m0 4.1h0m0-35.7h0m0 29.9h0m0-22.6h0m0-2h0m0 32.1h0m.1-1.2h0m0-4.8h0m0-7.8h0m0 16.5h0m0-41.3h0m0 33.4h0m0-50.9h0m0 55.9h0m0 .2h0m.1-10.8h0m0 10.5h0m0-7.6h0m0-34.3h0m0 32.2h0m0 10.5h0m0-49.6h0m.1 38.8h0m0-24.1h0m0 .7h0m0 35.3h0m0-51h0m0 17h0m.1-15.1h0m0 47.7h0m0-9h0m0 3.4h0m0-48.2h0m0 53.7h0m.1-7.6h0m0 3.5h0m0 2h0m0 2.3h0m0 .8h0m.1-1.7h0m0-37.9h0m0 39.3h0m.2-.9h0m.1-2.6h0m.1 3.9h0m.1-4.3h0m.1 3.2h0m.2-2.4h0m0 .2h0m0 1.8h0m.4 1h0m.1-1.4h0m0 2.6h0m.1-2.4h0m.2 1.4h0m.1 .6h0m.1-1h0m0-1.6h0m.3 3.3h0m.1-1.1h0m0 .2h0m.1 1.2h0m0-1.6h0m.2 .9h0m.1-.1h0m.1-.3h0m0 .2h0" stroke="#2a74bc" stroke-width="2.4" stroke-linecap="round" fill="none"/>
<line x1="32" y1="52.5" x2="501.6" y2="52.5" stroke="#43a443" stroke-width="1.5" stroke-dasharray="5.9 5.9"/>
<line x1="32" y1="55.9" x2="501.6" y2="55.9" stroke="#2a74bc" stroke-width="1.5" stroke-dasharray="5.9 5.9"/>
<line x1="30.4" y1="13" x2="30.4" y2="185.3" stroke="#000" stroke-width="1.3"/>
<line x1="29.8" y1="185.3" x2="505" y2="185.3" stroke="#000" stroke-width="1.3"/>
<line x1="26.4" y1="178.0" x2="30.4" y2="178.0" stroke="#000" stroke-width="1.1"/>
<text x="24.5" y="182.5" font-size="12.5" font-weight="bold" text-anchor="end" fill="#000">0</text>
<line x1="26.4" y1="143.05" x2="30.4" y2="143.05" stroke="#000" stroke-width="1.1"/>
<text x="24.5" y="147.55" font-size="12.5" font-weight="bold" text-anchor="end" fill="#000">1</text>
<line x1="26.4" y1="108.1" x2="30.4" y2="108.1" stroke="#000" stroke-width="1.1"/>
<text x="24.5" y="112.6" font-size="12.5" font-weight="bold" text-anchor="end" fill="#000">2</text>
<line x1="26.4" y1="73.14999999999999" x2="30.4" y2="73.14999999999999" stroke="#000" stroke-width="1.1"/>
<text x="24.5" y="77.64999999999999" font-size="12.5" font-weight="bold" text-anchor="end" fill="#000">3</text>
<line x1="26.4" y1="38.19999999999999" x2="30.4" y2="38.19999999999999" stroke="#000" stroke-width="1.1"/>
<text x="24.5" y="42.69999999999999" font-size="12.5" font-weight="bold" text-anchor="end" fill="#000">4</text>
<line x1="41.7" y1="185.3" x2="41.7" y2="189" stroke="#000" stroke-width="1.1"/>
<g transform="translate(40.6 197.4) rotate(-20)"><text x="0" y="4.32" font-size="12" font-weight="bold" text-anchor="middle" fill="#000">chrI</text></g>
<line x1="66.6" y1="185.3" x2="66.6" y2="189" stroke="#000" stroke-width="1.1"/>
<g transform="translate(64.5 197.4) rotate(-20)"><text x="0" y="4.32" font-size="12" font-weight="bold" text-anchor="middle" fill="#000">chrII</text></g>
<line x1="90.7" y1="185.3" x2="90.7" y2="189" stroke="#000" stroke-width="1.1"/>
<g transform="translate(88 197.4) rotate(-20)"><text x="0" y="4.32" font-size="12" font-weight="bold" text-anchor="middle" fill="#000">chrIII</text></g>
<line x1="117.5" y1="185.3" x2="117.5" y2="189" stroke="#000" stroke-width="1.1"/>
<g transform="translate(115 197.4) rotate(-20)"><text x="0" y="4.32" font-size="12" font-weight="bold" text-anchor="middle" fill="#000">chrIV</text></g>
<line x1="149.8" y1="185.3" x2="149.8" y2="189" stroke="#000" stroke-width="1.1"/>
<g transform="translate(145.2 197.4) rotate(-20)"><text x="0" y="4.32" font-size="12" font-weight="bold" text-anchor="middle" fill="#000">chrV</text></g>
<line x1="167.5" y1="185.3" x2="167.5" y2="189" stroke="#000" stroke-width="1.1"/>
<g transform="translate(167.4 197.4) rotate(-20)"><text x="0" y="4.32" font-size="12" font-weight="bold" text-anchor="middle" fill="#000">chrVI</text></g>
<line x1="194" y1="185.3" x2="194" y2="189" stroke="#000" stroke-width="1.1"/>
<g transform="translate(194.5 197.4) rotate(-20)"><text x="0" y="4.32" font-size="12" font-weight="bold" text-anchor="middle" fill="#000">chrVII</text></g>
<line x1="221.7" y1="185.3" x2="221.7" y2="189" stroke="#000" stroke-width="1.1"/>
<g transform="translate(221.7 197.4) rotate(-20)"><text x="0" y="4.32" font-size="12" font-weight="bold" text-anchor="middle" fill="#000">chrVIII</text></g>
<line x1="241.4" y1="185.3" x2="241.4" y2="189" stroke="#000" stroke-width="1.1"/>
<g transform="translate(250 197.4) rotate(-20)"><text x="0" y="4.32" font-size="12" font-weight="bold" text-anchor="middle" fill="#000">chrIX</text></g>
<line x1="267.9" y1="185.3" x2="267.9" y2="189" stroke="#000" stroke-width="1.1"/>
<g transform="translate(273.3 197.4) rotate(-20)"><text x="0" y="4.32" font-size="12" font-weight="bold" text-anchor="middle" fill="#000">chrX</text></g>
<line x1="304.3" y1="185.3" x2="304.3" y2="189" stroke="#000" stroke-width="1.1"/>
<g transform="translate(306.1 197.4) rotate(-20)"><text x="0" y="4.32" font-size="12" font-weight="bold" text-anchor="middle" fill="#000">chrXI</text></g>
<line x1="347.2" y1="185.3" x2="347.2" y2="189" stroke="#000" stroke-width="1.1"/>
<g transform="translate(349.5 197.4) rotate(-20)"><text x="0" y="4.32" font-size="12" font-weight="bold" text-anchor="middle" fill="#000">chrXII</text></g>
<line x1="388.2" y1="185.3" x2="388.2" y2="189" stroke="#000" stroke-width="1.1"/>
<g transform="translate(389.9 197.4) rotate(-20)"><text x="0" y="4.32" font-size="12" font-weight="bold" text-anchor="middle" fill="#000">chrXIII</text></g>
<line x1="416.5" y1="185.3" x2="416.5" y2="189" stroke="#000" stroke-width="1.1"/>
<g transform="translate(417.8 197.4) rotate(-20)"><text x="0" y="4.32" font-size="12" font-weight="bold" text-anchor="middle" fill="#000">chrXIV</text></g>
<line x1="449.8" y1="185.3" x2="449.8" y2="189" stroke="#000" stroke-width="1.1"/>
<g transform="translate(450.8 197.4) rotate(-20)"><text x="0" y="4.32" font-size="12" font-weight="bold" text-anchor="middle" fill="#000">chrXV</text></g>
<line x1="484.3" y1="185.3" x2="484.3" y2="189" stroke="#000" stroke-width="1.1"/>
<g transform="translate(485.8 197.4) rotate(-20)"><text x="0" y="4.32" font-size="12" font-weight="bold" text-anchor="middle" fill="#000">chrXVI</text></g>
<text x="7.5" y="94.2" font-size="14" font-weight="bold" text-anchor="middle" fill="#000" transform="rotate(-90 7.5 94.2)" dominant-baseline="central">LOD score</text>
<text x="266" y="220.8" font-size="13.8" font-weight="bold" text-anchor="middle" fill="#000">Genome position</text>
<circle cx="136.1" cy="4.5" r="2.7" fill="#43a443"/>
<text x="142.3" y="8.3" font-size="11.4" font-weight="normal" text-anchor="start" fill="#231815" textLength="108.5" lengthAdjust="spacingAndGlyphs">Chronological lifespan</text>
<circle cx="274.6" cy="4.3" r="2.7" fill="#2a74bc"/>
<text x="280.9" y="8.3" font-size="11.4" font-weight="normal" text-anchor="start" fill="#231815" textLength="101.6" lengthAdjust="spacingAndGlyphs">Translation error rate</text>
<text x="5.5" y="243" font-size="20" font-weight="bold" text-anchor="middle" fill="#231815">b</text>
<rect x="162.4" y="248.5" width="77.69999999999999" height="164.8" fill="#bebebe" stroke="none" stroke-width="0"/>
<line x1="35.6" y1="286.3" x2="339.8" y2="286.3" stroke="#43a443" stroke-width="1.5" stroke-dasharray="6 5.96"/>
<line x1="35.6" y1="289.7" x2="339.8" y2="289.7" stroke="#2a74bc" stroke-width="1.5" stroke-dasharray="6 5.96"/>
<path d="M44.7 378.3h0M47.1 378.3h0M49.4 378.3h0M51.8 378.3h0M54.1 378.3h0M56.5 378.3h0M57.0 379.2h0M59.5 379.2h0M62.0 379.2h0M60.0 378.8h0M62.2 378.8h0M64.5 378.8h0M66.8 378.8h0M69.0 378.8h0M71.2 378.8h0M73.5 378.8h0M75.8 378.8h0M78.0 378.8h0M99.6 378.6h0M101.5 378.6h0M103.5 378.6h0M106.0 378.6h0M108.5 378.6h0M111.0 378.6h0M113.0 378.6h0M115.1 378.6h0M117.2 378.6h0M119.3 378.6h0M121.4 378.6h0M123.5 378.6h0M125.6 378.6h0M127.7 378.6h0M129.8 378.6h0M131.9 378.6h0M134.0 378.6h0M80.5 379.6h0M88.5 379.6h0M136.5 379.3h0M140.0 373.0h0M140.4 383.0h0M150.5 368.6h0M153.0 369.5h0M155.0 367.5h0M158.6 354.0h0M162.4 340.0h0M162.4 321.0h0M165.0 309.5h0M167.0 309.5h0M169.0 309.5h0M171.0 309.5h0M173.0 309.5h0M175.0 309.5h0M175.0 294.9h0M177.2 294.9h0M179.5 294.9h0M181.8 294.9h0M184.0 294.9h0M186.2 294.9h0M188.5 294.9h0M190.8 294.9h0M193.0 294.9h0M190.0 283.5h0M192.1 283.5h0M194.3 283.5h0M196.4 283.5h0M198.6 283.5h0M200.7 283.5h0M202.9 283.5h0M205.0 283.5h0M195.0 287.0h0M207.7 289.3h0M208.0 316.0h0M209.0 319.0h0M211.0 319.0h0M213.0 319.0h0M215.0 319.0h0M217.0 319.0h0M219.0 319.0h0M218.6 334.9h0M225.0 336.6h0M228.0 334.0h0M230.0 333.5h0M240.1 346.0h0M243.8 355.3h0M244.8 359.6h0M252.0 359.6h0M262.6 369.6h0M252.0 373.5h0M254.0 373.5h0M256.0 373.5h0M256.0 376.8h0M258.0 376.8h0M278.2 378.3h0M281.5 380.5h0M283.6 380.5h0M285.8 380.5h0M287.9 380.5h0M290.0 380.5h0M293.0 380.5h0M303.5 389.5h0M307.0 390.0h0M309.3 391.4h0M314.8 391.4h0M319.0 386.4h0M321.3 386.4h0M323.7 386.4h0M326.0 386.4h0" stroke="#43a443" stroke-width="3.2" stroke-linecap="round" fill="none"/>
<path d="M44.7 384.9h0M47.0 384.9h0M49.2 384.9h0M51.5 384.9h0M53.7 384.9h0M56.0 384.9h0M56.0 387.5h0M58.0 387.5h0M60.0 387.5h0M62.0 387.5h0M60.0 381.2h0M62.2 381.2h0M64.5 381.2h0M66.8 381.2h0M69.0 381.2h0M71.2 381.2h0M73.5 381.2h0M75.8 381.2h0M78.0 381.2h0M99.6 381.2h0M101.5 381.2h0M103.5 381.2h0M106.0 381.2h0M108.5 381.2h0M111.0 381.2h0M113.0 381.2h0M115.1 381.2h0M117.2 381.2h0M119.3 381.2h0M121.4 381.2h0M123.5 381.2h0M125.6 381.2h0M127.7 381.2h0M129.8 381.2h0M131.9 381.2h0M134.0 381.2h0M80.5 381.0h0M88.5 381.0h0M134.5 364.7h0M139.4 352.0h0M140.4 341.5h0M150.5 332.6h0M153.5 341.5h0M155.2 338.0h0M158.6 318.0h0M162.4 312.5h0M162.4 328.4h0M151.0 333.0h0M155.0 337.6h0M156.0 339.0h0M163.9 285.0h0M168.0 284.2h0M170.0 284.2h0M172.0 284.2h0M174.0 284.2h0M176.0 283.0h0M178.0 283.0h0M180.0 283.0h0M182.0 283.0h0M184.0 283.0h0M186.0 283.0h0M189.0 283.0h0M191.0 283.0h0M193.0 283.0h0M195.0 297.7h0M195.0 279.6h0M197.0 279.6h0M199.0 279.6h0M201.0 279.6h0M203.0 279.6h0M205.0 279.6h0M208.5 270.4h0M210.0 268.0h0M219.0 279.4h0M221.5 279.4h0M224.0 279.4h0M210.0 295.0h0M212.0 295.0h0M214.0 295.0h0M216.0 295.0h0M218.0 295.0h0M218.0 291.5h0M225.0 298.3h0M228.0 313.0h0M230.0 313.0h0M240.0 310.0h0M240.1 309.9h0M243.8 315.8h0M244.8 329.0h0M252.0 329.0h0M262.6 330.5h0M281.4 326.8h0M278.2 339.0h0M283.5 338.0h0M285.9 338.0h0M288.2 338.0h0M290.6 338.0h0M293.0 338.0h0M253.0 345.0h0M255.5 345.0h0M258.0 345.0h0M257.8 343.0h0M303.5 321.0h0M307.0 321.0h0M309.3 335.7h0M314.8 335.7h0M319.0 356.0h0M321.3 356.0h0M323.7 356.0h0M326.0 356.0h0" stroke="#2a74bc" stroke-width="3.2" stroke-linecap="round" fill="none"/>
<line x1="31.3" y1="248.1" x2="31.3" y2="413.3" stroke="#000" stroke-width="1.3"/>
<line x1="30.7" y1="413.3" x2="339.9" y2="413.3" stroke="#000" stroke-width="1.3"/>
<line x1="27.3" y1="406.3" x2="31.3" y2="406.3" stroke="#000" stroke-width="1.1"/>
<text x="25.3" y="410.8" font-size="12.5" font-weight="bold" text-anchor="end" fill="#000">0</text>
<line x1="27.3" y1="372.92" x2="31.3" y2="372.92" stroke="#000" stroke-width="1.1"/>
<text x="25.3" y="377.42" font-size="12.5" font-weight="bold" text-anchor="end" fill="#000">1</text>
<line x1="27.3" y1="339.54" x2="31.3" y2="339.54" stroke="#000" stroke-width="1.1"/>
<text x="25.3" y="344.04" font-size="12.5" font-weight="bold" text-anchor="end" fill="#000">2</text>
<line x1="27.3" y1="306.15999999999997" x2="31.3" y2="306.15999999999997" stroke="#000" stroke-width="1.1"/>
<text x="25.3" y="310.65999999999997" font-size="12.5" font-weight="bold" text-anchor="end" fill="#000">3</text>
<line x1="27.3" y1="272.78" x2="31.3" y2="272.78" stroke="#000" stroke-width="1.1"/>
<text x="25.3" y="277.28" font-size="12.5" font-weight="bold" text-anchor="end" fill="#000">4</text>
<line x1="44.7" y1="413.3" x2="44.7" y2="417" stroke="#000" stroke-width="1.1"/>
<text x="44.7" y="430.4" font-size="12.5" font-weight="bold" text-anchor="middle" fill="#000">600k</text>
<line x1="162.4" y1="413.3" x2="162.4" y2="417" stroke="#000" stroke-width="1.1"/>
<text x="162.4" y="430.4" font-size="12.5" font-weight="bold" text-anchor="middle" fill="#000">641k</text>
<line x1="240.2" y1="413.3" x2="240.2" y2="417" stroke="#000" stroke-width="1.1"/>
<text x="240.2" y="430.4" font-size="12.5" font-weight="bold" text-anchor="middle" fill="#000">669k</text>
<line x1="325.5" y1="413.3" x2="325.5" y2="417" stroke="#000" stroke-width="1.1"/>
<text x="325.5" y="430.4" font-size="12.5" font-weight="bold" text-anchor="middle" fill="#000">700k</text>
<text x="7.5" y="328.5" font-size="14" font-weight="bold" text-anchor="middle" fill="#000" transform="rotate(-90 7.5 328.5)" dominant-baseline="central">LOD score</text>
<text x="185" y="442.8" font-size="13.8" font-weight="bold" text-anchor="middle" fill="#000">Base position in chrX</text>
<circle cx="61" cy="240" r="2.7" fill="#43a443"/>
<text x="67.8" y="244" font-size="11.4" font-weight="normal" text-anchor="start" fill="#231815" textLength="107.7" lengthAdjust="spacingAndGlyphs">Chronological lifespan</text>
<circle cx="199.3" cy="239.6" r="2.7" fill="#2a74bc"/>
<text x="205.4" y="244" font-size="11.4" font-weight="normal" text-anchor="start" fill="#231815" textLength="103.7" lengthAdjust="spacingAndGlyphs">Translation error rate</text>
<path d="M87.6 546.6h0M68.3 550.7h0M86.8 552.5h0M77.8 557.3h0M80.6 558.6h0M69.5 562.4h0M76.9 564.2h0M81.2 566.3h0M68.8 573.1h0M74.5 572.1h0M70.4 576.6h0M73.8 576.2h0M71.0 578.3h0M80.0 577.0h0M82.3 579.9h0M86.4 577.8h0M87.6 578.6h0M73.5 584.2h0M77.2 584.8h0M80.9 585.4h0M72.2 587.3h0M83.9 589.7h0M76.6 591.0h0M72.9 592.8h0M81.5 594.0h0M76.6 596.3h0M82.1 596.5h0M87.6 596.5h0M88.9 598.7h0M70.8 598.4h0M67.9 600.4h0M72.0 600.8h0M84.6 601.4h0M67.3 604.5h0M78.2 604.9h0M83.3 604.5h0M85.8 604.5h0M76.6 607.8h0M82.7 608.2h0M86.8 609.4h0M88.0 610.0h0M79.0 588.0h0M75.0 587.0h0" stroke="#ffd200" stroke-width="2.9" stroke-linecap="round" fill="none"/>
<path d="M146.0 510.7h0M127.5 515.7h0M129.4 526.2h0M129.6 527.0h0M140.0 530.5h0M131.6 533.5h0M134.6 533.5h0M143.5 539.5h0M137.9 542.5h0M125.0 545.4h0M136.1 548.5h0M139.7 550.4h0M141.3 551.7h0M142.8 552.3h0M125.3 558.6h0M133.2 558.3h0M136.8 558.6h0M141.3 559.1h0M141.6 560.4h0M138.1 561.3h0M126.7 563.5h0M128.8 563.2h0M136.1 563.2h0M144.9 563.2h0M131.3 565.7h0M135.4 565.7h0M140.8 567.2h0M141.9 568.6h0M145.2 571.1h0M124.5 573.5h0M143.5 573.7h0M131.8 575.6h0M126.1 576.5h0M139.0 576.2h0M129.4 578.4h0M134.3 579.5h0M124.7 573.9h0M143.4 574.1h0M131.8 574.6h0M126.2 576.6h0M138.9 576.6h0M129.2 578.3h0M130.3 579.6h0M133.8 579.3h0M134.3 580.6h0M138.2 581.4h0M136.3 582.7h0M130.6 584.2h0M136.1 585.2h0M139.4 585.9h0M126.5 589.1h0M125.7 590.8h0M130.8 590.8h0M135.1 592.3h0M136.8 594.1h0M138.6 595.6h0M126.0 595.6h0M128.2 597.2h0M146.0 596.6h0M124.4 599.6h0M143.2 600.2h0M142.9 602.3h0M132.3 601.6h0M126.0 604.0h0M144.5 605.7h0M143.4 608.7h0M141.4 610.6h0M138.0 570.0h0M134.0 572.0h0" stroke="#ff650a" stroke-width="2.9" stroke-linecap="round" fill="none"/>
<path d="M259.5 518.6h0M278.0 527.4h0M264.1 532.1h0M259.4 536.6h0M260.7 545.7h0M259.0 547.7h0M271.9 544.5h0M270.6 547.7h0M266.1 551.8h0M273.9 552.6h0M260.0 554.4h0M267.8 557.2h0M261.2 563.5h0M269.3 563.2h0M274.6 564.3h0M271.4 567.3h0M280.3 568.1h0M259.0 569.8h0M261.7 569.3h0M265.8 568.3h0M264.3 571.4h0M271.4 571.9h0M259.2 574.1h0M280.3 575.9h0M262.7 577.4h0M275.9 579.8h0M262.7 577.6h0M275.9 580.4h0M262.0 582.0h0M278.3 584.0h0M260.7 585.4h0M263.1 585.4h0M270.2 585.2h0M264.3 587.7h0M261.2 589.1h0M259.2 590.5h0M268.8 588.8h0M265.8 593.8h0M258.4 598.4h0M266.3 598.2h0M267.8 597.6h0M265.3 599.9h0M269.3 600.4h0M262.4 601.7h0M272.6 601.7h0M278.3 605.0h0M273.2 609.8h0" stroke="#ffd200" stroke-width="2.9" stroke-linecap="round" fill="none"/>
<path d="M318.6 551.0h0M328.2 552.0h0M318.8 555.8h0M317.9 558.0h0M334.9 559.0h0M317.0 566.4h0M330.4 567.4h0M334.0 565.5h0M335.6 567.7h0M319.5 570.3h0M323.7 570.3h0M327.5 571.2h0M323.5 571.7h0M332.0 571.3h0M318.0 573.7h0M320.8 573.0h0M337.0 574.1h0M323.8 576.2h0M327.6 576.4h0M320.2 577.5h0M323.8 577.7h0M327.8 577.5h0M333.3 577.0h0M335.8 577.7h0M323.1 580.2h0M315.7 582.9h0M319.9 583.1h0M321.3 582.9h0M330.0 587.1h0M335.1 587.0h0M317.3 589.1h0M332.5 594.1h0M333.6 593.6h0M319.9 595.5h0M323.5 595.9h0M317.7 597.0h0M314.8 598.2h0M334.7 598.2h0M320.4 600.1h0M316.2 604.7h0M315.1 606.4h0M320.4 607.3h0M318.4 608.2h0M314.4 608.6h0M319.1 609.6h0M336.2 609.6h0M324.0 611.7h0M328.2 611.4h0M317.5 612.5h0M320.2 613.4h0M315.0 615.6h0M335.3 617.2h0M322.2 618.5h0M316.7 621.1h0M331.4 622.3h0M320.8 625.0h0M326.4 626.4h0M331.8 628.8h0M333.4 631.2h0M315.9 631.4h0M322.0 590.0h0M328.0 591.0h0" stroke="#ff650a" stroke-width="2.9" stroke-linecap="round" fill="none"/>
<line x1="64.2" y1="588.0" x2="92.6" y2="588.0" stroke="#000" stroke-width="1.5"/>
<line x1="78.55000000000001" y1="585.4" x2="78.55000000000001" y2="590.5" stroke="#000" stroke-width="1.3"/>
<line x1="73.2" y1="585.4" x2="83.9" y2="585.4" stroke="#000" stroke-width="1.3"/>
<line x1="73.2" y1="590.5" x2="83.9" y2="590.5" stroke="#000" stroke-width="1.3"/>
<line x1="120.7" y1="571.4" x2="149.0" y2="571.4" stroke="#000" stroke-width="1.5"/>
<line x1="134.95" y1="568.6" x2="134.95" y2="574.3" stroke="#000" stroke-width="1.3"/>
<line x1="129.4" y1="568.6" x2="140.5" y2="568.6" stroke="#000" stroke-width="1.3"/>
<line x1="129.4" y1="574.3" x2="140.5" y2="574.3" stroke="#000" stroke-width="1.3"/>
<line x1="255.1" y1="573.4" x2="283.7" y2="573.4" stroke="#000" stroke-width="1.5"/>
<line x1="269.65" y1="570.3" x2="269.65" y2="576.4" stroke="#000" stroke-width="1.3"/>
<line x1="264.1" y1="570.3" x2="275.2" y2="570.3" stroke="#000" stroke-width="1.3"/>
<line x1="264.1" y1="576.4" x2="275.2" y2="576.4" stroke="#000" stroke-width="1.3"/>
<line x1="311.9" y1="590.4" x2="340.1" y2="590.4" stroke="#000" stroke-width="1.5"/>
<line x1="325.79999999999995" y1="587.5" x2="325.79999999999995" y2="593.3" stroke="#000" stroke-width="1.3"/>
<line x1="320.2" y1="587.5" x2="331.4" y2="587.5" stroke="#000" stroke-width="1.3"/>
<line x1="320.2" y1="593.3" x2="331.4" y2="593.3" stroke="#000" stroke-width="1.3"/>
<line x1="44.7" y1="501.2" x2="44.7" y2="643.6" stroke="#000" stroke-width="1.3"/>
<line x1="44.1" y1="643.6" x2="168.8" y2="643.6" stroke="#000" stroke-width="1.3"/>
<line x1="40.7" y1="627.5" x2="44.7" y2="627.5" stroke="#000" stroke-width="1.1"/>
<text x="37.6" y="632.0" font-size="12.5" font-weight="bold" text-anchor="end" fill="#000">7</text>
<line x1="40.7" y1="587.3" x2="44.7" y2="587.3" stroke="#000" stroke-width="1.1"/>
<text x="37.6" y="591.8" font-size="12.5" font-weight="bold" text-anchor="end" fill="#000">9</text>
<line x1="40.7" y1="547.1" x2="44.7" y2="547.1" stroke="#000" stroke-width="1.1"/>
<text x="37.6" y="551.6" font-size="12.5" font-weight="bold" text-anchor="end" fill="#000">11</text>
<line x1="40.7" y1="506.9" x2="44.7" y2="506.9" stroke="#000" stroke-width="1.1"/>
<text x="37.6" y="511.4" font-size="12.5" font-weight="bold" text-anchor="end" fill="#000">13</text>
<line x1="77.9" y1="643.6" x2="77.9" y2="647.3" stroke="#000" stroke-width="1.1"/>
<text x="77.9" y="659.3" font-size="12.6" font-weight="bold" text-anchor="middle" fill="#000">C(BY)</text>
<line x1="135" y1="643.6" x2="135" y2="647.3" stroke="#000" stroke-width="1.1"/>
<text x="135" y="659.3" font-size="12.6" font-weight="bold" text-anchor="middle" fill="#000">T(RM)</text>
<text x="104" y="486.3" font-size="14" font-weight="bold" text-anchor="middle" fill="#231815">chrX:655475</text>
<text x="106.5" y="674.6" font-size="14" font-weight="bold" text-anchor="middle" fill="#231815">Allelic status</text>
<line x1="235.6" y1="501.2" x2="235.6" y2="643.6" stroke="#000" stroke-width="1.3"/>
<line x1="235.0" y1="643.6" x2="359.9" y2="643.6" stroke="#000" stroke-width="1.3"/>
<line x1="231.6" y1="627.5" x2="235.6" y2="627.5" stroke="#000" stroke-width="1.1"/>
<text x="228.8" y="632.0" font-size="12.5" font-weight="bold" text-anchor="end" fill="#000">7</text>
<line x1="231.6" y1="587.3" x2="235.6" y2="587.3" stroke="#000" stroke-width="1.1"/>
<text x="228.8" y="591.8" font-size="12.5" font-weight="bold" text-anchor="end" fill="#000">9</text>
<line x1="231.6" y1="547.1" x2="235.6" y2="547.1" stroke="#000" stroke-width="1.1"/>
<text x="228.8" y="551.6" font-size="12.5" font-weight="bold" text-anchor="end" fill="#000">11</text>
<line x1="231.6" y1="506.9" x2="235.6" y2="506.9" stroke="#000" stroke-width="1.1"/>
<text x="228.8" y="511.4" font-size="12.5" font-weight="bold" text-anchor="end" fill="#000">13</text>
<line x1="269.5" y1="643.6" x2="269.5" y2="647.3" stroke="#000" stroke-width="1.1"/>
<text x="269.5" y="659.3" font-size="12.6" font-weight="bold" text-anchor="middle" fill="#000">C(BY)</text>
<line x1="326.2" y1="643.6" x2="326.2" y2="647.3" stroke="#000" stroke-width="1.1"/>
<text x="326.2" y="659.3" font-size="12.6" font-weight="bold" text-anchor="middle" fill="#000">T(RM)</text>
<text x="299.3" y="486.3" font-size="14" font-weight="bold" text-anchor="middle" fill="#231815">chrX:655475</text>
<text x="297.3" y="674.6" font-size="14" font-weight="bold" text-anchor="middle" fill="#231815">Allelic status</text>
<text x="5" y="471" font-size="20" font-weight="bold" text-anchor="middle" fill="#231815">c</text>
<text x="186" y="470.8" font-size="20" font-weight="bold" text-anchor="middle" fill="#231815">d</text>
<text x="14" y="571.6" font-size="13.6" font-weight="bold" text-anchor="middle" fill="#231815" transform="rotate(-90 14 571.6)" dominant-baseline="central">Chronological lifespan</text>
<text x="191.5" y="571.7" font-size="13.6" font-weight="bold" text-anchor="middle" fill="#000" transform="rotate(-90 191.5 571.7)" dominant-baseline="central">Translation error</text>
<text x="207.7" y="570.5" font-size="13.6" font-weight="bold" text-anchor="middle" fill="#000" transform="rotate(-90 207.7 570.5)" dominant-baseline="central">rate (&#215;10<tspan font-size="7" dy="-4.5">-4</tspan><tspan dy="4.5">)</tspan></text>
<text x="359.6" y="243.7" font-size="20" font-weight="bold" text-anchor="middle" fill="#231815">f</text>
<line x1="422.1" y1="364.2" x2="422.1" y2="365.9" stroke="#333333" stroke-width="1.1"/>
<line x1="422.1" y1="373.6" x2="422.1" y2="381.8" stroke="#333333" stroke-width="1.1"/>
<rect x="409.6" y="365.9" width="25.0" height="7.7000000000000455" fill="#ffda00" stroke="#333333" stroke-width="1.3"/>
<line x1="409.6" y1="369.4" x2="434.6" y2="369.4" stroke="#333333" stroke-width="2.6"/>
<circle cx="421.9" cy="350.2" r="2.8" fill="#333"/>
<line x1="454.55" y1="349.5" x2="454.55" y2="370.1" stroke="#333333" stroke-width="1.1"/>
<line x1="454.55" y1="388.3" x2="454.55" y2="405.6" stroke="#333333" stroke-width="1.1"/>
<rect x="442.3" y="370.1" width="24.5" height="18.19999999999999" fill="#e8221c" stroke="#333333" stroke-width="1.3"/>
<line x1="442.3" y1="381.8" x2="466.8" y2="381.8" stroke="#333333" stroke-width="2.6"/>
<line x1="487.45" y1="266.3" x2="487.45" y2="307.3" stroke="#333333" stroke-width="1.1"/>
<line x1="487.45" y1="347.4" x2="487.45" y2="365.9" stroke="#333333" stroke-width="1.1"/>
<rect x="475.4" y="307.3" width="24.100000000000023" height="40.099999999999966" fill="#ff6e00" stroke="#333333" stroke-width="1.3"/>
<line x1="475.4" y1="325.8" x2="499.5" y2="325.8" stroke="#333333" stroke-width="2.6"/>
<line x1="402.4" y1="234.3" x2="402.4" y2="414.2" stroke="#000" stroke-width="1.3"/>
<line x1="401.3" y1="414.2" x2="506.5" y2="414.2" stroke="#000" stroke-width="1.3"/>
<line x1="398.4" y1="414.1" x2="402.4" y2="414.1" stroke="#000" stroke-width="1.1"/>
<text x="396.3" y="418.6" font-size="12.5" font-weight="bold" text-anchor="end" fill="#000">6</text>
<line x1="398.4" y1="360.79" x2="402.4" y2="360.79" stroke="#000" stroke-width="1.1"/>
<text x="396.3" y="365.29" font-size="12.5" font-weight="bold" text-anchor="end" fill="#000">9</text>
<line x1="398.4" y1="307.48" x2="402.4" y2="307.48" stroke="#000" stroke-width="1.1"/>
<text x="396.3" y="311.98" font-size="12.5" font-weight="bold" text-anchor="end" fill="#000">12</text>
<line x1="398.4" y1="254.17000000000002" x2="402.4" y2="254.17000000000002" stroke="#000" stroke-width="1.1"/>
<text x="396.3" y="258.67" font-size="12.5" font-weight="bold" text-anchor="end" fill="#000">15</text>
<line x1="421.9" y1="414.2" x2="421.9" y2="418" stroke="#000" stroke-width="1.1"/>
<line x1="454.6" y1="414.2" x2="454.6" y2="418" stroke="#000" stroke-width="1.1"/>
<line x1="487.3" y1="414.2" x2="487.3" y2="418" stroke="#000" stroke-width="1.1"/>
<g transform="translate(421.3 426) rotate(-20)"><text x="0" y="4.54" font-size="12.6" font-weight="bold" text-anchor="middle" fill="#231815">BY</text></g>
<g transform="translate(428.5 438.2) rotate(-20)"><text x="0" y="4.54" font-size="12.6" font-weight="bold" text-anchor="middle" fill="#231815">BY::VPS70-RM</text></g>
<g transform="translate(486.7 427.5) rotate(-20)"><text x="0" y="4.54" font-size="12.6" font-weight="bold" text-anchor="middle" fill="#231815">RM</text></g>
<path d="M421.9 246.0V242.0H487.3V246.0" fill="none" stroke="#333" stroke-width="1.1"/>
<text x="454.2" y="239.5" font-size="11" text-anchor="middle" fill="#222"><tspan font-style="italic">P</tspan> = 1</text>
<path d="M421.9 262.9V258.9H454.4V262.9" fill="none" stroke="#333" stroke-width="1.1"/>
<text x="438.2" y="256.5" font-size="11" text-anchor="middle" fill="#222"><tspan font-style="italic">P</tspan> = 0.016</text>
<text x="359" y="329.1" font-size="13.5" font-weight="bold" text-anchor="middle" fill="#000" transform="rotate(-90 359 329.1)" dominant-baseline="central">Translation error</text>
<text x="374.1" y="325.7" font-size="13.5" font-weight="bold" text-anchor="middle" fill="#000" transform="rotate(-90 374.1 325.7)" dominant-baseline="central">rate (&#215;10<tspan font-size="7" dy="-4.5">-4</tspan><tspan dy="4.5">)</tspan></text>
<text x="379.2" y="470.8" font-size="20" font-weight="bold" text-anchor="middle" fill="#231815">e</text>
<line x1="434.6" y1="595.2" x2="434.6" y2="602.5" stroke="#333333" stroke-width="1.1"/>
<line x1="434.6" y1="610.5" x2="434.6" y2="614.2" stroke="#333333" stroke-width="1.1"/>
<rect x="420.7" y="602.5" width="27.80000000000001" height="8.0" fill="#ffda00" stroke="#333333" stroke-width="1.3"/>
<line x1="420.7" y1="603.6" x2="448.5" y2="603.6" stroke="#333333" stroke-width="2.6"/>
<circle cx="434.6" cy="621.9" r="2.6" fill="#333"/>
<line x1="470.6" y1="603.5" x2="470.6" y2="604.2" stroke="#333333" stroke-width="1.1"/>
<line x1="470.6" y1="608.2" x2="470.6" y2="610.5" stroke="#333333" stroke-width="1.1"/>
<rect x="456.5" y="604.2" width="28.19999999999999" height="4.0" fill="#333" stroke="#333333" stroke-width="1.3"/>
<line x1="456.5" y1="606.2" x2="484.7" y2="606.2" stroke="#333333" stroke-width="2.5"/>
<circle cx="470.8" cy="600.3" r="2.4" fill="#333"/>
<line x1="507.45" y1="596.6" x2="507.45" y2="599.5" stroke="#333333" stroke-width="1.1"/>
<line x1="507.45" y1="603.9" x2="507.45" y2="604.5" stroke="#333333" stroke-width="1.1"/>
<rect x="493.4" y="599.5" width="28.100000000000023" height="4.399999999999977" fill="#fff" stroke="#333333" stroke-width="1.3"/>
<line x1="493.4" y1="601.3" x2="521.5" y2="601.3" stroke="#333333" stroke-width="1.6"/>
<circle cx="507.2" cy="613.7" r="2.4" fill="#333"/>
<line x1="543.8" y1="594.9" x2="543.8" y2="596.2" stroke="#333333" stroke-width="1.1"/>
<line x1="543.8" y1="609.8" x2="543.8" y2="620.7" stroke="#333333" stroke-width="1.1"/>
<rect x="529.6" y="596.2" width="28.399999999999977" height="13.599999999999909" fill="#fff" stroke="#333333" stroke-width="1.3"/>
<line x1="529.6" y1="598.0" x2="558.0" y2="598.0" stroke="#333333" stroke-width="2.6"/>
<line x1="580.25" y1="584.6" x2="580.25" y2="588.3" stroke="#333333" stroke-width="1.1"/>
<line x1="580.25" y1="604.3" x2="580.25" y2="611.5" stroke="#333333" stroke-width="1.1"/>
<rect x="566.3" y="588.3" width="27.90000000000009" height="16.0" fill="#e8221c" stroke="#333333" stroke-width="1.3"/>
<line x1="566.3" y1="591.6" x2="594.2" y2="591.6" stroke="#333333" stroke-width="2.6"/>
<line x1="616.4000000000001" y1="533.5" x2="616.4000000000001" y2="567.5" stroke="#333333" stroke-width="1.1"/>
<line x1="616.4000000000001" y1="604.5" x2="616.4000000000001" y2="606.5" stroke="#333333" stroke-width="1.1"/>
<rect x="602.6" y="567.5" width="27.600000000000023" height="37.0" fill="#fff" stroke="#333333" stroke-width="1.3"/>
<line x1="602.6" y1="601.4" x2="630.2" y2="601.4" stroke="#333333" stroke-width="2.6"/>
<line x1="652.95" y1="535.1" x2="652.95" y2="542.6" stroke="#333333" stroke-width="1.1"/>
<line x1="652.95" y1="557.4" x2="652.95" y2="564.9" stroke="#333333" stroke-width="1.1"/>
<rect x="639.2" y="542.6" width="27.5" height="14.799999999999955" fill="#ff6e00" stroke="#333333" stroke-width="1.3"/>
<line x1="639.2" y1="550.1" x2="666.7" y2="550.1" stroke="#333333" stroke-width="2.6"/>
<line x1="412.6" y1="469" x2="412.6" y2="629.1" stroke="#000" stroke-width="1.3"/>
<line x1="412.0" y1="629.1" x2="674.2" y2="629.1" stroke="#000" stroke-width="1.3"/>
<line x1="408.6" y1="626.4" x2="412.6" y2="626.4" stroke="#000" stroke-width="1.1"/>
<text x="406.5" y="630.9" font-size="12.5" font-weight="bold" text-anchor="end" fill="#000">6</text>
<line x1="408.6" y1="585.5" x2="412.6" y2="585.5" stroke="#000" stroke-width="1.1"/>
<text x="406.5" y="590.0" font-size="12.5" font-weight="bold" text-anchor="end" fill="#000">8</text>
<line x1="408.6" y1="544.6" x2="412.6" y2="544.6" stroke="#000" stroke-width="1.1"/>
<text x="406.5" y="549.1" font-size="12.5" font-weight="bold" text-anchor="end" fill="#000">10</text>
<line x1="408.6" y1="503.7" x2="412.6" y2="503.7" stroke="#000" stroke-width="1.1"/>
<text x="406.5" y="508.2" font-size="12.5" font-weight="bold" text-anchor="end" fill="#000">12</text>
<line x1="434.6" y1="629.1" x2="434.6" y2="633" stroke="#000" stroke-width="1.1"/>
<line x1="470.8" y1="629.1" x2="470.8" y2="633" stroke="#000" stroke-width="1.1"/>
<line x1="507.2" y1="629.1" x2="507.2" y2="633" stroke="#000" stroke-width="1.1"/>
<line x1="543.4" y1="629.1" x2="543.4" y2="633" stroke="#000" stroke-width="1.1"/>
<line x1="579.9" y1="629.1" x2="579.9" y2="633" stroke="#000" stroke-width="1.1"/>
<line x1="616.4" y1="629.1" x2="616.4" y2="633" stroke="#000" stroke-width="1.1"/>
<line x1="653.0" y1="629.1" x2="653.0" y2="633" stroke="#000" stroke-width="1.1"/>
<g transform="translate(434.4 641.2) rotate(-20)"><text x="0" y="4.54" font-size="12.6" font-weight="bold" text-anchor="middle" fill="#231815">BY</text></g>
<g transform="translate(443.9 651) rotate(-20)"><text x="0" y="4.54" font-size="12.6" font-weight="bold" text-anchor="middle" fill="#231815">BY::ILM1-RM</text></g>
<g transform="translate(479.8 652.1) rotate(-20)"><text x="0" y="4.54" font-size="12.6" font-weight="bold" text-anchor="middle" fill="#231815">BY::JHD2-RM</text></g>
<g transform="translate(516.3 654.2) rotate(-20)"><text x="0" y="4.54" font-size="12.6" font-weight="bold" text-anchor="middle" fill="#231815">BY::STE24-RM</text></g>
<g transform="translate(553.2 653.8) rotate(-20)"><text x="0" y="4.54" font-size="12.6" font-weight="bold" text-anchor="middle" fill="#231815">BY::VPS70-RM</text></g>
<g transform="translate(565.7 661.9) rotate(-20)"><text x="0" y="4.54" font-size="12.6" font-weight="bold" text-anchor="middle" fill="#231815">BY::RSF2-YJR128W-RM</text></g>
<g transform="translate(652.3 642.7) rotate(-20)"><text x="0" y="4.54" font-size="12.6" font-weight="bold" text-anchor="middle" fill="#231815">RM</text></g>
<path d="M434.6 472.6V469.8H652.6V472.6" fill="none" stroke="#ee2a24" stroke-width="1.1"/>
<text x="543.6" y="467.4" font-size="11" text-anchor="middle" fill="#ee2a24"><tspan font-style="italic">P</tspan> &lt; 10<tspan font-size="6.8" dy="-4.5">&#8722;4</tspan></text>
<path d="M434.6 484.0V481.2H616.4V484.0" fill="none" stroke="#333" stroke-width="1.1"/>
<text x="525.5" y="479.0" font-size="11" text-anchor="middle" fill="#222"><tspan font-style="italic">P</tspan> = 0.12</text>
<path d="M434.6 495.7V492.9H580.4V495.7" fill="none" stroke="#ee2a24" stroke-width="1.1"/>
<text x="507.5" y="490.7" font-size="11" text-anchor="middle" fill="#ee2a24"><tspan font-style="italic">P</tspan> = 0.008</text>
<path d="M434.6 507.5V504.7H543.2V507.5" fill="none" stroke="#333" stroke-width="1.1"/>
<text x="488.9" y="502.5" font-size="11" text-anchor="middle" fill="#222"><tspan font-style="italic">P</tspan> = 0.27</text>
<path d="M434.6 519.3V516.5H507.2V519.3" fill="none" stroke="#333" stroke-width="1.1"/>
<text x="470.9" y="514.3" font-size="11" text-anchor="middle" fill="#222"><tspan font-style="italic">P</tspan> = 0.12</text>
<path d="M434.6 530.6999999999999V527.9H471.0V530.6999999999999" fill="none" stroke="#333" stroke-width="1.1"/>
<text x="452.8" y="525.7" font-size="11" text-anchor="middle" fill="#222"><tspan font-style="italic">P</tspan> = 0.52</text>
<text x="382" y="549.3" font-size="13.1" font-weight="bold" text-anchor="middle" fill="#000" transform="rotate(-90 382 549.3)" dominant-baseline="central">Chronological lifespan</text>
<text x="521.5" y="17.5" font-size="20" font-weight="bold" text-anchor="middle" fill="#231815">g</text>
<rect x="573.9" y="8.7" width="50.2" height="21.0" fill="#fff" stroke="#000" stroke-width="1.5"/>
<rect x="633.2" y="8.7" width="50.8" height="21.0" fill="#fff" stroke="#000" stroke-width="1.5"/>
<text x="599.1" y="23.0" font-size="11" font-weight="bold" text-anchor="middle" fill="#000">DMSO</text>
<text x="658.6" y="23.0" font-size="11" font-weight="bold" text-anchor="middle" fill="#000">ConA</text>
<line x1="587.4000000000001" y1="163.1" x2="587.4000000000001" y2="165.1" stroke="#333333" stroke-width="1.1"/>
<line x1="587.4000000000001" y1="197.6" x2="587.4000000000001" y2="200.5" stroke="#333333" stroke-width="1.1"/>
<rect x="578.2" y="165.1" width="18.399999999999977" height="32.5" fill="#ffda00" stroke="#333333" stroke-width="1.3"/>
<line x1="578.2" y1="179.1" x2="596.6" y2="179.1" stroke="#333333" stroke-width="1.8"/>
<line x1="610.75" y1="81.9" x2="610.75" y2="92.2" stroke="#333333" stroke-width="1.1"/>
<line x1="610.75" y1="116.3" x2="610.75" y2="132.3" stroke="#333333" stroke-width="1.1"/>
<rect x="601.5" y="92.2" width="18.5" height="24.099999999999994" fill="#e8221c" stroke="#333333" stroke-width="1.3"/>
<line x1="601.5" y1="96.1" x2="620.0" y2="96.1" stroke="#333333" stroke-width="1.8"/>
<line x1="646.45" y1="154.5" x2="646.45" y2="166.8" stroke="#333333" stroke-width="1.1"/>
<line x1="646.45" y1="193.1" x2="646.45" y2="210.7" stroke="#333333" stroke-width="1.1"/>
<rect x="637.2" y="166.8" width="18.5" height="26.299999999999983" fill="#ffda00" stroke="#333333" stroke-width="1.3"/>
<line x1="637.2" y1="180.8" x2="655.7" y2="180.8" stroke="#333333" stroke-width="1.8"/>
<line x1="670.1" y1="139.2" x2="670.1" y2="139.2" stroke="#333333" stroke-width="1.1"/>
<line x1="670.1" y1="160.1" x2="670.1" y2="162.2" stroke="#333333" stroke-width="1.1"/>
<rect x="660.6" y="139.2" width="19.0" height="20.900000000000006" fill="#e8221c" stroke="#333333" stroke-width="1.3"/>
<line x1="660.6" y1="150.8" x2="679.6" y2="150.8" stroke="#333333" stroke-width="1.8"/>
<circle cx="586.5" cy="164.3" r="2.3" fill="#000"/>
<circle cx="586.5" cy="166" r="2.3" fill="#000"/>
<circle cx="588" cy="179" r="2.3" fill="#000"/>
<circle cx="587" cy="197.3" r="2.3" fill="#000"/>
<circle cx="585" cy="200.5" r="2.3" fill="#000"/>
<circle cx="610.5" cy="81.9" r="2.3" fill="#000"/>
<circle cx="611" cy="92.4" r="2.3" fill="#000"/>
<circle cx="610" cy="95.4" r="2.3" fill="#000"/>
<circle cx="612.5" cy="116.2" r="2.3" fill="#000"/>
<circle cx="608.5" cy="132.3" r="2.3" fill="#000"/>
<circle cx="648.3" cy="154.5" r="2.3" fill="#000"/>
<circle cx="646" cy="167.3" r="2.3" fill="#000"/>
<circle cx="645.5" cy="181" r="2.3" fill="#000"/>
<circle cx="646.5" cy="193.5" r="2.3" fill="#000"/>
<circle cx="648.4" cy="210.7" r="2.3" fill="#000"/>
<circle cx="668.5" cy="139.2" r="2.3" fill="#000"/>
<circle cx="668" cy="149.5" r="2.3" fill="#000"/>
<circle cx="669.5" cy="162.2" r="2.3" fill="#000"/>
<circle cx="667.5" cy="160" r="2.3" fill="#000"/>
<circle cx="667.5" cy="69.3" r="2.3" fill="#000"/>
<circle cx="669.5" cy="69.3" r="2.3" fill="#000"/>
<line x1="586.25" y1="297.5" x2="586.25" y2="297.5" stroke="#333333" stroke-width="1.1"/>
<line x1="586.25" y1="303.2" x2="586.25" y2="303.2" stroke="#333333" stroke-width="1.1"/>
<rect x="577.1" y="297.5" width="18.299999999999955" height="5.699999999999989" fill="#b39a35" stroke="#333333" stroke-width="1.3"/>
<line x1="577.1" y1="300.3" x2="595.4" y2="300.3" stroke="#333333" stroke-width="1.6"/>
<line x1="609.9" y1="303.3" x2="609.9" y2="324.7" stroke="#333333" stroke-width="1.1"/>
<line x1="609.9" y1="369.0" x2="609.9" y2="386.2" stroke="#333333" stroke-width="1.1"/>
<rect x="601.0" y="324.7" width="17.799999999999955" height="44.30000000000001" fill="#e8221c" stroke="#333333" stroke-width="1.3"/>
<line x1="601.0" y1="351.8" x2="618.8" y2="351.8" stroke="#333333" stroke-width="1.8"/>
<line x1="645.5" y1="271.3" x2="645.5" y2="276.7" stroke="#333333" stroke-width="1.1"/>
<line x1="645.5" y1="314.1" x2="645.5" y2="359.9" stroke="#333333" stroke-width="1.1"/>
<rect x="636.0" y="276.7" width="19.0" height="37.400000000000034" fill="#ffda00" stroke="#333333" stroke-width="1.3"/>
<line x1="636.0" y1="294.7" x2="655.0" y2="294.7" stroke="#333333" stroke-width="1.8"/>
<line x1="669.35" y1="275.0" x2="669.35" y2="297.1" stroke="#333333" stroke-width="1.1"/>
<line x1="669.35" y1="314.9" x2="669.35" y2="325.4" stroke="#333333" stroke-width="1.1"/>
<rect x="660.1" y="297.1" width="18.5" height="17.799999999999955" fill="#e8221c" stroke="#333333" stroke-width="1.3"/>
<line x1="660.1" y1="298.9" x2="678.6" y2="298.9" stroke="#333333" stroke-width="1.8"/>
<circle cx="587.5" cy="286.5" r="2.3" fill="#000"/>
<circle cx="590" cy="286.5" r="2.3" fill="#000"/>
<circle cx="587" cy="298" r="2.3" fill="#000"/>
<circle cx="586" cy="302" r="2.3" fill="#000"/>
<circle cx="590" cy="300.5" r="2.3" fill="#000"/>
<circle cx="586" cy="324.2" r="2.3" fill="#000"/>
<circle cx="610.7" cy="303.3" r="2.3" fill="#000"/>
<circle cx="610.7" cy="321.3" r="2.3" fill="#000"/>
<circle cx="610.7" cy="336.6" r="2.3" fill="#000"/>
<circle cx="608.7" cy="367.7" r="2.3" fill="#000"/>
<circle cx="606.5" cy="368.7" r="2.3" fill="#000"/>
<circle cx="610.7" cy="386.2" r="2.3" fill="#000"/>
<circle cx="646" cy="271" r="2.3" fill="#000"/>
<circle cx="650" cy="272.5" r="2.3" fill="#000"/>
<circle cx="644.5" cy="290.3" r="2.3" fill="#000"/>
<circle cx="648" cy="298.6" r="2.3" fill="#000"/>
<circle cx="645.5" cy="319" r="2.3" fill="#000"/>
<circle cx="646" cy="359.9" r="2.3" fill="#000"/>
<circle cx="669.2" cy="275" r="2.3" fill="#000"/>
<circle cx="667.5" cy="297.6" r="2.3" fill="#000"/>
<circle cx="668.7" cy="299.5" r="2.3" fill="#000"/>
<circle cx="671" cy="315" r="2.3" fill="#000"/>
<circle cx="669.2" cy="325.4" r="2.3" fill="#000"/>
<line x1="573.3" y1="30.2" x2="573.3" y2="219.6" stroke="#000" stroke-width="1.3"/>
<line x1="572.7" y1="219.6" x2="624.7" y2="219.6" stroke="#000" stroke-width="1.3"/>
<line x1="632.5" y1="219.6" x2="685" y2="219.6" stroke="#000" stroke-width="1.3"/>
<line x1="569.3" y1="199.5" x2="573.3" y2="199.5" stroke="#000" stroke-width="1.1"/>
<text x="566.2" y="204.0" font-size="12.5" font-weight="bold" text-anchor="end" fill="#000">0.9</text>
<line x1="569.3" y1="163.0" x2="573.3" y2="163.0" stroke="#000" stroke-width="1.1"/>
<text x="566.2" y="167.5" font-size="12.5" font-weight="bold" text-anchor="end" fill="#000">1.1</text>
<line x1="569.3" y1="126.5" x2="573.3" y2="126.5" stroke="#000" stroke-width="1.1"/>
<text x="566.2" y="131.0" font-size="12.5" font-weight="bold" text-anchor="end" fill="#000">1.3</text>
<line x1="569.3" y1="90.0" x2="573.3" y2="90.0" stroke="#000" stroke-width="1.1"/>
<text x="566.2" y="94.5" font-size="12.5" font-weight="bold" text-anchor="end" fill="#000">1.5</text>
<line x1="569.3" y1="53.5" x2="573.3" y2="53.5" stroke="#000" stroke-width="1.1"/>
<text x="566.2" y="58.0" font-size="12.5" font-weight="bold" text-anchor="end" fill="#000">1.7</text>
<line x1="572.7" y1="232.2" x2="572.7" y2="393.9" stroke="#000" stroke-width="1.3"/>
<line x1="572.1" y1="393.9" x2="624.2" y2="393.9" stroke="#000" stroke-width="1.3"/>
<line x1="631.7" y1="393.9" x2="685" y2="393.9" stroke="#000" stroke-width="1.3"/>
<line x1="568.7" y1="376.05" x2="572.7" y2="376.05" stroke="#000" stroke-width="1.1"/>
<text x="565.6" y="380.55" font-size="12.5" font-weight="bold" text-anchor="end" fill="#000">0.7</text>
<line x1="568.7" y1="326.7" x2="572.7" y2="326.7" stroke="#000" stroke-width="1.1"/>
<text x="565.6" y="331.2" font-size="12.5" font-weight="bold" text-anchor="end" fill="#000">0.9</text>
<line x1="568.7" y1="277.34999999999997" x2="572.7" y2="277.34999999999997" stroke="#000" stroke-width="1.1"/>
<text x="565.6" y="281.84999999999997" font-size="12.5" font-weight="bold" text-anchor="end" fill="#000">1.1</text>
<line x1="586.6" y1="393.9" x2="586.6" y2="397.5" stroke="#000" stroke-width="1.1"/>
<line x1="609.9" y1="393.9" x2="609.9" y2="397.5" stroke="#000" stroke-width="1.1"/>
<line x1="645.8" y1="393.9" x2="645.8" y2="397.5" stroke="#000" stroke-width="1.1"/>
<line x1="669.6" y1="393.9" x2="669.6" y2="397.5" stroke="#000" stroke-width="1.1"/>
<g transform="translate(577 406.1) rotate(-20)"><text x="0" y="4.54" font-size="12.6" font-weight="bold" text-anchor="middle" fill="#231815">BY</text></g>
<g transform="translate(584.4 417.3) rotate(-20)"><text x="0" y="4.54" font-size="12.6" font-weight="bold" text-anchor="middle" fill="#231815">BY::VPS70-RM</text></g>
<g transform="translate(636.9 406.1) rotate(-20)"><text x="0" y="4.54" font-size="12.6" font-weight="bold" text-anchor="middle" fill="#231815">BY</text></g>
<g transform="translate(643.7 418.9) rotate(-20)"><text x="0" y="4.54" font-size="12.6" font-weight="bold" text-anchor="middle" fill="#231815">BY::VPS70-RM</text></g>
<path d="M586.3 64.7V61.7H610.9V64.7" fill="none" stroke="#333" stroke-width="1.1"/>
<text x="600" y="59.7" font-size="11" text-anchor="middle" fill="#222"><tspan font-style="italic">P</tspan> &lt; 10<tspan font-size="6.8" dy="-4.5">&#8722;3</tspan></text>
<path d="M645.9 64.7V61.7H670.0V64.7" fill="none" stroke="#333" stroke-width="1.1"/>
<text x="658.6" y="59.7" font-size="11" text-anchor="middle" fill="#222"><tspan font-style="italic">P</tspan> = 0.03</text>
<path d="M586.3 260.2V257.0H610.9V260.2" fill="none" stroke="#333" stroke-width="1.1"/>
<text x="598.1" y="255.8" font-size="11" text-anchor="middle" fill="#222"><tspan font-style="italic">P</tspan> = 0.008</text>
<path d="M645.9 260.2V257.0H670.0V260.2" fill="none" stroke="#333" stroke-width="1.1"/>
<text x="658.4" y="255.8" font-size="11" text-anchor="middle" fill="#222"><tspan font-style="italic">P</tspan> = 0.49</text>
<text x="523.8" y="122.6" font-size="13" font-weight="bold" text-anchor="middle" fill="#000" transform="rotate(-90 523.8 122.6)" textLength="174" lengthAdjust="spacingAndGlyphs" dominant-baseline="central">Chronological lifespan relative</text>
<text x="540.5" y="122.6" font-size="13" font-weight="bold" text-anchor="middle" fill="#000" transform="rotate(-90 540.5 122.6)" textLength="136.5" lengthAdjust="spacingAndGlyphs" dominant-baseline="central">to BY parental strain</text>
<text x="523" y="311.9" font-size="13" font-weight="bold" text-anchor="middle" fill="#000" transform="rotate(-90 523 311.9)" textLength="138" lengthAdjust="spacingAndGlyphs" dominant-baseline="central">Translation error rate</text>
<text x="539.7" y="309" font-size="13" font-weight="bold" text-anchor="middle" fill="#000" transform="rotate(-90 539.7 309)" textLength="187" lengthAdjust="spacingAndGlyphs" dominant-baseline="central">relative to BY parental strain</text>
</svg></body></html>
